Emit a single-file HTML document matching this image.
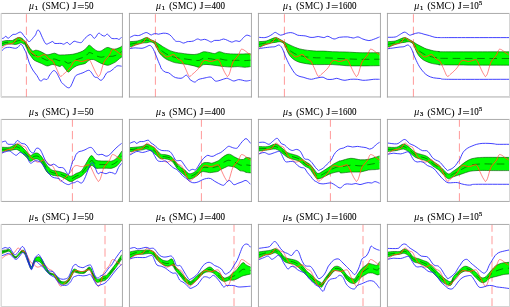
<!DOCTYPE html>
<html><head><meta charset="utf-8"><style>
html,body{margin:0;padding:0;background:#fff;width:510px;height:307px;overflow:hidden;}
svg{display:block;font-family:"Liberation Serif",serif;}
.t{filter:grayscale(1);}
</style></head><body>
<svg width="510" height="307" viewBox="0 0 510 307">
<rect width="510" height="307" fill="#fff"/>
<clipPath id="c00"><rect x="1.4" y="13.45" width="121.05" height="83.5"/></clipPath>
<g transform="translate(0,0)">
<g clip-path="url(#c00)">
<line x1="26.4" y1="14.2" x2="26.4" y2="97.95" stroke="#ff9a9a" stroke-width="1.0" stroke-dasharray="8.3 4.15"/>
<path d="M1,41.8 C1.68,41.62 3.85,40.92 5.1,40.7 C6.35,40.48 7.37,40.53 8.5,40.5 C9.63,40.47 11.15,40.55 11.9,40.5 C12.65,40.45 11.95,40.68 13,40.2 C14.05,39.72 16.78,37.95 18.2,37.6 C19.62,37.25 20.42,37.52 21.5,38.1 C22.58,38.68 23.73,40.07 24.7,41.1 C25.67,42.13 26.42,43.1 27.3,44.3 C28.18,45.5 29.12,47.2 30,48.3 C30.88,49.4 31.63,50.58 32.6,50.9 C33.57,51.22 34.72,50.2 35.8,50.2 C36.88,50.2 37.9,50.47 39.1,50.9 C40.3,51.33 41.7,52.15 43,52.8 C44.3,53.45 45.6,54.58 46.9,54.8 C48.2,55.02 49.5,54.37 50.8,54.1 C52.1,53.83 53.4,53.08 54.7,53.2 C56,53.32 57.38,54.52 58.6,54.8 C59.82,55.08 60.57,54.92 62,54.9 C63.43,54.88 65.47,54.8 67.2,54.7 C68.93,54.6 70.67,54.58 72.4,54.3 C74.13,54.02 75.87,53.55 77.6,53 C79.33,52.45 81.28,51.87 82.8,51 C84.32,50.13 85.62,48.77 86.7,47.8 C87.78,46.83 88.2,45.1 89.3,45.2 C90.4,45.3 91.98,47.43 93.3,48.4 C94.62,49.37 95.9,50.57 97.2,51 C98.5,51.43 99.8,51.43 101.1,51 C102.4,50.57 103.82,49 105,48.4 C106.18,47.8 106.9,47.28 108.2,47.4 C109.5,47.52 111.38,48.88 112.8,49.1 C114.22,49.32 115.4,49.03 116.7,48.7 C118,48.37 119.73,47.58 120.6,47.1 C121.47,46.62 121.68,46.02 121.9,45.8 L121.9,56.9 C121.47,57.22 120.38,57.93 119.3,58.8 C118.22,59.67 116.7,61.23 115.4,62.1 C114.1,62.97 112.7,63.47 111.5,64 C110.3,64.53 109.28,65.18 108.2,65.3 C107.12,65.42 106.18,65.02 105,64.7 C103.82,64.38 102.4,63.95 101.1,63.4 C99.8,62.85 98.5,62.05 97.2,61.4 C95.9,60.75 94.62,59.72 93.3,59.5 C91.98,59.28 90.62,59.45 89.3,60.1 C87.98,60.75 86.92,62.63 85.4,63.4 C83.88,64.17 81.72,64.27 80.2,64.7 C78.68,65.13 77.6,65.35 76.3,66 C75,66.65 73.48,67.73 72.4,68.6 C71.32,69.47 70.55,70.65 69.8,71.2 C69.05,71.75 68.77,72.43 67.9,71.9 C67.03,71.37 65.58,69.1 64.6,68 C63.62,66.9 62.78,65.55 62,65.3 C61.22,65.05 60.9,66.52 59.9,66.5 C58.9,66.48 57.3,65.53 56,65.2 C54.7,64.87 53.4,64.38 52.1,64.5 C50.8,64.62 49.28,65.73 48.2,65.9 C47.12,66.07 46.68,65.88 45.6,65.5 C44.52,65.12 43,64.2 41.7,63.6 C40.4,63 39.1,62.5 37.8,61.9 C36.5,61.3 34.98,60.87 33.9,60 C32.82,59.13 32.18,57.9 31.3,56.7 C30.42,55.5 29.37,54.2 28.6,52.8 C27.83,51.4 27.35,49.72 26.7,48.3 C26.05,46.88 25.2,45 24.7,44.3 C24.2,43.6 24.28,44.35 23.7,44.1 C23.12,43.85 22.05,42.87 21.2,42.8 C20.35,42.73 19.58,43.42 18.6,43.7 C17.62,43.98 16.42,44.43 15.3,44.5 C14.18,44.57 13.03,44.17 11.9,44.1 C10.77,44.03 9.63,44.03 8.5,44.1 C7.37,44.17 6.35,44.05 5.1,44.5 C3.85,44.95 1.68,46.42 1,46.8 Z" fill="#00ff00"/>
<path d="M1,41.8 C1.68,41.62 3.85,40.92 5.1,40.7 C6.35,40.48 7.37,40.53 8.5,40.5 C9.63,40.47 11.15,40.55 11.9,40.5 C12.65,40.45 11.95,40.68 13,40.2 C14.05,39.72 16.78,37.95 18.2,37.6 C19.62,37.25 20.42,37.52 21.5,38.1 C22.58,38.68 23.73,40.07 24.7,41.1 C25.67,42.13 26.42,43.1 27.3,44.3 C28.18,45.5 29.12,47.2 30,48.3 C30.88,49.4 31.63,50.58 32.6,50.9 C33.57,51.22 34.72,50.2 35.8,50.2 C36.88,50.2 37.9,50.47 39.1,50.9 C40.3,51.33 41.7,52.15 43,52.8 C44.3,53.45 45.6,54.58 46.9,54.8 C48.2,55.02 49.5,54.37 50.8,54.1 C52.1,53.83 53.4,53.08 54.7,53.2 C56,53.32 57.38,54.52 58.6,54.8 C59.82,55.08 60.57,54.92 62,54.9 C63.43,54.88 65.47,54.8 67.2,54.7 C68.93,54.6 70.67,54.58 72.4,54.3 C74.13,54.02 75.87,53.55 77.6,53 C79.33,52.45 81.28,51.87 82.8,51 C84.32,50.13 85.62,48.77 86.7,47.8 C87.78,46.83 88.2,45.1 89.3,45.2 C90.4,45.3 91.98,47.43 93.3,48.4 C94.62,49.37 95.9,50.57 97.2,51 C98.5,51.43 99.8,51.43 101.1,51 C102.4,50.57 103.82,49 105,48.4 C106.18,47.8 106.9,47.28 108.2,47.4 C109.5,47.52 111.38,48.88 112.8,49.1 C114.22,49.32 115.4,49.03 116.7,48.7 C118,48.37 119.73,47.58 120.6,47.1 C121.47,46.62 121.68,46.02 121.9,45.8" fill="none" stroke="#004f00" stroke-width="0.6"/>
<path d="M1,46.8 C1.68,46.42 3.85,44.95 5.1,44.5 C6.35,44.05 7.37,44.17 8.5,44.1 C9.63,44.03 10.77,44.03 11.9,44.1 C13.03,44.17 14.18,44.57 15.3,44.5 C16.42,44.43 17.62,43.98 18.6,43.7 C19.58,43.42 20.35,42.73 21.2,42.8 C22.05,42.87 23.12,43.85 23.7,44.1 C24.28,44.35 24.2,43.6 24.7,44.3 C25.2,45 26.05,46.88 26.7,48.3 C27.35,49.72 27.83,51.4 28.6,52.8 C29.37,54.2 30.42,55.5 31.3,56.7 C32.18,57.9 32.82,59.13 33.9,60 C34.98,60.87 36.5,61.3 37.8,61.9 C39.1,62.5 40.4,63 41.7,63.6 C43,64.2 44.52,65.12 45.6,65.5 C46.68,65.88 47.12,66.07 48.2,65.9 C49.28,65.73 50.8,64.62 52.1,64.5 C53.4,64.38 54.7,64.87 56,65.2 C57.3,65.53 58.9,66.48 59.9,66.5 C60.9,66.52 61.22,65.05 62,65.3 C62.78,65.55 63.62,66.9 64.6,68 C65.58,69.1 67.03,71.37 67.9,71.9 C68.77,72.43 69.05,71.75 69.8,71.2 C70.55,70.65 71.32,69.47 72.4,68.6 C73.48,67.73 75,66.65 76.3,66 C77.6,65.35 78.68,65.13 80.2,64.7 C81.72,64.27 83.88,64.17 85.4,63.4 C86.92,62.63 87.98,60.75 89.3,60.1 C90.62,59.45 91.98,59.28 93.3,59.5 C94.62,59.72 95.9,60.75 97.2,61.4 C98.5,62.05 99.8,62.85 101.1,63.4 C102.4,63.95 103.82,64.38 105,64.7 C106.18,65.02 107.12,65.42 108.2,65.3 C109.28,65.18 110.3,64.53 111.5,64 C112.7,63.47 114.1,62.97 115.4,62.1 C116.7,61.23 118.22,59.67 119.3,58.8 C120.38,57.93 121.47,57.22 121.9,56.9" fill="none" stroke="#004f00" stroke-width="0.6"/>
<path d="M1,44.3 C1.68,44.02 3.85,42.93 5.1,42.6 C6.35,42.27 7.37,42.35 8.5,42.3 C9.63,42.25 11.15,42.31 11.9,42.3 C12.65,42.29 12.43,42.3 13,42.21 C13.57,42.13 14.43,42.03 15.3,41.78 C16.17,41.52 17.65,40.88 18.2,40.7 C18.75,40.52 18.1,40.73 18.6,40.68 C19.1,40.64 20.72,40.45 21.2,40.43 C21.68,40.4 21.08,40.24 21.5,40.53 C21.92,40.81 23.17,41.77 23.7,42.13 C24.23,42.49 24.2,42.07 24.7,42.7 C25.2,43.33 26.27,45.21 26.7,45.93 C27.13,46.65 26.98,46.41 27.3,47.01 C27.62,47.61 28.15,48.75 28.6,49.51 C29.05,50.27 29.55,50.95 30,51.56 C30.45,52.17 30.87,52.64 31.3,53.15 C31.73,53.66 32.17,54.27 32.6,54.62 C33.03,54.98 33.37,55.15 33.9,55.31 C34.43,55.46 35.15,55.4 35.8,55.56 C36.45,55.72 37.25,56.08 37.8,56.26 C38.35,56.45 38.45,56.41 39.1,56.68 C39.75,56.95 41.05,57.58 41.7,57.88 C42.35,58.19 42.35,58.19 43,58.52 C43.65,58.84 44.95,59.53 45.6,59.82 C46.25,60.11 46.47,60.18 46.9,60.25 C47.33,60.32 47.55,60.35 48.2,60.23 C48.85,60.11 50.15,59.71 50.8,59.53 C51.45,59.35 51.45,59.23 52.1,59.15 C52.75,59.08 54.05,59.03 54.7,59.08 C55.35,59.14 55.35,59.24 56,59.47 C56.65,59.69 57.95,60.23 58.6,60.43 C59.25,60.63 59.33,60.72 59.9,60.67 C60.47,60.61 61.22,59.98 62,60.1 C62.78,60.22 63.73,60.94 64.6,61.4 C65.47,61.86 66.65,62.57 67.2,62.89 C67.75,63.2 67.47,63.28 67.9,63.27 C68.33,63.27 69.05,63.15 69.8,62.85 C70.55,62.55 71.32,61.98 72.4,61.45 C73.48,60.92 75.43,60.02 76.3,59.66 C77.17,59.3 76.95,59.5 77.6,59.28 C78.25,59.06 79.33,58.64 80.2,58.35 C81.07,58.06 81.93,57.89 82.8,57.52 C83.67,57.16 84.75,56.55 85.4,56.13 C86.05,55.72 86.05,55.63 86.7,55.05 C87.35,54.47 88.2,52.83 89.3,52.65 C90.4,52.47 91.98,53.36 93.3,53.95 C94.62,54.54 95.9,55.66 97.2,56.2 C98.5,56.74 99.8,57.14 101.1,57.2 C102.4,57.26 103.82,56.69 105,56.55 C106.18,56.41 107.12,56.39 108.2,56.35 C109.28,56.31 110.73,56.33 111.5,56.31 C112.27,56.29 112.15,56.37 112.8,56.23 C113.45,56.09 114.75,55.7 115.4,55.47 C116.05,55.24 116.05,55.23 116.7,54.85 C117.35,54.48 118.65,53.61 119.3,53.22 C119.95,52.82 120.17,52.79 120.6,52.48 C121.03,52.16 121.68,51.54 121.9,51.35" fill="none" stroke="#000000" stroke-width="0.55" stroke-dasharray="7.6 4.6" opacity="0.85"/>
<path d="M0.3,49.3 C0.53,49.13 0.9,48.95 1.7,48.3 C2.5,47.65 3.97,46.1 5.1,45.4 C6.23,44.7 7.37,44.4 8.5,44.1 C9.63,43.8 10.92,43.95 11.9,43.6 C12.88,43.25 13.57,42.83 14.4,42 C15.23,41.17 16.27,39.37 16.9,38.6 C17.53,37.83 17.63,37.33 18.2,37.4 C18.77,37.47 19.52,38.45 20.3,39 C21.08,39.55 22.05,40.27 22.9,40.7 C23.75,41.13 24.7,40.9 25.4,41.6 C26.1,42.3 26.47,43.63 27.1,44.9 C27.73,46.17 28.48,47.92 29.2,49.2 C29.92,50.48 30.68,51.82 31.4,52.6 C32.12,53.38 32.57,53.2 33.5,53.9 C34.43,54.6 35.85,56.42 37,56.8 C38.15,57.18 39.27,56.58 40.4,56.2 C41.53,55.82 42.85,54.6 43.8,54.5 C44.75,54.4 45.25,54.85 46.1,55.6 C46.95,56.35 47.87,58.18 48.9,59 C49.93,59.82 51.35,59.6 52.3,60.5 C53.25,61.4 53.75,62.72 54.6,64.4 C55.45,66.08 56.45,68.62 57.4,70.6 C58.35,72.58 59.25,75.73 60.3,76.3 C61.35,76.87 62.57,74.88 63.7,74 C64.83,73.12 65.97,72.13 67.1,71 C68.23,69.87 69.37,68.78 70.5,67.2 C71.63,65.62 72.77,62.63 73.9,61.5 C75.03,60.37 76.15,60.4 77.3,60.4 C78.45,60.4 79.65,61.4 80.8,61.5 C81.95,61.6 83.07,61.28 84.2,61 C85.33,60.72 86.65,59.9 87.6,59.8 C88.55,59.7 89.05,59.35 89.9,60.4 C90.75,61.45 91.75,64.12 92.7,66.1 C93.65,68.08 94.75,70.68 95.6,72.3 C96.45,73.92 97.3,75.1 97.8,75.8 C98.3,76.5 98.15,76.88 98.6,76.5 C99.05,76.12 99.67,75.75 100.5,73.5 C101.33,71.25 102.58,65.5 103.6,63 C104.62,60.5 105.62,59.83 106.6,58.5 C107.58,57.17 108.8,56.08 109.5,55 C110.2,53.92 110.33,52.95 110.8,52 C111.27,51.05 111.6,49.63 112.3,49.3 C113,48.97 113.97,49.43 115,50 C116.03,50.57 117.42,51.92 118.5,52.7 C119.58,53.48 121,54.37 121.5,54.7" fill="none" stroke="#ff2a2a" stroke-width="0.8" stroke-linejoin="round" opacity="0.7"/>
<clipPath id="bc00"><path d="M1,41.8 C1.68,41.62 3.85,40.92 5.1,40.7 C6.35,40.48 7.37,40.53 8.5,40.5 C9.63,40.47 11.15,40.55 11.9,40.5 C12.65,40.45 11.95,40.68 13,40.2 C14.05,39.72 16.78,37.95 18.2,37.6 C19.62,37.25 20.42,37.52 21.5,38.1 C22.58,38.68 23.73,40.07 24.7,41.1 C25.67,42.13 26.42,43.1 27.3,44.3 C28.18,45.5 29.12,47.2 30,48.3 C30.88,49.4 31.63,50.58 32.6,50.9 C33.57,51.22 34.72,50.2 35.8,50.2 C36.88,50.2 37.9,50.47 39.1,50.9 C40.3,51.33 41.7,52.15 43,52.8 C44.3,53.45 45.6,54.58 46.9,54.8 C48.2,55.02 49.5,54.37 50.8,54.1 C52.1,53.83 53.4,53.08 54.7,53.2 C56,53.32 57.38,54.52 58.6,54.8 C59.82,55.08 60.57,54.92 62,54.9 C63.43,54.88 65.47,54.8 67.2,54.7 C68.93,54.6 70.67,54.58 72.4,54.3 C74.13,54.02 75.87,53.55 77.6,53 C79.33,52.45 81.28,51.87 82.8,51 C84.32,50.13 85.62,48.77 86.7,47.8 C87.78,46.83 88.2,45.1 89.3,45.2 C90.4,45.3 91.98,47.43 93.3,48.4 C94.62,49.37 95.9,50.57 97.2,51 C98.5,51.43 99.8,51.43 101.1,51 C102.4,50.57 103.82,49 105,48.4 C106.18,47.8 106.9,47.28 108.2,47.4 C109.5,47.52 111.38,48.88 112.8,49.1 C114.22,49.32 115.4,49.03 116.7,48.7 C118,48.37 119.73,47.58 120.6,47.1 C121.47,46.62 121.68,46.02 121.9,45.8 L121.9,56.9 C121.47,57.22 120.38,57.93 119.3,58.8 C118.22,59.67 116.7,61.23 115.4,62.1 C114.1,62.97 112.7,63.47 111.5,64 C110.3,64.53 109.28,65.18 108.2,65.3 C107.12,65.42 106.18,65.02 105,64.7 C103.82,64.38 102.4,63.95 101.1,63.4 C99.8,62.85 98.5,62.05 97.2,61.4 C95.9,60.75 94.62,59.72 93.3,59.5 C91.98,59.28 90.62,59.45 89.3,60.1 C87.98,60.75 86.92,62.63 85.4,63.4 C83.88,64.17 81.72,64.27 80.2,64.7 C78.68,65.13 77.6,65.35 76.3,66 C75,66.65 73.48,67.73 72.4,68.6 C71.32,69.47 70.55,70.65 69.8,71.2 C69.05,71.75 68.77,72.43 67.9,71.9 C67.03,71.37 65.58,69.1 64.6,68 C63.62,66.9 62.78,65.55 62,65.3 C61.22,65.05 60.9,66.52 59.9,66.5 C58.9,66.48 57.3,65.53 56,65.2 C54.7,64.87 53.4,64.38 52.1,64.5 C50.8,64.62 49.28,65.73 48.2,65.9 C47.12,66.07 46.68,65.88 45.6,65.5 C44.52,65.12 43,64.2 41.7,63.6 C40.4,63 39.1,62.5 37.8,61.9 C36.5,61.3 34.98,60.87 33.9,60 C32.82,59.13 32.18,57.9 31.3,56.7 C30.42,55.5 29.37,54.2 28.6,52.8 C27.83,51.4 27.35,49.72 26.7,48.3 C26.05,46.88 25.2,45 24.7,44.3 C24.2,43.6 24.28,44.35 23.7,44.1 C23.12,43.85 22.05,42.87 21.2,42.8 C20.35,42.73 19.58,43.42 18.6,43.7 C17.62,43.98 16.42,44.43 15.3,44.5 C14.18,44.57 13.03,44.17 11.9,44.1 C10.77,44.03 9.63,44.03 8.5,44.1 C7.37,44.17 6.35,44.05 5.1,44.5 C3.85,44.95 1.68,46.42 1,46.8 Z"/></clipPath>
<path clip-path="url(#bc00)" d="M0.3,49.3 C0.53,49.13 0.9,48.95 1.7,48.3 C2.5,47.65 3.97,46.1 5.1,45.4 C6.23,44.7 7.37,44.4 8.5,44.1 C9.63,43.8 10.92,43.95 11.9,43.6 C12.88,43.25 13.57,42.83 14.4,42 C15.23,41.17 16.27,39.37 16.9,38.6 C17.53,37.83 17.63,37.33 18.2,37.4 C18.77,37.47 19.52,38.45 20.3,39 C21.08,39.55 22.05,40.27 22.9,40.7 C23.75,41.13 24.7,40.9 25.4,41.6 C26.1,42.3 26.47,43.63 27.1,44.9 C27.73,46.17 28.48,47.92 29.2,49.2 C29.92,50.48 30.68,51.82 31.4,52.6 C32.12,53.38 32.57,53.2 33.5,53.9 C34.43,54.6 35.85,56.42 37,56.8 C38.15,57.18 39.27,56.58 40.4,56.2 C41.53,55.82 42.85,54.6 43.8,54.5 C44.75,54.4 45.25,54.85 46.1,55.6 C46.95,56.35 47.87,58.18 48.9,59 C49.93,59.82 51.35,59.6 52.3,60.5 C53.25,61.4 53.75,62.72 54.6,64.4 C55.45,66.08 56.45,68.62 57.4,70.6 C58.35,72.58 59.25,75.73 60.3,76.3 C61.35,76.87 62.57,74.88 63.7,74 C64.83,73.12 65.97,72.13 67.1,71 C68.23,69.87 69.37,68.78 70.5,67.2 C71.63,65.62 72.77,62.63 73.9,61.5 C75.03,60.37 76.15,60.4 77.3,60.4 C78.45,60.4 79.65,61.4 80.8,61.5 C81.95,61.6 83.07,61.28 84.2,61 C85.33,60.72 86.65,59.9 87.6,59.8 C88.55,59.7 89.05,59.35 89.9,60.4 C90.75,61.45 91.75,64.12 92.7,66.1 C93.65,68.08 94.75,70.68 95.6,72.3 C96.45,73.92 97.3,75.1 97.8,75.8 C98.3,76.5 98.15,76.88 98.6,76.5 C99.05,76.12 99.67,75.75 100.5,73.5 C101.33,71.25 102.58,65.5 103.6,63 C104.62,60.5 105.62,59.83 106.6,58.5 C107.58,57.17 108.8,56.08 109.5,55 C110.2,53.92 110.33,52.95 110.8,52 C111.27,51.05 111.6,49.63 112.3,49.3 C113,48.97 113.97,49.43 115,50 C116.03,50.57 117.42,51.92 118.5,52.7 C119.58,53.48 121,54.37 121.5,54.7" fill="none" stroke="#ff6a00" stroke-width="0.9" stroke-linejoin="round" opacity="0.85"/>
<path d="M1,38.8 C1.47,38.67 2.98,38.43 3.8,38 C4.62,37.57 5.2,36.15 5.9,36.2 C6.6,36.25 7.15,38.33 8,38.3 C8.85,38.27 10.15,36.65 11,36 C11.85,35.35 12.38,34.67 13.1,34.4 C13.82,34.13 14.52,34.62 15.3,34.4 C16.08,34.18 17.03,33.48 17.8,33.1 C18.57,32.72 19.27,32.17 19.9,32.1 C20.53,32.03 20.97,32.12 21.6,32.7 C22.23,33.28 22.92,34.62 23.7,35.6 C24.48,36.58 25.45,37.6 26.3,38.6 C27.15,39.6 27.95,41.38 28.8,41.6 C29.65,41.82 30.62,40.62 31.4,39.9 C32.18,39.18 32.8,38.15 33.5,37.3 C34.2,36.45 34.97,35.93 35.6,34.8 C36.23,33.67 36.67,31.13 37.3,30.5 C37.93,29.87 38.55,29.82 39.4,31 C40.25,32.18 41.33,35.47 42.4,37.6 C43.47,39.73 44.67,42.88 45.8,43.8 C46.93,44.72 48.05,43.48 49.2,43.1 C50.35,42.72 51.78,41.45 52.7,41.5 C53.62,41.55 53.32,43.08 54.7,43.4 C56.08,43.72 59.5,43.27 61,43.4 C62.5,43.53 62.67,44.37 63.7,44.2 C64.73,44.03 66.17,42.35 67.2,42.4 C68.23,42.45 68.77,44.68 69.9,44.5 C71.03,44.32 72.75,41.7 74,41.3 C75.25,40.9 76.15,41.92 77.4,42.1 C78.65,42.28 80.23,43.03 81.5,42.4 C82.77,41.77 83.52,39.62 85,38.3 C86.48,36.98 88.82,34.5 90.4,34.5 C91.98,34.5 93.13,38.52 94.5,38.3 C95.87,38.08 97.35,33.7 98.6,33.2 C99.85,32.7 100.97,34.83 102,35.3 C103.03,35.77 103.88,36.18 104.8,36 C105.72,35.82 106.37,33.82 107.5,34.2 C108.63,34.58 110.02,37.57 111.6,38.3 C113.18,39.03 115.75,38.42 117,38.6 C118.25,38.78 118.33,39.63 119.1,39.4 C119.87,39.17 121.18,37.57 121.6,37.2" fill="none" stroke="#2020ff" stroke-width="0.85" stroke-linejoin="round"/>
<path d="M1,51.5 C1.47,51.05 2.98,49.43 3.8,48.8 C4.62,48.17 4.98,47.95 5.9,47.7 C6.82,47.45 8.17,47.27 9.3,47.3 C10.43,47.33 11.63,47.73 12.7,47.9 C13.77,48.07 14.78,48.43 15.7,48.3 C16.62,48.17 17.43,47.73 18.2,47.1 C18.97,46.47 19.67,44.85 20.3,44.5 C20.93,44.15 21.43,44.43 22,45 C22.57,45.57 23.13,46.85 23.7,47.9 C24.27,48.95 24.9,50.2 25.4,51.3 C25.9,52.4 26.03,52.52 26.7,54.5 C27.37,56.48 28.38,60.62 29.4,63.2 C30.42,65.78 31.55,67.95 32.8,70 C34.05,72.05 35.63,73.67 36.9,75.5 C38.17,77.33 39.25,80.42 40.4,81 C41.55,81.58 42.67,79.28 43.8,79 C44.93,78.72 46.18,80 47.2,79.3 C48.22,78.6 48.87,76.23 49.9,74.8 C50.93,73.37 52.37,71.15 53.4,70.7 C54.43,70.25 55.2,71.07 56.1,72.1 C57,73.13 57.88,75.17 58.8,76.9 C59.72,78.63 60.78,81.25 61.6,82.5 C62.42,83.75 62.77,83.58 63.7,84.4 C64.63,85.22 66.17,86.9 67.2,87.4 C68.23,87.9 69.1,88.02 69.9,87.4 C70.7,86.78 71.08,85.57 72,83.7 C72.92,81.83 74.27,77.78 75.4,76.2 C76.53,74.62 77.55,74.77 78.8,74.2 C80.05,73.63 81.3,73.45 82.9,72.8 C84.5,72.15 87.03,70.42 88.4,70.3 C89.77,70.18 90.08,71 91.1,72.1 C92.12,73.2 93.47,75.98 94.5,76.9 C95.53,77.82 96.27,77.03 97.3,77.6 C98.33,78.17 99.68,80.18 100.7,80.3 C101.72,80.42 102.38,79.55 103.4,78.3 C104.42,77.05 105.67,73.95 106.8,72.8 C107.93,71.65 109.05,72.08 110.2,71.4 C111.35,70.72 112.55,69.62 113.7,68.7 C114.85,67.78 115.78,66.32 117.1,65.9 C118.42,65.48 120.85,66.15 121.6,66.2" fill="none" stroke="#2020ff" stroke-width="0.85" stroke-linejoin="round"/>
</g>
<line x1="1.4" y1="13.45" x2="122.45" y2="13.45" stroke="#a0a0a0" stroke-width="0.9" stroke-linecap="square"/>
<line x1="1.4" y1="96.95" x2="122.45" y2="96.95" stroke="#a0a0a0" stroke-width="0.9" stroke-linecap="square"/>
<rect x="0" y="13.45" width="1" height="83.5" fill="#ececec"/>
<rect x="1" y="13.45" width="1" height="83.5" fill="#dcdcdc"/>
<line x1="122.45" y1="13.45" x2="122.45" y2="96.95" stroke="#a0a0a0" stroke-width="0.9" stroke-linecap="square"/>
</g>
<g class="t"><text x="29" y="8.75" font-family="Liberation Serif" font-size="10" font-style="italic" textLength="5.0" lengthAdjust="spacingAndGlyphs">&#956;</text>
<text x="34.7" y="9.85" font-family="Liberation Serif" font-size="6.6" stroke="#000" stroke-width="0.22">1</text>
<text x="42.1" y="9.45" font-family="Liberation Serif" font-size="11">(</text>
<text x="45.4" y="8.75" font-family="Liberation Serif" font-size="9.3" textLength="20.4" lengthAdjust="spacingAndGlyphs">SMC</text>
<text x="65.7" y="9.45" font-family="Liberation Serif" font-size="11">)</text>
<text x="72.7" y="8.75" font-family="Liberation Serif" font-size="9.3" stroke="#000" stroke-width="0.15">J</text>
<rect x="77.8" y="5" width="6.1" height="0.6" fill="#000"/>
<rect x="77.8" y="7.2" width="6.1" height="0.6" fill="#000"/>
<text x="84.6" y="8.75" font-family="Liberation Serif" font-size="9.3" stroke="#000" stroke-width="0.1" textLength="9" lengthAdjust="spacingAndGlyphs">50</text></g>
<clipPath id="c01"><rect x="0.45" y="13.45" width="122" height="83.5"/></clipPath>
<g transform="translate(129,0)">
<g clip-path="url(#c01)">
<line x1="26.4" y1="14.2" x2="26.4" y2="97.95" stroke="#ff9a9a" stroke-width="1.0" stroke-dasharray="8.3 4.15"/>
<path d="M0.6,41.7 C1.87,41.58 6.13,41.38 8.2,41 C10.27,40.62 11.43,39.97 13,39.4 C14.57,38.83 16.08,37.53 17.6,37.6 C19.12,37.67 20.7,39.15 22.1,39.8 C23.5,40.45 24.68,40.78 26,41.5 C27.32,42.22 28.68,43.23 30,44.1 C31.32,44.97 32.6,45.9 33.9,46.7 C35.2,47.5 36.5,48.2 37.8,48.9 C39.1,49.6 40.18,50.32 41.7,50.9 C43.22,51.48 45.17,52.02 46.9,52.4 C48.63,52.78 50.15,52.92 52.1,53.2 C54.05,53.48 56.42,53.88 58.6,54.1 C60.78,54.32 63.23,54.6 65.2,54.5 C67.17,54.4 68.82,53.97 70.4,53.5 C71.98,53.03 72.85,51.83 74.7,51.7 C76.55,51.57 79.68,52.38 81.5,52.7 C83.32,53.02 84.12,53.77 85.6,53.6 C87.08,53.43 88.57,51.73 90.4,51.7 C92.23,51.67 93.75,53.02 96.6,53.4 C99.45,53.78 103.33,53.93 107.5,54 C111.67,54.07 119.25,53.83 121.6,53.8 L121.6,66.6 C120.62,66.72 117.82,67.3 115.7,67.3 C113.58,67.3 111.18,66.65 108.9,66.6 C106.62,66.55 104.28,67 102,67 C99.72,67 97.47,66.82 95.2,66.6 C92.93,66.38 90.68,66 88.4,65.7 C86.12,65.4 83.78,64.98 81.5,64.8 C79.22,64.62 76.55,64.2 74.7,64.6 C72.85,65 71.98,66.98 70.4,67.2 C68.82,67.42 67.17,66.35 65.2,65.9 C63.23,65.45 60.78,64.88 58.6,64.5 C56.42,64.12 54.27,63.92 52.1,63.6 C49.93,63.28 47.55,63.1 45.6,62.6 C43.65,62.1 41.92,61.25 40.4,60.6 C38.88,59.95 37.8,59.57 36.5,58.7 C35.2,57.83 33.68,56.48 32.6,55.4 C31.52,54.32 30.77,53.38 30,52.2 C29.23,51.02 28.67,49.62 28,48.3 C27.33,46.98 26.98,45.35 26,44.3 C25.02,43.25 23.5,42.25 22.1,42 C20.7,41.75 19.12,42.63 17.6,42.8 C16.08,42.97 14.57,42.72 13,43 C11.43,43.28 10.27,43.83 8.2,44.5 C6.13,45.17 1.87,46.58 0.6,47 Z" fill="#00ff00"/>
<path d="M0.6,41.7 C1.87,41.58 6.13,41.38 8.2,41 C10.27,40.62 11.43,39.97 13,39.4 C14.57,38.83 16.08,37.53 17.6,37.6 C19.12,37.67 20.7,39.15 22.1,39.8 C23.5,40.45 24.68,40.78 26,41.5 C27.32,42.22 28.68,43.23 30,44.1 C31.32,44.97 32.6,45.9 33.9,46.7 C35.2,47.5 36.5,48.2 37.8,48.9 C39.1,49.6 40.18,50.32 41.7,50.9 C43.22,51.48 45.17,52.02 46.9,52.4 C48.63,52.78 50.15,52.92 52.1,53.2 C54.05,53.48 56.42,53.88 58.6,54.1 C60.78,54.32 63.23,54.6 65.2,54.5 C67.17,54.4 68.82,53.97 70.4,53.5 C71.98,53.03 72.85,51.83 74.7,51.7 C76.55,51.57 79.68,52.38 81.5,52.7 C83.32,53.02 84.12,53.77 85.6,53.6 C87.08,53.43 88.57,51.73 90.4,51.7 C92.23,51.67 93.75,53.02 96.6,53.4 C99.45,53.78 103.33,53.93 107.5,54 C111.67,54.07 119.25,53.83 121.6,53.8" fill="none" stroke="#004f00" stroke-width="0.6"/>
<path d="M0.6,47 C1.87,46.58 6.13,45.17 8.2,44.5 C10.27,43.83 11.43,43.28 13,43 C14.57,42.72 16.08,42.97 17.6,42.8 C19.12,42.63 20.7,41.75 22.1,42 C23.5,42.25 25.02,43.25 26,44.3 C26.98,45.35 27.33,46.98 28,48.3 C28.67,49.62 29.23,51.02 30,52.2 C30.77,53.38 31.52,54.32 32.6,55.4 C33.68,56.48 35.2,57.83 36.5,58.7 C37.8,59.57 38.88,59.95 40.4,60.6 C41.92,61.25 43.65,62.1 45.6,62.6 C47.55,63.1 49.93,63.28 52.1,63.6 C54.27,63.92 56.42,64.12 58.6,64.5 C60.78,64.88 63.23,65.45 65.2,65.9 C67.17,66.35 68.82,67.42 70.4,67.2 C71.98,66.98 72.85,65 74.7,64.6 C76.55,64.2 79.22,64.62 81.5,64.8 C83.78,64.98 86.12,65.4 88.4,65.7 C90.68,66 92.93,66.38 95.2,66.6 C97.47,66.82 99.72,67 102,67 C104.28,67 106.62,66.55 108.9,66.6 C111.18,66.65 113.58,67.3 115.7,67.3 C117.82,67.3 120.62,66.72 121.6,66.6" fill="none" stroke="#004f00" stroke-width="0.6"/>
<path d="M0.6,44.35 C1.87,44.08 6.13,43.27 8.2,42.75 C10.27,42.23 11.43,41.62 13,41.2 C14.57,40.78 16.08,40.25 17.6,40.2 C19.12,40.15 20.7,40.45 22.1,40.9 C23.5,41.35 25.02,42.12 26,42.9 C26.98,43.67 27.33,44.67 28,45.55 C28.67,46.42 29.23,47.31 30,48.15 C30.77,48.99 31.95,50.04 32.6,50.62 C33.25,51.19 33.25,51.13 33.9,51.6 C34.55,52.07 35.85,53.01 36.5,53.43 C37.15,53.85 37.15,53.79 37.8,54.12 C38.45,54.45 39.75,55.1 40.4,55.42 C41.05,55.73 40.83,55.68 41.7,56 C42.57,56.32 44.73,57.05 45.6,57.31 C46.47,57.58 45.82,57.42 46.9,57.6 C47.98,57.78 50.15,58.12 52.1,58.4 C54.05,58.68 56.42,59 58.6,59.3 C60.78,59.6 63.23,60.03 65.2,60.2 C67.17,60.38 68.82,60.69 70.4,60.35 C71.98,60.01 72.85,58.42 74.7,58.15 C76.55,57.88 79.68,58.53 81.5,58.75 C83.32,58.97 84.45,59.41 85.6,59.47 C86.75,59.53 87.6,59.2 88.4,59.1 C89.2,58.99 89.27,58.71 90.4,58.83 C91.53,58.95 94.17,59.61 95.2,59.81 C96.23,60.01 95.47,59.95 96.6,60.04 C97.73,60.13 100.18,60.3 102,60.35 C103.82,60.4 106.35,60.35 107.5,60.34 C108.65,60.33 107.53,60.25 108.9,60.29 C110.27,60.33 113.58,60.61 115.7,60.59 C117.82,60.58 120.62,60.27 121.6,60.2" fill="none" stroke="#000000" stroke-width="0.55" stroke-dasharray="7.6 4.6" opacity="0.85"/>
<path d="M0.3,49.3 C0.53,49.13 0.9,48.95 1.7,48.3 C2.5,47.65 3.97,46.1 5.1,45.4 C6.23,44.7 7.37,44.4 8.5,44.1 C9.63,43.8 10.92,43.95 11.9,43.6 C12.88,43.25 13.57,42.83 14.4,42 C15.23,41.17 16.27,39.37 16.9,38.6 C17.53,37.83 17.63,37.33 18.2,37.4 C18.77,37.47 19.52,38.45 20.3,39 C21.08,39.55 22.05,40.27 22.9,40.7 C23.75,41.13 24.7,40.9 25.4,41.6 C26.1,42.3 26.47,43.63 27.1,44.9 C27.73,46.17 28.48,47.92 29.2,49.2 C29.92,50.48 30.68,51.82 31.4,52.6 C32.12,53.38 32.57,53.2 33.5,53.9 C34.43,54.6 35.85,56.42 37,56.8 C38.15,57.18 39.27,56.58 40.4,56.2 C41.53,55.82 42.85,54.6 43.8,54.5 C44.75,54.4 45.25,54.85 46.1,55.6 C46.95,56.35 47.87,58.18 48.9,59 C49.93,59.82 51.35,59.6 52.3,60.5 C53.25,61.4 53.75,62.72 54.6,64.4 C55.45,66.08 56.45,68.62 57.4,70.6 C58.35,72.58 59.25,75.73 60.3,76.3 C61.35,76.87 62.57,74.88 63.7,74 C64.83,73.12 65.97,72.13 67.1,71 C68.23,69.87 69.37,68.78 70.5,67.2 C71.63,65.62 72.77,62.63 73.9,61.5 C75.03,60.37 76.15,60.4 77.3,60.4 C78.45,60.4 79.65,61.4 80.8,61.5 C81.95,61.6 83.07,61.28 84.2,61 C85.33,60.72 86.65,59.9 87.6,59.8 C88.55,59.7 89.05,59.35 89.9,60.4 C90.75,61.45 91.75,64.12 92.7,66.1 C93.65,68.08 94.75,70.68 95.6,72.3 C96.45,73.92 97.3,75.1 97.8,75.8 C98.3,76.5 98.15,76.88 98.6,76.5 C99.05,76.12 99.67,75.75 100.5,73.5 C101.33,71.25 102.58,65.5 103.6,63 C104.62,60.5 105.62,59.83 106.6,58.5 C107.58,57.17 108.8,56.08 109.5,55 C110.2,53.92 110.33,52.95 110.8,52 C111.27,51.05 111.6,49.63 112.3,49.3 C113,48.97 113.97,49.43 115,50 C116.03,50.57 117.42,51.92 118.5,52.7 C119.58,53.48 121,54.37 121.5,54.7" fill="none" stroke="#ff2a2a" stroke-width="0.8" stroke-linejoin="round" opacity="0.7"/>
<clipPath id="bc01"><path d="M0.6,41.7 C1.87,41.58 6.13,41.38 8.2,41 C10.27,40.62 11.43,39.97 13,39.4 C14.57,38.83 16.08,37.53 17.6,37.6 C19.12,37.67 20.7,39.15 22.1,39.8 C23.5,40.45 24.68,40.78 26,41.5 C27.32,42.22 28.68,43.23 30,44.1 C31.32,44.97 32.6,45.9 33.9,46.7 C35.2,47.5 36.5,48.2 37.8,48.9 C39.1,49.6 40.18,50.32 41.7,50.9 C43.22,51.48 45.17,52.02 46.9,52.4 C48.63,52.78 50.15,52.92 52.1,53.2 C54.05,53.48 56.42,53.88 58.6,54.1 C60.78,54.32 63.23,54.6 65.2,54.5 C67.17,54.4 68.82,53.97 70.4,53.5 C71.98,53.03 72.85,51.83 74.7,51.7 C76.55,51.57 79.68,52.38 81.5,52.7 C83.32,53.02 84.12,53.77 85.6,53.6 C87.08,53.43 88.57,51.73 90.4,51.7 C92.23,51.67 93.75,53.02 96.6,53.4 C99.45,53.78 103.33,53.93 107.5,54 C111.67,54.07 119.25,53.83 121.6,53.8 L121.6,66.6 C120.62,66.72 117.82,67.3 115.7,67.3 C113.58,67.3 111.18,66.65 108.9,66.6 C106.62,66.55 104.28,67 102,67 C99.72,67 97.47,66.82 95.2,66.6 C92.93,66.38 90.68,66 88.4,65.7 C86.12,65.4 83.78,64.98 81.5,64.8 C79.22,64.62 76.55,64.2 74.7,64.6 C72.85,65 71.98,66.98 70.4,67.2 C68.82,67.42 67.17,66.35 65.2,65.9 C63.23,65.45 60.78,64.88 58.6,64.5 C56.42,64.12 54.27,63.92 52.1,63.6 C49.93,63.28 47.55,63.1 45.6,62.6 C43.65,62.1 41.92,61.25 40.4,60.6 C38.88,59.95 37.8,59.57 36.5,58.7 C35.2,57.83 33.68,56.48 32.6,55.4 C31.52,54.32 30.77,53.38 30,52.2 C29.23,51.02 28.67,49.62 28,48.3 C27.33,46.98 26.98,45.35 26,44.3 C25.02,43.25 23.5,42.25 22.1,42 C20.7,41.75 19.12,42.63 17.6,42.8 C16.08,42.97 14.57,42.72 13,43 C11.43,43.28 10.27,43.83 8.2,44.5 C6.13,45.17 1.87,46.58 0.6,47 Z"/></clipPath>
<path clip-path="url(#bc01)" d="M0.3,49.3 C0.53,49.13 0.9,48.95 1.7,48.3 C2.5,47.65 3.97,46.1 5.1,45.4 C6.23,44.7 7.37,44.4 8.5,44.1 C9.63,43.8 10.92,43.95 11.9,43.6 C12.88,43.25 13.57,42.83 14.4,42 C15.23,41.17 16.27,39.37 16.9,38.6 C17.53,37.83 17.63,37.33 18.2,37.4 C18.77,37.47 19.52,38.45 20.3,39 C21.08,39.55 22.05,40.27 22.9,40.7 C23.75,41.13 24.7,40.9 25.4,41.6 C26.1,42.3 26.47,43.63 27.1,44.9 C27.73,46.17 28.48,47.92 29.2,49.2 C29.92,50.48 30.68,51.82 31.4,52.6 C32.12,53.38 32.57,53.2 33.5,53.9 C34.43,54.6 35.85,56.42 37,56.8 C38.15,57.18 39.27,56.58 40.4,56.2 C41.53,55.82 42.85,54.6 43.8,54.5 C44.75,54.4 45.25,54.85 46.1,55.6 C46.95,56.35 47.87,58.18 48.9,59 C49.93,59.82 51.35,59.6 52.3,60.5 C53.25,61.4 53.75,62.72 54.6,64.4 C55.45,66.08 56.45,68.62 57.4,70.6 C58.35,72.58 59.25,75.73 60.3,76.3 C61.35,76.87 62.57,74.88 63.7,74 C64.83,73.12 65.97,72.13 67.1,71 C68.23,69.87 69.37,68.78 70.5,67.2 C71.63,65.62 72.77,62.63 73.9,61.5 C75.03,60.37 76.15,60.4 77.3,60.4 C78.45,60.4 79.65,61.4 80.8,61.5 C81.95,61.6 83.07,61.28 84.2,61 C85.33,60.72 86.65,59.9 87.6,59.8 C88.55,59.7 89.05,59.35 89.9,60.4 C90.75,61.45 91.75,64.12 92.7,66.1 C93.65,68.08 94.75,70.68 95.6,72.3 C96.45,73.92 97.3,75.1 97.8,75.8 C98.3,76.5 98.15,76.88 98.6,76.5 C99.05,76.12 99.67,75.75 100.5,73.5 C101.33,71.25 102.58,65.5 103.6,63 C104.62,60.5 105.62,59.83 106.6,58.5 C107.58,57.17 108.8,56.08 109.5,55 C110.2,53.92 110.33,52.95 110.8,52 C111.27,51.05 111.6,49.63 112.3,49.3 C113,48.97 113.97,49.43 115,50 C116.03,50.57 117.42,51.92 118.5,52.7 C119.58,53.48 121,54.37 121.5,54.7" fill="none" stroke="#ff6a00" stroke-width="0.9" stroke-linejoin="round" opacity="0.85"/>
<path d="M0.6,37.6 C1.42,37.22 4.23,35.63 5.5,35.3 C6.77,34.97 7.28,35.62 8.2,35.6 C9.12,35.58 9.97,35.55 11,35.2 C12.03,34.85 13.27,33.93 14.4,33.5 C15.53,33.07 16.55,32.37 17.8,32.6 C19.05,32.83 20.88,34.63 21.9,34.9 C22.92,35.17 23.1,34.43 23.9,34.2 C24.7,33.97 25.78,33.5 26.7,33.5 C27.62,33.5 28.15,34.25 29.4,34.2 C30.65,34.15 32.6,33.27 34.2,33.2 C35.8,33.13 37.63,33.28 39,33.8 C40.37,34.32 41.15,35.1 42.4,36.3 C43.65,37.5 45.13,40.13 46.5,41 C47.87,41.87 49.23,41.15 50.6,41.5 C51.97,41.85 53.45,43.07 54.7,43.1 C55.95,43.13 57.05,41.97 58.1,41.7 C59.15,41.43 59.95,41.62 61,41.5 C62.05,41.38 63.15,41.42 64.4,41 C65.65,40.58 67.25,39.15 68.5,39 C69.75,38.85 70.75,40.05 71.9,40.1 C73.05,40.15 74.25,39.25 75.4,39.3 C76.55,39.35 77.67,39.95 78.8,40.4 C79.93,40.85 81.07,42 82.2,42 C83.33,42 84.23,40.67 85.6,40.4 C86.97,40.13 88.92,40.63 90.4,40.4 C91.88,40.17 93.13,39 94.5,39 C95.87,39 97.23,39.88 98.6,40.4 C99.97,40.92 101.33,42.03 102.7,42.1 C104.07,42.17 105.43,40.93 106.8,40.8 C108.17,40.67 109.63,41.83 110.9,41.3 C112.17,40.77 113.25,38.62 114.4,37.6 C115.55,36.58 116.6,35.42 117.8,35.2 C119,34.98 120.97,36.12 121.6,36.3" fill="none" stroke="#2020ff" stroke-width="0.85" stroke-linejoin="round"/>
<path d="M0.6,48.6 C1.53,48.48 4.13,47.95 6.2,47.9 C8.27,47.85 11.22,48.45 13,48.3 C14.78,48.15 15.6,47.48 16.9,47 C18.2,46.52 19.72,45.3 20.8,45.4 C21.88,45.5 22.63,46.58 23.4,47.6 C24.17,48.62 24.75,50.08 25.4,51.5 C26.05,52.92 26.65,54.47 27.3,56.1 C27.95,57.73 28.63,59.67 29.3,61.3 C29.97,62.93 30.75,64.6 31.3,65.9 C31.85,67.2 31.77,68.07 32.6,69.1 C33.43,70.13 35.12,71.48 36.3,72.1 C37.48,72.72 38.57,72.23 39.7,72.8 C40.83,73.37 41.97,74.7 43.1,75.5 C44.23,76.3 45.02,77.13 46.5,77.6 C47.98,78.07 50.63,78.42 52,78.3 C53.37,78.18 53.78,77.42 54.7,76.9 C55.62,76.38 56.58,74.97 57.5,75.2 C58.42,75.43 59.62,77.57 60.2,78.3 C60.78,79.03 60.07,78.97 61,79.6 C61.93,80.23 64.43,82.1 65.8,82.1 C67.17,82.1 67.95,80.2 69.2,79.6 C70.45,79 71.93,78.83 73.3,78.5 C74.67,78.17 75.92,77.82 77.4,77.6 C78.88,77.38 80.72,76.63 82.2,77.2 C83.68,77.77 84.82,80.48 86.3,81 C87.78,81.52 89.27,80.75 91.1,80.3 C92.93,79.85 95.7,78.47 97.3,78.3 C98.9,78.13 99.45,78.85 100.7,79.3 C101.95,79.75 103.32,80.95 104.8,81 C106.28,81.05 108.12,79.72 109.6,79.6 C111.08,79.48 112.45,80.07 113.7,80.3 C114.95,80.53 115.78,81 117.1,81 C118.42,81 120.85,80.42 121.6,80.3" fill="none" stroke="#2020ff" stroke-width="0.85" stroke-linejoin="round"/>
</g>
<line x1="0.45" y1="13.45" x2="122.45" y2="13.45" stroke="#a0a0a0" stroke-width="0.9" stroke-linecap="square"/>
<line x1="0.45" y1="96.95" x2="122.45" y2="96.95" stroke="#a0a0a0" stroke-width="0.9" stroke-linecap="square"/>
<line x1="0.45" y1="13.45" x2="0.45" y2="96.95" stroke="#a0a0a0" stroke-width="0.9" stroke-linecap="square"/>
<line x1="122.45" y1="13.45" x2="122.45" y2="96.95" stroke="#a0a0a0" stroke-width="0.9" stroke-linecap="square"/>
</g>
<g class="t"><text x="155.95" y="8.75" font-family="Liberation Serif" font-size="10" font-style="italic" textLength="5.0" lengthAdjust="spacingAndGlyphs">&#956;</text>
<text x="161.65" y="9.85" font-family="Liberation Serif" font-size="6.6" stroke="#000" stroke-width="0.22">1</text>
<text x="169.05" y="9.45" font-family="Liberation Serif" font-size="11">(</text>
<text x="172.35" y="8.75" font-family="Liberation Serif" font-size="9.3" textLength="20.4" lengthAdjust="spacingAndGlyphs">SMC</text>
<text x="192.65" y="9.45" font-family="Liberation Serif" font-size="11">)</text>
<text x="199.65" y="8.75" font-family="Liberation Serif" font-size="9.3" stroke="#000" stroke-width="0.15">J</text>
<rect x="204.75" y="5" width="6.1" height="0.6" fill="#000"/>
<rect x="204.75" y="7.2" width="6.1" height="0.6" fill="#000"/>
<text x="211.55" y="8.75" font-family="Liberation Serif" font-size="9.3" stroke="#000" stroke-width="0.1" textLength="13.5" lengthAdjust="spacingAndGlyphs">400</text></g>
<clipPath id="c02"><rect x="0.45" y="13.45" width="122" height="83.5"/></clipPath>
<g transform="translate(258,0)">
<g clip-path="url(#c02)">
<line x1="26.4" y1="14.2" x2="26.4" y2="97.95" stroke="#ff9a9a" stroke-width="1.0" stroke-dasharray="8.3 4.15"/>
<path d="M0.6,41.7 C1.87,41.58 6.13,41.43 8.2,41 C10.27,40.57 11.43,39.67 13,39.1 C14.57,38.53 16.08,37.55 17.6,37.6 C19.12,37.65 20.7,38.72 22.1,39.4 C23.5,40.08 24.68,40.92 26,41.7 C27.32,42.48 28.68,43.4 30,44.1 C31.32,44.8 32.6,45.32 33.9,45.9 C35.2,46.48 36.5,47.1 37.8,47.6 C39.1,48.1 40.18,48.52 41.7,48.9 C43.22,49.28 45.17,49.62 46.9,49.9 C48.63,50.18 50.15,50.4 52.1,50.6 C54.05,50.8 56.42,51.02 58.6,51.1 C60.78,51.18 62.52,51 65.2,51.1 C67.88,51.2 70.83,51.55 74.7,51.7 C78.57,51.85 83.85,51.83 88.4,52 C92.95,52.17 96.47,52.58 102,52.7 C107.53,52.82 118.33,52.7 121.6,52.7 L121.6,65.7 C118.33,65.73 107.53,65.9 102,65.9 C96.47,65.9 92.95,65.92 88.4,65.7 C83.85,65.48 79.67,64.78 74.7,64.6 C69.73,64.42 62.37,64.67 58.6,64.6 C54.83,64.53 54.27,64.43 52.1,64.2 C49.93,63.97 47.55,63.58 45.6,63.2 C43.65,62.82 41.92,62.43 40.4,61.9 C38.88,61.37 37.8,60.87 36.5,60 C35.2,59.13 33.68,57.9 32.6,56.7 C31.52,55.5 30.77,54.2 30,52.8 C29.23,51.4 28.67,49.82 28,48.3 C27.33,46.78 26.98,44.8 26,43.7 C25.02,42.6 23.5,41.92 22.1,41.7 C20.7,41.48 19.12,42.18 17.6,42.4 C16.08,42.62 14.57,42.65 13,43 C11.43,43.35 10.27,43.8 8.2,44.5 C6.13,45.2 1.87,46.75 0.6,47.2 Z" fill="#00ff00"/>
<path d="M0.6,41.7 C1.87,41.58 6.13,41.43 8.2,41 C10.27,40.57 11.43,39.67 13,39.1 C14.57,38.53 16.08,37.55 17.6,37.6 C19.12,37.65 20.7,38.72 22.1,39.4 C23.5,40.08 24.68,40.92 26,41.7 C27.32,42.48 28.68,43.4 30,44.1 C31.32,44.8 32.6,45.32 33.9,45.9 C35.2,46.48 36.5,47.1 37.8,47.6 C39.1,48.1 40.18,48.52 41.7,48.9 C43.22,49.28 45.17,49.62 46.9,49.9 C48.63,50.18 50.15,50.4 52.1,50.6 C54.05,50.8 56.42,51.02 58.6,51.1 C60.78,51.18 62.52,51 65.2,51.1 C67.88,51.2 70.83,51.55 74.7,51.7 C78.57,51.85 83.85,51.83 88.4,52 C92.95,52.17 96.47,52.58 102,52.7 C107.53,52.82 118.33,52.7 121.6,52.7" fill="none" stroke="#004f00" stroke-width="0.6"/>
<path d="M0.6,47.2 C1.87,46.75 6.13,45.2 8.2,44.5 C10.27,43.8 11.43,43.35 13,43 C14.57,42.65 16.08,42.62 17.6,42.4 C19.12,42.18 20.7,41.48 22.1,41.7 C23.5,41.92 25.02,42.6 26,43.7 C26.98,44.8 27.33,46.78 28,48.3 C28.67,49.82 29.23,51.4 30,52.8 C30.77,54.2 31.52,55.5 32.6,56.7 C33.68,57.9 35.2,59.13 36.5,60 C37.8,60.87 38.88,61.37 40.4,61.9 C41.92,62.43 43.65,62.82 45.6,63.2 C47.55,63.58 49.93,63.97 52.1,64.2 C54.27,64.43 54.83,64.53 58.6,64.6 C62.37,64.67 69.73,64.42 74.7,64.6 C79.67,64.78 83.85,65.48 88.4,65.7 C92.95,65.92 96.47,65.9 102,65.9 C107.53,65.9 118.33,65.73 121.6,65.7" fill="none" stroke="#004f00" stroke-width="0.6"/>
<path d="M0.6,44.45 C1.87,44.17 6.13,43.32 8.2,42.75 C10.27,42.18 11.43,41.51 13,41.05 C14.57,40.59 16.08,40.08 17.6,40 C19.12,39.92 20.7,40.1 22.1,40.55 C23.5,41 25.02,41.86 26,42.7 C26.98,43.54 27.33,44.64 28,45.6 C28.67,46.56 29.23,47.55 30,48.45 C30.77,49.35 31.95,50.43 32.6,51 C33.25,51.57 33.25,51.43 33.9,51.85 C34.55,52.27 35.85,53.14 36.5,53.52 C37.15,53.89 37.15,53.84 37.8,54.12 C38.45,54.39 39.75,54.94 40.4,55.18 C41.05,55.42 40.83,55.36 41.7,55.56 C42.57,55.77 44.73,56.24 45.6,56.42 C46.47,56.61 45.82,56.49 46.9,56.65 C47.98,56.81 50.15,57.2 52.1,57.4 C54.05,57.6 56.42,57.77 58.6,57.85 C60.78,57.92 62.52,57.8 65.2,57.85 C67.88,57.9 70.83,57.98 74.7,58.15 C78.57,58.32 83.85,58.66 88.4,58.85 C92.95,59.04 96.47,59.24 102,59.3 C107.53,59.36 118.33,59.22 121.6,59.2" fill="none" stroke="#000000" stroke-width="0.55" stroke-dasharray="7.6 4.6" opacity="0.85"/>
<path d="M0.3,49.3 C0.53,49.13 0.9,48.95 1.7,48.3 C2.5,47.65 3.97,46.1 5.1,45.4 C6.23,44.7 7.37,44.4 8.5,44.1 C9.63,43.8 10.92,43.95 11.9,43.6 C12.88,43.25 13.57,42.83 14.4,42 C15.23,41.17 16.27,39.37 16.9,38.6 C17.53,37.83 17.63,37.33 18.2,37.4 C18.77,37.47 19.52,38.45 20.3,39 C21.08,39.55 22.05,40.27 22.9,40.7 C23.75,41.13 24.7,40.9 25.4,41.6 C26.1,42.3 26.47,43.63 27.1,44.9 C27.73,46.17 28.48,47.92 29.2,49.2 C29.92,50.48 30.68,51.82 31.4,52.6 C32.12,53.38 32.57,53.2 33.5,53.9 C34.43,54.6 35.85,56.42 37,56.8 C38.15,57.18 39.27,56.58 40.4,56.2 C41.53,55.82 42.85,54.6 43.8,54.5 C44.75,54.4 45.25,54.85 46.1,55.6 C46.95,56.35 47.87,58.18 48.9,59 C49.93,59.82 51.35,59.6 52.3,60.5 C53.25,61.4 53.75,62.72 54.6,64.4 C55.45,66.08 56.45,68.62 57.4,70.6 C58.35,72.58 59.25,75.73 60.3,76.3 C61.35,76.87 62.57,74.88 63.7,74 C64.83,73.12 65.97,72.13 67.1,71 C68.23,69.87 69.37,68.78 70.5,67.2 C71.63,65.62 72.77,62.63 73.9,61.5 C75.03,60.37 76.15,60.4 77.3,60.4 C78.45,60.4 79.65,61.4 80.8,61.5 C81.95,61.6 83.07,61.28 84.2,61 C85.33,60.72 86.65,59.9 87.6,59.8 C88.55,59.7 89.05,59.35 89.9,60.4 C90.75,61.45 91.75,64.12 92.7,66.1 C93.65,68.08 94.75,70.68 95.6,72.3 C96.45,73.92 97.3,75.1 97.8,75.8 C98.3,76.5 98.15,76.88 98.6,76.5 C99.05,76.12 99.67,75.75 100.5,73.5 C101.33,71.25 102.58,65.5 103.6,63 C104.62,60.5 105.62,59.83 106.6,58.5 C107.58,57.17 108.8,56.08 109.5,55 C110.2,53.92 110.33,52.95 110.8,52 C111.27,51.05 111.6,49.63 112.3,49.3 C113,48.97 113.97,49.43 115,50 C116.03,50.57 117.42,51.92 118.5,52.7 C119.58,53.48 121,54.37 121.5,54.7" fill="none" stroke="#ff2a2a" stroke-width="0.8" stroke-linejoin="round" opacity="0.7"/>
<clipPath id="bc02"><path d="M0.6,41.7 C1.87,41.58 6.13,41.43 8.2,41 C10.27,40.57 11.43,39.67 13,39.1 C14.57,38.53 16.08,37.55 17.6,37.6 C19.12,37.65 20.7,38.72 22.1,39.4 C23.5,40.08 24.68,40.92 26,41.7 C27.32,42.48 28.68,43.4 30,44.1 C31.32,44.8 32.6,45.32 33.9,45.9 C35.2,46.48 36.5,47.1 37.8,47.6 C39.1,48.1 40.18,48.52 41.7,48.9 C43.22,49.28 45.17,49.62 46.9,49.9 C48.63,50.18 50.15,50.4 52.1,50.6 C54.05,50.8 56.42,51.02 58.6,51.1 C60.78,51.18 62.52,51 65.2,51.1 C67.88,51.2 70.83,51.55 74.7,51.7 C78.57,51.85 83.85,51.83 88.4,52 C92.95,52.17 96.47,52.58 102,52.7 C107.53,52.82 118.33,52.7 121.6,52.7 L121.6,65.7 C118.33,65.73 107.53,65.9 102,65.9 C96.47,65.9 92.95,65.92 88.4,65.7 C83.85,65.48 79.67,64.78 74.7,64.6 C69.73,64.42 62.37,64.67 58.6,64.6 C54.83,64.53 54.27,64.43 52.1,64.2 C49.93,63.97 47.55,63.58 45.6,63.2 C43.65,62.82 41.92,62.43 40.4,61.9 C38.88,61.37 37.8,60.87 36.5,60 C35.2,59.13 33.68,57.9 32.6,56.7 C31.52,55.5 30.77,54.2 30,52.8 C29.23,51.4 28.67,49.82 28,48.3 C27.33,46.78 26.98,44.8 26,43.7 C25.02,42.6 23.5,41.92 22.1,41.7 C20.7,41.48 19.12,42.18 17.6,42.4 C16.08,42.62 14.57,42.65 13,43 C11.43,43.35 10.27,43.8 8.2,44.5 C6.13,45.2 1.87,46.75 0.6,47.2 Z"/></clipPath>
<path clip-path="url(#bc02)" d="M0.3,49.3 C0.53,49.13 0.9,48.95 1.7,48.3 C2.5,47.65 3.97,46.1 5.1,45.4 C6.23,44.7 7.37,44.4 8.5,44.1 C9.63,43.8 10.92,43.95 11.9,43.6 C12.88,43.25 13.57,42.83 14.4,42 C15.23,41.17 16.27,39.37 16.9,38.6 C17.53,37.83 17.63,37.33 18.2,37.4 C18.77,37.47 19.52,38.45 20.3,39 C21.08,39.55 22.05,40.27 22.9,40.7 C23.75,41.13 24.7,40.9 25.4,41.6 C26.1,42.3 26.47,43.63 27.1,44.9 C27.73,46.17 28.48,47.92 29.2,49.2 C29.92,50.48 30.68,51.82 31.4,52.6 C32.12,53.38 32.57,53.2 33.5,53.9 C34.43,54.6 35.85,56.42 37,56.8 C38.15,57.18 39.27,56.58 40.4,56.2 C41.53,55.82 42.85,54.6 43.8,54.5 C44.75,54.4 45.25,54.85 46.1,55.6 C46.95,56.35 47.87,58.18 48.9,59 C49.93,59.82 51.35,59.6 52.3,60.5 C53.25,61.4 53.75,62.72 54.6,64.4 C55.45,66.08 56.45,68.62 57.4,70.6 C58.35,72.58 59.25,75.73 60.3,76.3 C61.35,76.87 62.57,74.88 63.7,74 C64.83,73.12 65.97,72.13 67.1,71 C68.23,69.87 69.37,68.78 70.5,67.2 C71.63,65.62 72.77,62.63 73.9,61.5 C75.03,60.37 76.15,60.4 77.3,60.4 C78.45,60.4 79.65,61.4 80.8,61.5 C81.95,61.6 83.07,61.28 84.2,61 C85.33,60.72 86.65,59.9 87.6,59.8 C88.55,59.7 89.05,59.35 89.9,60.4 C90.75,61.45 91.75,64.12 92.7,66.1 C93.65,68.08 94.75,70.68 95.6,72.3 C96.45,73.92 97.3,75.1 97.8,75.8 C98.3,76.5 98.15,76.88 98.6,76.5 C99.05,76.12 99.67,75.75 100.5,73.5 C101.33,71.25 102.58,65.5 103.6,63 C104.62,60.5 105.62,59.83 106.6,58.5 C107.58,57.17 108.8,56.08 109.5,55 C110.2,53.92 110.33,52.95 110.8,52 C111.27,51.05 111.6,49.63 112.3,49.3 C113,48.97 113.97,49.43 115,50 C116.03,50.57 117.42,51.92 118.5,52.7 C119.58,53.48 121,54.37 121.5,54.7" fill="none" stroke="#ff6a00" stroke-width="0.9" stroke-linejoin="round" opacity="0.85"/>
<path d="M0.6,37.3 C1.63,37.35 5.08,37.77 6.8,37.6 C8.52,37.43 9.63,36.87 10.9,36.3 C12.17,35.73 13.37,34.85 14.4,34.2 C15.43,33.55 16.2,32.47 17.1,32.4 C18,32.33 18.88,33.33 19.8,33.8 C20.72,34.27 21.57,35.13 22.6,35.2 C23.63,35.27 24.98,34.53 26,34.2 C27.02,33.87 27.57,33.47 28.7,33.2 C29.83,32.93 31.53,32.55 32.8,32.6 C34.07,32.65 35.15,33.07 36.3,33.5 C37.45,33.93 38.45,34.85 39.7,35.2 C40.95,35.55 42.43,35.47 43.8,35.6 C45.17,35.73 46.53,35.72 47.9,36 C49.27,36.28 50.63,37.08 52,37.3 C53.37,37.52 54.73,37.43 56.1,37.3 C57.47,37.17 58.58,36.45 60.2,36.5 C61.82,36.55 64.18,37.63 65.8,37.6 C67.42,37.57 68.2,36.07 69.9,36.3 C71.6,36.53 74.07,38.83 76,39 C77.93,39.17 79.22,37.65 81.5,37.3 C83.78,36.95 87.42,36.78 89.7,36.9 C91.98,37.02 93.48,38 95.2,38 C96.92,38 98.4,36.73 100,36.9 C101.6,37.07 102.98,38.38 104.8,39 C106.62,39.62 109.08,40.55 110.9,40.6 C112.72,40.65 113.92,39.92 115.7,39.3 C117.48,38.68 120.62,37.3 121.6,36.9" fill="none" stroke="#2020ff" stroke-width="0.85" stroke-linejoin="round"/>
<path d="M0.6,48.8 C1.42,48.65 3.43,48.2 5.5,47.9 C7.57,47.6 11.1,47.2 13,47 C14.9,46.8 15.6,47.03 16.9,46.7 C18.2,46.37 19.72,44.95 20.8,45 C21.88,45.05 22.63,46.02 23.4,47 C24.17,47.98 24.75,49.38 25.4,50.9 C26.05,52.42 26.65,54.48 27.3,56.1 C27.95,57.72 28.63,59.18 29.3,60.6 C29.97,62.02 30.65,63.4 31.3,64.6 C31.95,65.8 32.27,66.32 33.2,67.8 C34.13,69.28 35.6,72.1 36.9,73.5 C38.2,74.9 39.63,75.58 41,76.2 C42.37,76.82 43.73,76.82 45.1,77.2 C46.47,77.58 47.82,78.15 49.2,78.5 C50.58,78.85 52.02,79.33 53.4,79.3 C54.78,79.27 56.23,78.58 57.5,78.3 C58.77,78.02 59.73,77.78 61,77.6 C62.27,77.42 63.73,76.92 65.1,77.2 C66.47,77.48 67.6,78.95 69.2,79.3 C70.8,79.65 73.1,79.47 74.7,79.3 C76.3,79.13 77.43,78.25 78.8,78.3 C80.17,78.35 81.53,79.27 82.9,79.6 C84.27,79.93 85.4,80.35 87,80.3 C88.6,80.25 90.45,79.47 92.5,79.3 C94.55,79.13 97.25,79.13 99.3,79.3 C101.35,79.47 102.98,80.18 104.8,80.3 C106.62,80.42 108.38,80.17 110.2,80 C112.02,79.83 113.8,79.42 115.7,79.3 C117.6,79.18 120.62,79.3 121.6,79.3" fill="none" stroke="#2020ff" stroke-width="0.85" stroke-linejoin="round"/>
</g>
<line x1="0.45" y1="13.45" x2="122.45" y2="13.45" stroke="#a0a0a0" stroke-width="0.9" stroke-linecap="square"/>
<line x1="0.45" y1="96.95" x2="122.45" y2="96.95" stroke="#a0a0a0" stroke-width="0.9" stroke-linecap="square"/>
<line x1="0.45" y1="13.45" x2="0.45" y2="96.95" stroke="#a0a0a0" stroke-width="0.9" stroke-linecap="square"/>
<line x1="122.45" y1="13.45" x2="122.45" y2="96.95" stroke="#a0a0a0" stroke-width="0.9" stroke-linecap="square"/>
</g>
<g class="t"><text x="282.9" y="8.75" font-family="Liberation Serif" font-size="10" font-style="italic" textLength="5.0" lengthAdjust="spacingAndGlyphs">&#956;</text>
<text x="288.6" y="9.85" font-family="Liberation Serif" font-size="6.6" stroke="#000" stroke-width="0.22">1</text>
<text x="296" y="9.45" font-family="Liberation Serif" font-size="11">(</text>
<text x="299.3" y="8.75" font-family="Liberation Serif" font-size="9.3" textLength="20.4" lengthAdjust="spacingAndGlyphs">SMC</text>
<text x="319.6" y="9.45" font-family="Liberation Serif" font-size="11">)</text>
<text x="326.6" y="8.75" font-family="Liberation Serif" font-size="9.3" stroke="#000" stroke-width="0.15">J</text>
<rect x="331.7" y="5" width="6.1" height="0.6" fill="#000"/>
<rect x="331.7" y="7.2" width="6.1" height="0.6" fill="#000"/>
<text x="338.5" y="8.75" font-family="Liberation Serif" font-size="9.3" stroke="#000" stroke-width="0.1" textLength="18" lengthAdjust="spacingAndGlyphs">1600</text></g>
<clipPath id="c03"><rect x="0.45" y="13.45" width="122.05" height="83.5"/></clipPath>
<g transform="translate(387,0)">
<g clip-path="url(#c03)">
<line x1="26.4" y1="14.2" x2="26.4" y2="97.95" stroke="#ff9a9a" stroke-width="1.0" stroke-dasharray="8.3 4.15"/>
<path d="M0.6,41.7 C1.87,41.58 6.13,41.43 8.2,41 C10.27,40.57 11.43,39.67 13,39.1 C14.57,38.53 16.08,37.55 17.6,37.6 C19.12,37.65 20.7,38.72 22.1,39.4 C23.5,40.08 24.68,40.88 26,41.7 C27.32,42.52 28.68,43.53 30,44.3 C31.32,45.07 32.6,45.63 33.9,46.3 C35.2,46.97 36.5,47.75 37.8,48.3 C39.1,48.85 40.18,49.17 41.7,49.6 C43.22,50.03 45.17,50.58 46.9,50.9 C48.63,51.22 50.15,51.35 52.1,51.5 C54.05,51.65 46.95,51.75 58.6,51.8 C70.25,51.85 111.43,51.8 122,51.8 L122,65.2 C111.43,65.15 70.25,65 58.6,64.9 C46.95,64.8 54.27,64.82 52.1,64.6 C49.93,64.38 47.55,64.05 45.6,63.6 C43.65,63.15 41.92,62.5 40.4,61.9 C38.88,61.3 37.8,60.87 36.5,60 C35.2,59.13 33.68,57.9 32.6,56.7 C31.52,55.5 30.77,54.2 30,52.8 C29.23,51.4 28.67,49.82 28,48.3 C27.33,46.78 26.98,44.8 26,43.7 C25.02,42.6 23.5,41.92 22.1,41.7 C20.7,41.48 19.12,42.18 17.6,42.4 C16.08,42.62 14.57,42.65 13,43 C11.43,43.35 10.27,43.8 8.2,44.5 C6.13,45.2 1.87,46.75 0.6,47.2 Z" fill="#00ff00"/>
<path d="M0.6,41.7 C1.87,41.58 6.13,41.43 8.2,41 C10.27,40.57 11.43,39.67 13,39.1 C14.57,38.53 16.08,37.55 17.6,37.6 C19.12,37.65 20.7,38.72 22.1,39.4 C23.5,40.08 24.68,40.88 26,41.7 C27.32,42.52 28.68,43.53 30,44.3 C31.32,45.07 32.6,45.63 33.9,46.3 C35.2,46.97 36.5,47.75 37.8,48.3 C39.1,48.85 40.18,49.17 41.7,49.6 C43.22,50.03 45.17,50.58 46.9,50.9 C48.63,51.22 50.15,51.35 52.1,51.5 C54.05,51.65 46.95,51.75 58.6,51.8 C70.25,51.85 111.43,51.8 122,51.8" fill="none" stroke="#004f00" stroke-width="0.6"/>
<path d="M0.6,47.2 C1.87,46.75 6.13,45.2 8.2,44.5 C10.27,43.8 11.43,43.35 13,43 C14.57,42.65 16.08,42.62 17.6,42.4 C19.12,42.18 20.7,41.48 22.1,41.7 C23.5,41.92 25.02,42.6 26,43.7 C26.98,44.8 27.33,46.78 28,48.3 C28.67,49.82 29.23,51.4 30,52.8 C30.77,54.2 31.52,55.5 32.6,56.7 C33.68,57.9 35.2,59.13 36.5,60 C37.8,60.87 38.88,61.3 40.4,61.9 C41.92,62.5 43.65,63.15 45.6,63.6 C47.55,64.05 49.93,64.38 52.1,64.6 C54.27,64.82 46.95,64.8 58.6,64.9 C70.25,65 111.43,65.15 122,65.2" fill="none" stroke="#004f00" stroke-width="0.6"/>
<path d="M0.6,44.45 C1.87,44.17 6.13,43.32 8.2,42.75 C10.27,42.18 11.43,41.51 13,41.05 C14.57,40.59 16.08,40.08 17.6,40 C19.12,39.92 20.7,40.1 22.1,40.55 C23.5,41 25.02,41.85 26,42.7 C26.98,43.55 27.33,44.67 28,45.65 C28.67,46.62 29.23,47.63 30,48.55 C30.77,49.47 31.95,50.58 32.6,51.17 C33.25,51.75 33.25,51.61 33.9,52.05 C34.55,52.49 35.85,53.41 36.5,53.82 C37.15,54.22 37.15,54.18 37.8,54.47 C38.45,54.75 39.75,55.28 40.4,55.53 C41.05,55.78 40.83,55.7 41.7,55.96 C42.57,56.22 44.73,56.86 45.6,57.09 C46.47,57.32 45.82,57.19 46.9,57.35 C47.98,57.51 50.15,57.88 52.1,58.05 C54.05,58.22 46.95,58.27 58.6,58.35 C70.25,58.43 111.43,58.48 122,58.5" fill="none" stroke="#000000" stroke-width="0.55" stroke-dasharray="7.6 4.6" opacity="0.85"/>
<path d="M0.3,49.3 C0.53,49.13 0.9,48.95 1.7,48.3 C2.5,47.65 3.97,46.1 5.1,45.4 C6.23,44.7 7.37,44.4 8.5,44.1 C9.63,43.8 10.92,43.95 11.9,43.6 C12.88,43.25 13.57,42.83 14.4,42 C15.23,41.17 16.27,39.37 16.9,38.6 C17.53,37.83 17.63,37.33 18.2,37.4 C18.77,37.47 19.52,38.45 20.3,39 C21.08,39.55 22.05,40.27 22.9,40.7 C23.75,41.13 24.7,40.9 25.4,41.6 C26.1,42.3 26.47,43.63 27.1,44.9 C27.73,46.17 28.48,47.92 29.2,49.2 C29.92,50.48 30.68,51.82 31.4,52.6 C32.12,53.38 32.57,53.2 33.5,53.9 C34.43,54.6 35.85,56.42 37,56.8 C38.15,57.18 39.27,56.58 40.4,56.2 C41.53,55.82 42.85,54.6 43.8,54.5 C44.75,54.4 45.25,54.85 46.1,55.6 C46.95,56.35 47.87,58.18 48.9,59 C49.93,59.82 51.35,59.6 52.3,60.5 C53.25,61.4 53.75,62.72 54.6,64.4 C55.45,66.08 56.45,68.62 57.4,70.6 C58.35,72.58 59.25,75.73 60.3,76.3 C61.35,76.87 62.57,74.88 63.7,74 C64.83,73.12 65.97,72.13 67.1,71 C68.23,69.87 69.37,68.78 70.5,67.2 C71.63,65.62 72.77,62.63 73.9,61.5 C75.03,60.37 76.15,60.4 77.3,60.4 C78.45,60.4 79.65,61.4 80.8,61.5 C81.95,61.6 83.07,61.28 84.2,61 C85.33,60.72 86.65,59.9 87.6,59.8 C88.55,59.7 89.05,59.35 89.9,60.4 C90.75,61.45 91.75,64.12 92.7,66.1 C93.65,68.08 94.75,70.68 95.6,72.3 C96.45,73.92 97.3,75.1 97.8,75.8 C98.3,76.5 98.15,76.88 98.6,76.5 C99.05,76.12 99.67,75.75 100.5,73.5 C101.33,71.25 102.58,65.5 103.6,63 C104.62,60.5 105.62,59.83 106.6,58.5 C107.58,57.17 108.8,56.08 109.5,55 C110.2,53.92 110.33,52.95 110.8,52 C111.27,51.05 111.6,49.63 112.3,49.3 C113,48.97 113.97,49.43 115,50 C116.03,50.57 117.42,51.92 118.5,52.7 C119.58,53.48 121,54.37 121.5,54.7" fill="none" stroke="#ff2a2a" stroke-width="0.8" stroke-linejoin="round" opacity="0.7"/>
<clipPath id="bc03"><path d="M0.6,41.7 C1.87,41.58 6.13,41.43 8.2,41 C10.27,40.57 11.43,39.67 13,39.1 C14.57,38.53 16.08,37.55 17.6,37.6 C19.12,37.65 20.7,38.72 22.1,39.4 C23.5,40.08 24.68,40.88 26,41.7 C27.32,42.52 28.68,43.53 30,44.3 C31.32,45.07 32.6,45.63 33.9,46.3 C35.2,46.97 36.5,47.75 37.8,48.3 C39.1,48.85 40.18,49.17 41.7,49.6 C43.22,50.03 45.17,50.58 46.9,50.9 C48.63,51.22 50.15,51.35 52.1,51.5 C54.05,51.65 46.95,51.75 58.6,51.8 C70.25,51.85 111.43,51.8 122,51.8 L122,65.2 C111.43,65.15 70.25,65 58.6,64.9 C46.95,64.8 54.27,64.82 52.1,64.6 C49.93,64.38 47.55,64.05 45.6,63.6 C43.65,63.15 41.92,62.5 40.4,61.9 C38.88,61.3 37.8,60.87 36.5,60 C35.2,59.13 33.68,57.9 32.6,56.7 C31.52,55.5 30.77,54.2 30,52.8 C29.23,51.4 28.67,49.82 28,48.3 C27.33,46.78 26.98,44.8 26,43.7 C25.02,42.6 23.5,41.92 22.1,41.7 C20.7,41.48 19.12,42.18 17.6,42.4 C16.08,42.62 14.57,42.65 13,43 C11.43,43.35 10.27,43.8 8.2,44.5 C6.13,45.2 1.87,46.75 0.6,47.2 Z"/></clipPath>
<path clip-path="url(#bc03)" d="M0.3,49.3 C0.53,49.13 0.9,48.95 1.7,48.3 C2.5,47.65 3.97,46.1 5.1,45.4 C6.23,44.7 7.37,44.4 8.5,44.1 C9.63,43.8 10.92,43.95 11.9,43.6 C12.88,43.25 13.57,42.83 14.4,42 C15.23,41.17 16.27,39.37 16.9,38.6 C17.53,37.83 17.63,37.33 18.2,37.4 C18.77,37.47 19.52,38.45 20.3,39 C21.08,39.55 22.05,40.27 22.9,40.7 C23.75,41.13 24.7,40.9 25.4,41.6 C26.1,42.3 26.47,43.63 27.1,44.9 C27.73,46.17 28.48,47.92 29.2,49.2 C29.92,50.48 30.68,51.82 31.4,52.6 C32.12,53.38 32.57,53.2 33.5,53.9 C34.43,54.6 35.85,56.42 37,56.8 C38.15,57.18 39.27,56.58 40.4,56.2 C41.53,55.82 42.85,54.6 43.8,54.5 C44.75,54.4 45.25,54.85 46.1,55.6 C46.95,56.35 47.87,58.18 48.9,59 C49.93,59.82 51.35,59.6 52.3,60.5 C53.25,61.4 53.75,62.72 54.6,64.4 C55.45,66.08 56.45,68.62 57.4,70.6 C58.35,72.58 59.25,75.73 60.3,76.3 C61.35,76.87 62.57,74.88 63.7,74 C64.83,73.12 65.97,72.13 67.1,71 C68.23,69.87 69.37,68.78 70.5,67.2 C71.63,65.62 72.77,62.63 73.9,61.5 C75.03,60.37 76.15,60.4 77.3,60.4 C78.45,60.4 79.65,61.4 80.8,61.5 C81.95,61.6 83.07,61.28 84.2,61 C85.33,60.72 86.65,59.9 87.6,59.8 C88.55,59.7 89.05,59.35 89.9,60.4 C90.75,61.45 91.75,64.12 92.7,66.1 C93.65,68.08 94.75,70.68 95.6,72.3 C96.45,73.92 97.3,75.1 97.8,75.8 C98.3,76.5 98.15,76.88 98.6,76.5 C99.05,76.12 99.67,75.75 100.5,73.5 C101.33,71.25 102.58,65.5 103.6,63 C104.62,60.5 105.62,59.83 106.6,58.5 C107.58,57.17 108.8,56.08 109.5,55 C110.2,53.92 110.33,52.95 110.8,52 C111.27,51.05 111.6,49.63 112.3,49.3 C113,48.97 113.97,49.43 115,50 C116.03,50.57 117.42,51.92 118.5,52.7 C119.58,53.48 121,54.37 121.5,54.7" fill="none" stroke="#ff6a00" stroke-width="0.9" stroke-linejoin="round" opacity="0.85"/>
<path d="M0.6,37.3 C1.87,37.25 6.25,37.4 8.2,37 C10.15,36.6 10.82,35.7 12.3,34.9 C13.78,34.1 15.85,32.48 17.1,32.2 C18.35,31.92 18.88,32.7 19.8,33.2 C20.72,33.7 21.57,35.03 22.6,35.2 C23.63,35.37 24.52,34.6 26,34.2 C27.48,33.8 29.68,32.8 31.5,32.8 C33.32,32.8 35.08,33.73 36.9,34.2 C38.72,34.67 40.57,35.08 42.4,35.6 C44.23,36.12 46.07,36.97 47.9,37.3 C49.73,37.63 51.12,37.55 53.4,37.6 C55.68,37.65 50.17,37.6 61.6,37.6 C73.03,37.6 111.93,37.6 122,37.6" fill="none" stroke="#2020ff" stroke-width="0.85" stroke-linejoin="round"/>
<path d="M0.6,48.8 C1.63,48.65 4.73,48.2 6.8,47.9 C8.87,47.6 11.32,47.2 13,47 C14.68,46.8 15.6,47.03 16.9,46.7 C18.2,46.37 19.72,44.95 20.8,45 C21.88,45.05 22.63,46.02 23.4,47 C24.17,47.98 24.75,49.38 25.4,50.9 C26.05,52.42 26.65,54.48 27.3,56.1 C27.95,57.72 28.63,59.18 29.3,60.6 C29.97,62.02 30.65,63.4 31.3,64.6 C31.95,65.8 32.27,66.48 33.2,67.8 C34.13,69.12 35.6,71.17 36.9,72.5 C38.2,73.83 39.4,74.92 41,75.8 C42.6,76.68 44.43,77.35 46.5,77.8 C48.57,78.25 50.88,78.25 53.4,78.5 C55.92,78.75 50.17,79.17 61.6,79.3 C73.03,79.43 111.93,79.3 122,79.3" fill="none" stroke="#2020ff" stroke-width="0.85" stroke-linejoin="round"/>
</g>
<line x1="0.45" y1="13.45" x2="122.5" y2="13.45" stroke="#a0a0a0" stroke-width="0.9" stroke-linecap="square"/>
<line x1="0.45" y1="96.95" x2="122.5" y2="96.95" stroke="#a0a0a0" stroke-width="0.9" stroke-linecap="square"/>
<line x1="0.45" y1="13.45" x2="0.45" y2="96.95" stroke="#a0a0a0" stroke-width="0.9" stroke-linecap="square"/>
<rect x="122" y="13" width="1" height="84" fill="#d6d6d6"/>
</g>
<g class="t"><text x="414.2" y="8.75" font-family="Liberation Serif" font-size="10" font-style="italic" textLength="5.0" lengthAdjust="spacingAndGlyphs">&#956;</text>
<text x="419.9" y="9.85" font-family="Liberation Serif" font-size="6.6" stroke="#000" stroke-width="0.22">1</text>
<text x="427.3" y="9.45" font-family="Liberation Serif" font-size="11">(</text>
<text x="430.6" y="8.75" font-family="Liberation Serif" font-size="9.3" textLength="20.4" lengthAdjust="spacingAndGlyphs">SMC</text>
<text x="450.9" y="9.45" font-family="Liberation Serif" font-size="11">)</text>
<text x="457.9" y="8.75" font-family="Liberation Serif" font-size="9.3" stroke="#000" stroke-width="0.15">J</text>
<rect x="463" y="5" width="6.1" height="0.6" fill="#000"/>
<rect x="463" y="7.2" width="6.1" height="0.6" fill="#000"/>
<text x="469.8" y="8.75" font-family="Liberation Serif" font-size="9.3" stroke="#000" stroke-width="0.1" textLength="9" lengthAdjust="spacingAndGlyphs">10</text>
<text x="479.1" y="4.65" font-family="Liberation Serif" font-size="6.4" stroke="#000" stroke-width="0.2">5</text></g>
<clipPath id="c10"><rect x="1.4" y="119.45" width="121.05" height="82"/></clipPath>
<g transform="translate(0,0)">
<g clip-path="url(#c10)">
<line x1="72.4" y1="118.5" x2="72.4" y2="202.45" stroke="#ff9a9a" stroke-width="1.0" stroke-dasharray="8.3 4.15"/>
<path d="M1,147.2 C2.47,147.2 7.2,147.72 9.8,147.2 C12.4,146.68 14.65,144.2 16.6,144.1 C18.55,144 19.87,145.37 21.5,146.6 C23.13,147.83 24.93,150.03 26.4,151.5 C27.87,152.97 29,155.08 30.3,155.4 C31.6,155.72 32.9,153.73 34.2,153.4 C35.5,153.07 36.8,152.75 38.1,153.4 C39.4,154.05 40.53,155.33 42,157.3 C43.47,159.27 45.27,163.08 46.9,165.2 C48.53,167.32 50.18,169.03 51.8,170 C53.42,170.97 55.23,170.72 56.6,171 C57.97,171.28 58.53,171.28 60,171.7 C61.47,172.12 63.6,172.75 65.4,173.5 C67.2,174.25 69.02,176.2 70.8,176.2 C72.58,176.2 74.32,174.4 76.1,173.5 C77.88,172.6 79.7,172.73 81.5,170.8 C83.3,168.87 85.25,164.43 86.9,161.9 C88.55,159.37 89.92,155.9 91.4,155.6 C92.88,155.3 94.17,159.2 95.8,160.1 C97.43,161 99.4,160.85 101.2,161 C103,161.15 104.8,161 106.6,161 C108.4,161 110.22,161.6 112,161 C113.78,160.4 115.67,159.05 117.3,157.4 C118.93,155.75 121.05,152.15 121.8,151.1 L121.8,160.1 C121.05,161 118.93,164.15 117.3,165.5 C115.67,166.85 113.78,167.75 112,168.2 C110.22,168.65 108.4,168.2 106.6,168.2 C104.8,168.2 103,168.2 101.2,168.2 C99.4,168.2 97.43,168.65 95.8,168.2 C94.17,167.75 92.88,165.07 91.4,165.5 C89.92,165.93 88.55,169.02 86.9,170.8 C85.25,172.58 83.3,174.85 81.5,176.2 C79.7,177.55 77.88,178 76.1,178.9 C74.32,179.8 72.58,181.6 70.8,181.6 C69.02,181.6 67.2,179.8 65.4,178.9 C63.6,178 61.47,176.7 60,176.2 C58.53,175.7 57.97,176.12 56.6,175.9 C55.23,175.68 53.42,175.55 51.8,174.9 C50.18,174.25 48.53,173.95 46.9,172 C45.27,170.05 43.47,165.32 42,163.2 C40.53,161.08 39.4,159.95 38.1,159.3 C36.8,158.65 35.5,158.97 34.2,159.3 C32.9,159.63 31.6,161.63 30.3,161.3 C29,160.97 27.87,158.77 26.4,157.3 C24.93,155.83 23.13,153.8 21.5,152.5 C19.87,151.2 18.55,149.83 16.6,149.5 C14.65,149.17 12.4,150.17 9.8,150.5 C7.2,150.83 2.47,151.33 1,151.5 Z" fill="#00ff00"/>
<path d="M1,147.2 C2.47,147.2 7.2,147.72 9.8,147.2 C12.4,146.68 14.65,144.2 16.6,144.1 C18.55,144 19.87,145.37 21.5,146.6 C23.13,147.83 24.93,150.03 26.4,151.5 C27.87,152.97 29,155.08 30.3,155.4 C31.6,155.72 32.9,153.73 34.2,153.4 C35.5,153.07 36.8,152.75 38.1,153.4 C39.4,154.05 40.53,155.33 42,157.3 C43.47,159.27 45.27,163.08 46.9,165.2 C48.53,167.32 50.18,169.03 51.8,170 C53.42,170.97 55.23,170.72 56.6,171 C57.97,171.28 58.53,171.28 60,171.7 C61.47,172.12 63.6,172.75 65.4,173.5 C67.2,174.25 69.02,176.2 70.8,176.2 C72.58,176.2 74.32,174.4 76.1,173.5 C77.88,172.6 79.7,172.73 81.5,170.8 C83.3,168.87 85.25,164.43 86.9,161.9 C88.55,159.37 89.92,155.9 91.4,155.6 C92.88,155.3 94.17,159.2 95.8,160.1 C97.43,161 99.4,160.85 101.2,161 C103,161.15 104.8,161 106.6,161 C108.4,161 110.22,161.6 112,161 C113.78,160.4 115.67,159.05 117.3,157.4 C118.93,155.75 121.05,152.15 121.8,151.1" fill="none" stroke="#004f00" stroke-width="0.6"/>
<path d="M1,151.5 C2.47,151.33 7.2,150.83 9.8,150.5 C12.4,150.17 14.65,149.17 16.6,149.5 C18.55,149.83 19.87,151.2 21.5,152.5 C23.13,153.8 24.93,155.83 26.4,157.3 C27.87,158.77 29,160.97 30.3,161.3 C31.6,161.63 32.9,159.63 34.2,159.3 C35.5,158.97 36.8,158.65 38.1,159.3 C39.4,159.95 40.53,161.08 42,163.2 C43.47,165.32 45.27,170.05 46.9,172 C48.53,173.95 50.18,174.25 51.8,174.9 C53.42,175.55 55.23,175.68 56.6,175.9 C57.97,176.12 58.53,175.7 60,176.2 C61.47,176.7 63.6,178 65.4,178.9 C67.2,179.8 69.02,181.6 70.8,181.6 C72.58,181.6 74.32,179.8 76.1,178.9 C77.88,178 79.7,177.55 81.5,176.2 C83.3,174.85 85.25,172.58 86.9,170.8 C88.55,169.02 89.92,165.93 91.4,165.5 C92.88,165.07 94.17,167.75 95.8,168.2 C97.43,168.65 99.4,168.2 101.2,168.2 C103,168.2 104.8,168.2 106.6,168.2 C108.4,168.2 110.22,168.65 112,168.2 C113.78,167.75 115.67,166.85 117.3,165.5 C118.93,164.15 121.05,161 121.8,160.1" fill="none" stroke="#004f00" stroke-width="0.6"/>
<path d="M1,149.35 C2.47,149.27 7.2,149.27 9.8,148.85 C12.4,148.43 14.65,146.68 16.6,146.8 C18.55,146.92 19.87,148.28 21.5,149.55 C23.13,150.82 24.93,152.93 26.4,154.4 C27.87,155.87 29,158.03 30.3,158.35 C31.6,158.68 32.9,156.68 34.2,156.35 C35.5,156.02 36.8,155.7 38.1,156.35 C39.4,157 40.53,158.21 42,160.25 C43.47,162.29 45.27,166.57 46.9,168.6 C48.53,170.63 50.18,171.64 51.8,172.45 C53.42,173.26 55.23,173.2 56.6,173.45 C57.97,173.7 58.53,173.49 60,173.95 C61.47,174.41 63.6,175.38 65.4,176.2 C67.2,177.02 69.02,178.9 70.8,178.9 C72.58,178.9 74.32,177.1 76.1,176.2 C77.88,175.3 79.7,175.14 81.5,173.5 C83.3,171.86 85.25,168.51 86.9,166.35 C88.55,164.19 89.92,160.92 91.4,160.55 C92.88,160.18 94.17,163.47 95.8,164.15 C97.43,164.82 99.4,164.52 101.2,164.6 C103,164.68 104.8,164.6 106.6,164.6 C108.4,164.6 110.22,165.12 112,164.6 C113.78,164.07 115.67,162.95 117.3,161.45 C118.93,159.95 121.05,156.57 121.8,155.6" fill="none" stroke="#000000" stroke-width="0.55" stroke-dasharray="7.6 4.6" opacity="0.85"/>
<path d="M0.3,154.66 C0.53,154.49 0.9,154.31 1.7,153.67 C2.5,153.04 3.97,151.51 5.1,150.83 C6.23,150.14 7.37,149.84 8.5,149.55 C9.63,149.25 10.92,149.4 11.9,149.06 C12.88,148.71 13.57,148.31 14.4,147.49 C15.23,146.67 16.27,144.9 16.9,144.15 C17.53,143.4 17.63,142.9 18.2,142.97 C18.77,143.04 19.52,144 20.3,144.54 C21.08,145.08 22.05,145.78 22.9,146.21 C23.75,146.64 24.7,146.41 25.4,147.09 C26.1,147.78 26.47,149.09 27.1,150.34 C27.73,151.58 28.48,153.3 29.2,154.56 C29.92,155.82 30.68,157.13 31.4,157.9 C32.12,158.67 32.57,158.49 33.5,159.17 C34.43,159.86 35.85,161.64 37,162.02 C38.15,162.4 39.27,161.81 40.4,161.43 C41.53,161.06 42.85,159.86 43.8,159.76 C44.75,159.66 45.25,160.11 46.1,160.84 C46.95,161.58 47.87,163.38 48.9,164.18 C49.93,164.98 51.35,164.77 52.3,165.65 C53.25,166.54 53.75,167.83 54.6,169.48 C55.45,171.14 56.45,173.63 57.4,175.57 C58.35,177.52 59.25,180.61 60.3,181.17 C61.35,181.73 62.57,179.78 63.7,178.91 C64.83,178.04 65.97,177.08 67.1,175.97 C68.23,174.85 69.37,173.79 70.5,172.23 C71.63,170.68 72.77,167.75 73.9,166.64 C75.03,165.52 76.15,165.56 77.3,165.56 C78.45,165.56 79.65,166.54 80.8,166.64 C81.95,166.74 83.07,166.42 84.2,166.15 C85.33,165.87 86.65,165.07 87.6,164.97 C88.55,164.87 89.05,164.53 89.9,165.56 C90.75,166.59 91.75,169.21 92.7,171.15 C93.65,173.1 94.75,175.66 95.6,177.24 C96.45,178.83 97.3,179.99 97.8,180.68 C98.3,181.37 98.15,181.74 98.6,181.37 C99.05,180.99 99.67,180.63 100.5,178.42 C101.33,176.21 102.58,170.56 103.6,168.11 C104.62,165.65 105.62,165 106.6,163.69 C107.58,162.38 108.8,161.32 109.5,160.25 C110.2,159.19 110.33,158.24 110.8,157.31 C111.27,156.37 111.6,154.98 112.3,154.66 C113,154.33 113.97,154.79 115,155.34 C116.03,155.9 117.42,157.23 118.5,157.99 C119.58,158.76 121,159.63 121.5,159.96" fill="none" stroke="#ff2a2a" stroke-width="0.8" stroke-linejoin="round" opacity="0.7"/>
<clipPath id="bc10"><path d="M1,147.2 C2.47,147.2 7.2,147.72 9.8,147.2 C12.4,146.68 14.65,144.2 16.6,144.1 C18.55,144 19.87,145.37 21.5,146.6 C23.13,147.83 24.93,150.03 26.4,151.5 C27.87,152.97 29,155.08 30.3,155.4 C31.6,155.72 32.9,153.73 34.2,153.4 C35.5,153.07 36.8,152.75 38.1,153.4 C39.4,154.05 40.53,155.33 42,157.3 C43.47,159.27 45.27,163.08 46.9,165.2 C48.53,167.32 50.18,169.03 51.8,170 C53.42,170.97 55.23,170.72 56.6,171 C57.97,171.28 58.53,171.28 60,171.7 C61.47,172.12 63.6,172.75 65.4,173.5 C67.2,174.25 69.02,176.2 70.8,176.2 C72.58,176.2 74.32,174.4 76.1,173.5 C77.88,172.6 79.7,172.73 81.5,170.8 C83.3,168.87 85.25,164.43 86.9,161.9 C88.55,159.37 89.92,155.9 91.4,155.6 C92.88,155.3 94.17,159.2 95.8,160.1 C97.43,161 99.4,160.85 101.2,161 C103,161.15 104.8,161 106.6,161 C108.4,161 110.22,161.6 112,161 C113.78,160.4 115.67,159.05 117.3,157.4 C118.93,155.75 121.05,152.15 121.8,151.1 L121.8,160.1 C121.05,161 118.93,164.15 117.3,165.5 C115.67,166.85 113.78,167.75 112,168.2 C110.22,168.65 108.4,168.2 106.6,168.2 C104.8,168.2 103,168.2 101.2,168.2 C99.4,168.2 97.43,168.65 95.8,168.2 C94.17,167.75 92.88,165.07 91.4,165.5 C89.92,165.93 88.55,169.02 86.9,170.8 C85.25,172.58 83.3,174.85 81.5,176.2 C79.7,177.55 77.88,178 76.1,178.9 C74.32,179.8 72.58,181.6 70.8,181.6 C69.02,181.6 67.2,179.8 65.4,178.9 C63.6,178 61.47,176.7 60,176.2 C58.53,175.7 57.97,176.12 56.6,175.9 C55.23,175.68 53.42,175.55 51.8,174.9 C50.18,174.25 48.53,173.95 46.9,172 C45.27,170.05 43.47,165.32 42,163.2 C40.53,161.08 39.4,159.95 38.1,159.3 C36.8,158.65 35.5,158.97 34.2,159.3 C32.9,159.63 31.6,161.63 30.3,161.3 C29,160.97 27.87,158.77 26.4,157.3 C24.93,155.83 23.13,153.8 21.5,152.5 C19.87,151.2 18.55,149.83 16.6,149.5 C14.65,149.17 12.4,150.17 9.8,150.5 C7.2,150.83 2.47,151.33 1,151.5 Z"/></clipPath>
<path clip-path="url(#bc10)" d="M0.3,154.66 C0.53,154.49 0.9,154.31 1.7,153.67 C2.5,153.04 3.97,151.51 5.1,150.83 C6.23,150.14 7.37,149.84 8.5,149.55 C9.63,149.25 10.92,149.4 11.9,149.06 C12.88,148.71 13.57,148.31 14.4,147.49 C15.23,146.67 16.27,144.9 16.9,144.15 C17.53,143.4 17.63,142.9 18.2,142.97 C18.77,143.04 19.52,144 20.3,144.54 C21.08,145.08 22.05,145.78 22.9,146.21 C23.75,146.64 24.7,146.41 25.4,147.09 C26.1,147.78 26.47,149.09 27.1,150.34 C27.73,151.58 28.48,153.3 29.2,154.56 C29.92,155.82 30.68,157.13 31.4,157.9 C32.12,158.67 32.57,158.49 33.5,159.17 C34.43,159.86 35.85,161.64 37,162.02 C38.15,162.4 39.27,161.81 40.4,161.43 C41.53,161.06 42.85,159.86 43.8,159.76 C44.75,159.66 45.25,160.11 46.1,160.84 C46.95,161.58 47.87,163.38 48.9,164.18 C49.93,164.98 51.35,164.77 52.3,165.65 C53.25,166.54 53.75,167.83 54.6,169.48 C55.45,171.14 56.45,173.63 57.4,175.57 C58.35,177.52 59.25,180.61 60.3,181.17 C61.35,181.73 62.57,179.78 63.7,178.91 C64.83,178.04 65.97,177.08 67.1,175.97 C68.23,174.85 69.37,173.79 70.5,172.23 C71.63,170.68 72.77,167.75 73.9,166.64 C75.03,165.52 76.15,165.56 77.3,165.56 C78.45,165.56 79.65,166.54 80.8,166.64 C81.95,166.74 83.07,166.42 84.2,166.15 C85.33,165.87 86.65,165.07 87.6,164.97 C88.55,164.87 89.05,164.53 89.9,165.56 C90.75,166.59 91.75,169.21 92.7,171.15 C93.65,173.1 94.75,175.66 95.6,177.24 C96.45,178.83 97.3,179.99 97.8,180.68 C98.3,181.37 98.15,181.74 98.6,181.37 C99.05,180.99 99.67,180.63 100.5,178.42 C101.33,176.21 102.58,170.56 103.6,168.11 C104.62,165.65 105.62,165 106.6,163.69 C107.58,162.38 108.8,161.32 109.5,160.25 C110.2,159.19 110.33,158.24 110.8,157.31 C111.27,156.37 111.6,154.98 112.3,154.66 C113,154.33 113.97,154.79 115,155.34 C116.03,155.9 117.42,157.23 118.5,157.99 C119.58,158.76 121,159.63 121.5,159.96" fill="none" stroke="#ff6a00" stroke-width="0.9" stroke-linejoin="round" opacity="0.85"/>
<path d="M1,142.5 C1.75,142.28 4.42,140.95 5.5,141.2 C6.58,141.45 6.6,143.48 7.5,144 C8.4,144.52 9.75,144.3 10.9,144.3 C12.05,144.3 13.37,144.62 14.4,144 C15.43,143.38 16.3,141 17.1,140.6 C17.9,140.2 18.4,141.1 19.2,141.6 C20,142.1 21,143.22 21.9,143.6 C22.8,143.98 23.68,143.43 24.6,143.9 C25.52,144.37 26.48,145.2 27.4,146.4 C28.32,147.6 29.08,150.02 30.1,151.1 C31.12,152.18 32.47,153.35 33.5,152.9 C34.53,152.45 35.27,149.03 36.3,148.4 C37.33,147.77 38.68,148.18 39.7,149.1 C40.72,150.02 41.5,152.08 42.4,153.9 C43.3,155.72 44.18,158.3 45.1,160 C46.02,161.7 46.98,163.18 47.9,164.1 C48.82,165.02 49.68,165.5 50.6,165.5 C51.52,165.5 52.48,164.1 53.4,164.1 C54.32,164.1 55.2,164.93 56.1,165.5 C57,166.07 57.98,167.17 58.8,167.5 C59.62,167.83 60.18,167.38 61,167.5 C61.82,167.62 62.78,167.4 63.7,168.2 C64.62,169 65.7,171.27 66.5,172.3 C67.3,173.33 67.82,175.08 68.5,174.4 C69.18,173.72 69.92,170.37 70.6,168.2 C71.28,166.03 72.03,162.77 72.6,161.4 C73.17,160.03 73.43,161.13 74,160 C74.57,158.87 75.2,155.97 76,154.6 C76.8,153.23 77.88,152.38 78.8,151.8 C79.72,151.22 80.47,151.43 81.5,151.1 C82.53,150.77 83.63,150.4 85,149.8 C86.37,149.2 88.45,147.73 89.7,147.5 C90.95,147.27 91.47,147.45 92.5,148.4 C93.53,149.35 94.88,152.13 95.9,153.2 C96.92,154.27 97.58,154.62 98.6,154.8 C99.62,154.98 100.75,154.07 102,154.3 C103.25,154.53 104.83,156.12 106.1,156.2 C107.37,156.28 108.45,155.65 109.6,154.8 C110.75,153.95 111.75,152.4 113,151.1 C114.25,149.8 115.67,148.28 117.1,147 C118.53,145.72 120.85,144 121.6,143.4" fill="none" stroke="#2020ff" stroke-width="0.85" stroke-linejoin="round"/>
<path d="M1,153.2 C1.75,152.97 4.07,152.15 5.5,151.8 C6.93,151.45 8.23,150.75 9.6,151.1 C10.97,151.45 12.57,153.2 13.7,153.9 C14.83,154.6 15.38,155.53 16.4,155.3 C17.42,155.07 18.65,152.73 19.8,152.5 C20.95,152.27 22.03,153.22 23.3,153.9 C24.57,154.58 26.5,155.47 27.4,156.6 C28.3,157.73 28.13,159.57 28.7,160.7 C29.27,161.83 30.12,163.18 30.8,163.4 C31.48,163.62 32,162.45 32.8,162 C33.6,161.55 34.57,160.8 35.6,160.7 C36.63,160.6 37.98,160.95 39,161.4 C40.02,161.85 40.68,162.27 41.7,163.4 C42.72,164.53 43.95,166.6 45.1,168.2 C46.25,169.8 47.57,171.63 48.6,173 C49.63,174.37 50.28,175.6 51.3,176.4 C52.32,177.2 53.45,177.45 54.7,177.8 C55.95,178.15 57.75,178.05 58.8,178.5 C59.85,178.95 60.07,179.75 61,180.5 C61.93,181.25 63.15,182.32 64.4,183 C65.65,183.68 67.25,184.6 68.5,184.6 C69.75,184.6 70.87,183.33 71.9,183 C72.93,182.67 73.78,182.9 74.7,182.6 C75.62,182.3 76.38,181.13 77.4,181.2 C78.42,181.27 79.88,182.88 80.8,183 C81.72,183.12 82.1,183 82.9,181.9 C83.7,180.8 84.68,178.57 85.6,176.4 C86.52,174.23 87.48,171.07 88.4,168.9 C89.32,166.73 90.32,164.32 91.1,163.4 C91.88,162.48 92.3,162.37 93.1,163.4 C93.9,164.43 95.08,167.88 95.9,169.6 C96.72,171.32 97.2,173.25 98,173.7 C98.8,174.15 99.8,172.42 100.7,172.3 C101.6,172.18 102.5,172.77 103.4,173 C104.3,173.23 105.07,173.82 106.1,173.7 C107.13,173.58 108.45,172.42 109.6,172.3 C110.75,172.18 111.98,172.77 113,173 C114.02,173.23 114.78,174.62 115.7,173.7 C116.62,172.78 117.52,169.22 118.5,167.5 C119.48,165.78 121.08,164.08 121.6,163.4" fill="none" stroke="#2020ff" stroke-width="0.85" stroke-linejoin="round"/>
</g>
<line x1="1.4" y1="119.45" x2="122.45" y2="119.45" stroke="#a0a0a0" stroke-width="0.9" stroke-linecap="square"/>
<line x1="1.4" y1="201.45" x2="122.45" y2="201.45" stroke="#a0a0a0" stroke-width="0.9" stroke-linecap="square"/>
<rect x="0" y="119.45" width="1" height="82" fill="#ececec"/>
<rect x="1" y="119.45" width="1" height="82" fill="#dcdcdc"/>
<line x1="122.45" y1="119.45" x2="122.45" y2="201.45" stroke="#a0a0a0" stroke-width="0.9" stroke-linecap="square"/>
</g>
<g class="t"><text x="29" y="114.95" font-family="Liberation Serif" font-size="10" font-style="italic" textLength="5.0" lengthAdjust="spacingAndGlyphs">&#956;</text>
<text x="34.7" y="116.05" font-family="Liberation Serif" font-size="6.6" stroke="#000" stroke-width="0.22">3</text>
<text x="42.1" y="115.65" font-family="Liberation Serif" font-size="11">(</text>
<text x="45.4" y="114.95" font-family="Liberation Serif" font-size="9.3" textLength="20.4" lengthAdjust="spacingAndGlyphs">SMC</text>
<text x="65.7" y="115.65" font-family="Liberation Serif" font-size="11">)</text>
<text x="72.7" y="114.95" font-family="Liberation Serif" font-size="9.3" stroke="#000" stroke-width="0.15">J</text>
<rect x="77.8" y="111.2" width="6.1" height="0.6" fill="#000"/>
<rect x="77.8" y="113.4" width="6.1" height="0.6" fill="#000"/>
<text x="84.6" y="114.95" font-family="Liberation Serif" font-size="9.3" stroke="#000" stroke-width="0.1" textLength="9" lengthAdjust="spacingAndGlyphs">50</text></g>
<clipPath id="c11"><rect x="0.45" y="119.45" width="122" height="82"/></clipPath>
<g transform="translate(129,0)">
<g clip-path="url(#c11)">
<line x1="72.4" y1="118.5" x2="72.4" y2="202.45" stroke="#ff9a9a" stroke-width="1.0" stroke-dasharray="8.3 4.15"/>
<path d="M0.6,147.7 C1.87,147.58 6.02,147.25 8.2,147 C10.38,146.75 12.1,146.65 13.7,146.2 C15.3,145.75 16.2,144.27 17.8,144.3 C19.4,144.33 21.7,145.48 23.3,146.4 C24.9,147.32 26.03,148.55 27.4,149.8 C28.77,151.05 30.13,153.1 31.5,153.9 C32.87,154.7 34.02,154.27 35.6,154.6 C37.18,154.93 39.52,155.17 41,155.9 C42.48,156.63 43.35,157.75 44.5,159 C45.65,160.25 46.65,161.98 47.9,163.4 C49.15,164.82 50.63,166.35 52,167.5 C53.37,168.65 54.73,169.27 56.1,170.3 C57.47,171.33 58.55,173.47 60.2,173.7 C61.85,173.93 64.13,173.08 66,171.7 C67.87,170.32 69.9,166.9 71.4,165.4 C72.9,163.9 73.52,163.15 75,162.7 C76.48,162.25 78.97,162.62 80.3,162.7 C81.63,162.78 81.6,163.48 83,163.2 C84.4,162.92 87.37,161.63 88.7,161 C90.03,160.37 89.97,160.18 91,159.4 C92.03,158.62 93.6,157.15 94.9,156.3 C96.2,155.45 97.63,154.57 98.8,154.3 C99.97,154.03 100.85,154.3 101.9,154.7 C102.95,155.1 104.05,156.1 105.1,156.7 C106.15,157.3 107.17,157.85 108.2,158.3 C109.23,158.75 110.25,159.22 111.3,159.4 C112.35,159.58 113.52,159.72 114.5,159.4 C115.48,159.08 116,157.72 117.2,157.5 C118.4,157.28 120.95,158 121.7,158.1 L121.7,172.9 C120.95,172.82 118.4,172.68 117.2,172.4 C116,172.12 115.48,171.47 114.5,171.2 C113.52,170.93 112.22,171.13 111.3,170.8 C110.38,170.47 109.9,169.8 109,169.2 C108.1,168.6 106.95,167.65 105.9,167.2 C104.85,166.75 103.75,166.68 102.7,166.5 C101.65,166.32 100.5,166.03 99.6,166.1 C98.7,166.17 98.22,166.52 97.3,166.9 C96.38,167.28 95.15,167.88 94.1,168.4 C93.05,168.92 91.9,169.48 91,170 C90.1,170.52 90.03,171.1 88.7,171.5 C87.37,171.9 84.4,172.22 83,172.4 C81.6,172.58 81.93,172.72 80.3,172.6 C78.67,172.48 75.08,171.3 73.2,171.7 C71.32,172.1 70.2,174.12 69,175 C67.8,175.88 67.47,176.3 66,177 C64.53,177.7 61.85,179.42 60.2,179.2 C58.55,178.98 57.47,176.85 56.1,175.7 C54.73,174.55 53.37,173.55 52,172.3 C50.63,171.05 49.15,169.75 47.9,168.2 C46.65,166.65 45.65,164.37 44.5,163 C43.35,161.63 42.48,160.72 41,160 C39.52,159.28 37.18,158.92 35.6,158.7 C34.02,158.48 32.87,159.27 31.5,158.7 C30.13,158.13 28.77,156.45 27.4,155.3 C26.03,154.15 24.9,152.83 23.3,151.8 C21.7,150.77 19.4,149.43 17.8,149.1 C16.2,148.77 15.3,149.57 13.7,149.8 C12.1,150.03 10.38,150.17 8.2,150.5 C6.02,150.83 1.87,151.58 0.6,151.8 Z" fill="#00ff00"/>
<path d="M0.6,147.7 C1.87,147.58 6.02,147.25 8.2,147 C10.38,146.75 12.1,146.65 13.7,146.2 C15.3,145.75 16.2,144.27 17.8,144.3 C19.4,144.33 21.7,145.48 23.3,146.4 C24.9,147.32 26.03,148.55 27.4,149.8 C28.77,151.05 30.13,153.1 31.5,153.9 C32.87,154.7 34.02,154.27 35.6,154.6 C37.18,154.93 39.52,155.17 41,155.9 C42.48,156.63 43.35,157.75 44.5,159 C45.65,160.25 46.65,161.98 47.9,163.4 C49.15,164.82 50.63,166.35 52,167.5 C53.37,168.65 54.73,169.27 56.1,170.3 C57.47,171.33 58.55,173.47 60.2,173.7 C61.85,173.93 64.13,173.08 66,171.7 C67.87,170.32 69.9,166.9 71.4,165.4 C72.9,163.9 73.52,163.15 75,162.7 C76.48,162.25 78.97,162.62 80.3,162.7 C81.63,162.78 81.6,163.48 83,163.2 C84.4,162.92 87.37,161.63 88.7,161 C90.03,160.37 89.97,160.18 91,159.4 C92.03,158.62 93.6,157.15 94.9,156.3 C96.2,155.45 97.63,154.57 98.8,154.3 C99.97,154.03 100.85,154.3 101.9,154.7 C102.95,155.1 104.05,156.1 105.1,156.7 C106.15,157.3 107.17,157.85 108.2,158.3 C109.23,158.75 110.25,159.22 111.3,159.4 C112.35,159.58 113.52,159.72 114.5,159.4 C115.48,159.08 116,157.72 117.2,157.5 C118.4,157.28 120.95,158 121.7,158.1" fill="none" stroke="#004f00" stroke-width="0.6"/>
<path d="M0.6,151.8 C1.87,151.58 6.02,150.83 8.2,150.5 C10.38,150.17 12.1,150.03 13.7,149.8 C15.3,149.57 16.2,148.77 17.8,149.1 C19.4,149.43 21.7,150.77 23.3,151.8 C24.9,152.83 26.03,154.15 27.4,155.3 C28.77,156.45 30.13,158.13 31.5,158.7 C32.87,159.27 34.02,158.48 35.6,158.7 C37.18,158.92 39.52,159.28 41,160 C42.48,160.72 43.35,161.63 44.5,163 C45.65,164.37 46.65,166.65 47.9,168.2 C49.15,169.75 50.63,171.05 52,172.3 C53.37,173.55 54.73,174.55 56.1,175.7 C57.47,176.85 58.55,178.98 60.2,179.2 C61.85,179.42 64.53,177.7 66,177 C67.47,176.3 67.8,175.88 69,175 C70.2,174.12 71.32,172.1 73.2,171.7 C75.08,171.3 78.67,172.48 80.3,172.6 C81.93,172.72 81.6,172.58 83,172.4 C84.4,172.22 87.37,171.9 88.7,171.5 C90.03,171.1 90.1,170.52 91,170 C91.9,169.48 93.05,168.92 94.1,168.4 C95.15,167.88 96.38,167.28 97.3,166.9 C98.22,166.52 98.7,166.17 99.6,166.1 C100.5,166.03 101.65,166.32 102.7,166.5 C103.75,166.68 104.85,166.75 105.9,167.2 C106.95,167.65 108.1,168.6 109,169.2 C109.9,169.8 110.38,170.47 111.3,170.8 C112.22,171.13 113.52,170.93 114.5,171.2 C115.48,171.47 116,172.12 117.2,172.4 C118.4,172.68 120.95,172.82 121.7,172.9" fill="none" stroke="#004f00" stroke-width="0.6"/>
<path d="M0.6,149.75 C1.87,149.58 6.02,149.04 8.2,148.75 C10.38,148.46 12.1,148.34 13.7,148 C15.3,147.66 16.2,146.52 17.8,146.7 C19.4,146.88 21.7,148.13 23.3,149.1 C24.9,150.08 26.03,151.35 27.4,152.55 C28.77,153.75 30.13,155.62 31.5,156.3 C32.87,156.98 34.02,156.37 35.6,156.65 C37.18,156.92 39.52,157.22 41,157.95 C42.48,158.67 43.35,159.69 44.5,161 C45.65,162.31 46.65,164.32 47.9,165.8 C49.15,167.28 50.63,168.7 52,169.9 C53.37,171.1 54.73,171.91 56.1,173 C57.47,174.09 58.55,176.22 60.2,176.45 C61.85,176.67 64.53,175.16 66,174.35 C67.47,173.54 68.1,172.45 69,171.6 C69.9,170.75 70.7,169.88 71.4,169.26 C72.1,168.64 72.6,168.2 73.2,167.88 C73.8,167.55 73.82,167.35 75,167.31 C76.18,167.28 78.97,167.57 80.3,167.65 C81.63,167.73 81.6,168.03 83,167.8 C84.4,167.57 87.37,166.77 88.7,166.25 C90.03,165.73 90.1,165.3 91,164.7 C91.9,164.1 93.45,163.09 94.1,162.67 C94.75,162.25 94.37,162.44 94.9,162.16 C95.43,161.88 96.65,161.29 97.3,160.98 C97.95,160.68 98.42,160.46 98.8,160.34 C99.18,160.22 99.08,160.22 99.6,160.25 C100.12,160.29 101.38,160.45 101.9,160.55 C102.42,160.65 102.17,160.63 102.7,160.85 C103.23,161.07 104.57,161.64 105.1,161.86 C105.63,162.08 105.38,161.88 105.9,162.16 C106.42,162.43 107.68,163.2 108.2,163.49 C108.72,163.78 108.48,163.62 109,163.89 C109.52,164.16 110.38,164.87 111.3,165.1 C112.22,165.33 113.52,165.33 114.5,165.3 C115.48,165.28 116,164.92 117.2,164.95 C118.4,164.98 120.95,165.41 121.7,165.5" fill="none" stroke="#000000" stroke-width="0.55" stroke-dasharray="7.6 4.6" opacity="0.85"/>
<path d="M0.3,154.66 C0.53,154.49 0.9,154.31 1.7,153.67 C2.5,153.04 3.97,151.51 5.1,150.83 C6.23,150.14 7.37,149.84 8.5,149.55 C9.63,149.25 10.92,149.4 11.9,149.06 C12.88,148.71 13.57,148.31 14.4,147.49 C15.23,146.67 16.27,144.9 16.9,144.15 C17.53,143.4 17.63,142.9 18.2,142.97 C18.77,143.04 19.52,144 20.3,144.54 C21.08,145.08 22.05,145.78 22.9,146.21 C23.75,146.64 24.7,146.41 25.4,147.09 C26.1,147.78 26.47,149.09 27.1,150.34 C27.73,151.58 28.48,153.3 29.2,154.56 C29.92,155.82 30.68,157.13 31.4,157.9 C32.12,158.67 32.57,158.49 33.5,159.17 C34.43,159.86 35.85,161.64 37,162.02 C38.15,162.4 39.27,161.81 40.4,161.43 C41.53,161.06 42.85,159.86 43.8,159.76 C44.75,159.66 45.25,160.11 46.1,160.84 C46.95,161.58 47.87,163.38 48.9,164.18 C49.93,164.98 51.35,164.77 52.3,165.65 C53.25,166.54 53.75,167.83 54.6,169.48 C55.45,171.14 56.45,173.63 57.4,175.57 C58.35,177.52 59.25,180.61 60.3,181.17 C61.35,181.73 62.57,179.78 63.7,178.91 C64.83,178.04 65.97,177.08 67.1,175.97 C68.23,174.85 69.37,173.79 70.5,172.23 C71.63,170.68 72.77,167.75 73.9,166.64 C75.03,165.52 76.15,165.56 77.3,165.56 C78.45,165.56 79.65,166.54 80.8,166.64 C81.95,166.74 83.07,166.42 84.2,166.15 C85.33,165.87 86.65,165.07 87.6,164.97 C88.55,164.87 89.05,164.53 89.9,165.56 C90.75,166.59 91.75,169.21 92.7,171.15 C93.65,173.1 94.75,175.66 95.6,177.24 C96.45,178.83 97.3,179.99 97.8,180.68 C98.3,181.37 98.15,181.74 98.6,181.37 C99.05,180.99 99.67,180.63 100.5,178.42 C101.33,176.21 102.58,170.56 103.6,168.11 C104.62,165.65 105.62,165 106.6,163.69 C107.58,162.38 108.8,161.32 109.5,160.25 C110.2,159.19 110.33,158.24 110.8,157.31 C111.27,156.37 111.6,154.98 112.3,154.66 C113,154.33 113.97,154.79 115,155.34 C116.03,155.9 117.42,157.23 118.5,157.99 C119.58,158.76 121,159.63 121.5,159.96" fill="none" stroke="#ff2a2a" stroke-width="0.8" stroke-linejoin="round" opacity="0.7"/>
<clipPath id="bc11"><path d="M0.6,147.7 C1.87,147.58 6.02,147.25 8.2,147 C10.38,146.75 12.1,146.65 13.7,146.2 C15.3,145.75 16.2,144.27 17.8,144.3 C19.4,144.33 21.7,145.48 23.3,146.4 C24.9,147.32 26.03,148.55 27.4,149.8 C28.77,151.05 30.13,153.1 31.5,153.9 C32.87,154.7 34.02,154.27 35.6,154.6 C37.18,154.93 39.52,155.17 41,155.9 C42.48,156.63 43.35,157.75 44.5,159 C45.65,160.25 46.65,161.98 47.9,163.4 C49.15,164.82 50.63,166.35 52,167.5 C53.37,168.65 54.73,169.27 56.1,170.3 C57.47,171.33 58.55,173.47 60.2,173.7 C61.85,173.93 64.13,173.08 66,171.7 C67.87,170.32 69.9,166.9 71.4,165.4 C72.9,163.9 73.52,163.15 75,162.7 C76.48,162.25 78.97,162.62 80.3,162.7 C81.63,162.78 81.6,163.48 83,163.2 C84.4,162.92 87.37,161.63 88.7,161 C90.03,160.37 89.97,160.18 91,159.4 C92.03,158.62 93.6,157.15 94.9,156.3 C96.2,155.45 97.63,154.57 98.8,154.3 C99.97,154.03 100.85,154.3 101.9,154.7 C102.95,155.1 104.05,156.1 105.1,156.7 C106.15,157.3 107.17,157.85 108.2,158.3 C109.23,158.75 110.25,159.22 111.3,159.4 C112.35,159.58 113.52,159.72 114.5,159.4 C115.48,159.08 116,157.72 117.2,157.5 C118.4,157.28 120.95,158 121.7,158.1 L121.7,172.9 C120.95,172.82 118.4,172.68 117.2,172.4 C116,172.12 115.48,171.47 114.5,171.2 C113.52,170.93 112.22,171.13 111.3,170.8 C110.38,170.47 109.9,169.8 109,169.2 C108.1,168.6 106.95,167.65 105.9,167.2 C104.85,166.75 103.75,166.68 102.7,166.5 C101.65,166.32 100.5,166.03 99.6,166.1 C98.7,166.17 98.22,166.52 97.3,166.9 C96.38,167.28 95.15,167.88 94.1,168.4 C93.05,168.92 91.9,169.48 91,170 C90.1,170.52 90.03,171.1 88.7,171.5 C87.37,171.9 84.4,172.22 83,172.4 C81.6,172.58 81.93,172.72 80.3,172.6 C78.67,172.48 75.08,171.3 73.2,171.7 C71.32,172.1 70.2,174.12 69,175 C67.8,175.88 67.47,176.3 66,177 C64.53,177.7 61.85,179.42 60.2,179.2 C58.55,178.98 57.47,176.85 56.1,175.7 C54.73,174.55 53.37,173.55 52,172.3 C50.63,171.05 49.15,169.75 47.9,168.2 C46.65,166.65 45.65,164.37 44.5,163 C43.35,161.63 42.48,160.72 41,160 C39.52,159.28 37.18,158.92 35.6,158.7 C34.02,158.48 32.87,159.27 31.5,158.7 C30.13,158.13 28.77,156.45 27.4,155.3 C26.03,154.15 24.9,152.83 23.3,151.8 C21.7,150.77 19.4,149.43 17.8,149.1 C16.2,148.77 15.3,149.57 13.7,149.8 C12.1,150.03 10.38,150.17 8.2,150.5 C6.02,150.83 1.87,151.58 0.6,151.8 Z"/></clipPath>
<path clip-path="url(#bc11)" d="M0.3,154.66 C0.53,154.49 0.9,154.31 1.7,153.67 C2.5,153.04 3.97,151.51 5.1,150.83 C6.23,150.14 7.37,149.84 8.5,149.55 C9.63,149.25 10.92,149.4 11.9,149.06 C12.88,148.71 13.57,148.31 14.4,147.49 C15.23,146.67 16.27,144.9 16.9,144.15 C17.53,143.4 17.63,142.9 18.2,142.97 C18.77,143.04 19.52,144 20.3,144.54 C21.08,145.08 22.05,145.78 22.9,146.21 C23.75,146.64 24.7,146.41 25.4,147.09 C26.1,147.78 26.47,149.09 27.1,150.34 C27.73,151.58 28.48,153.3 29.2,154.56 C29.92,155.82 30.68,157.13 31.4,157.9 C32.12,158.67 32.57,158.49 33.5,159.17 C34.43,159.86 35.85,161.64 37,162.02 C38.15,162.4 39.27,161.81 40.4,161.43 C41.53,161.06 42.85,159.86 43.8,159.76 C44.75,159.66 45.25,160.11 46.1,160.84 C46.95,161.58 47.87,163.38 48.9,164.18 C49.93,164.98 51.35,164.77 52.3,165.65 C53.25,166.54 53.75,167.83 54.6,169.48 C55.45,171.14 56.45,173.63 57.4,175.57 C58.35,177.52 59.25,180.61 60.3,181.17 C61.35,181.73 62.57,179.78 63.7,178.91 C64.83,178.04 65.97,177.08 67.1,175.97 C68.23,174.85 69.37,173.79 70.5,172.23 C71.63,170.68 72.77,167.75 73.9,166.64 C75.03,165.52 76.15,165.56 77.3,165.56 C78.45,165.56 79.65,166.54 80.8,166.64 C81.95,166.74 83.07,166.42 84.2,166.15 C85.33,165.87 86.65,165.07 87.6,164.97 C88.55,164.87 89.05,164.53 89.9,165.56 C90.75,166.59 91.75,169.21 92.7,171.15 C93.65,173.1 94.75,175.66 95.6,177.24 C96.45,178.83 97.3,179.99 97.8,180.68 C98.3,181.37 98.15,181.74 98.6,181.37 C99.05,180.99 99.67,180.63 100.5,178.42 C101.33,176.21 102.58,170.56 103.6,168.11 C104.62,165.65 105.62,165 106.6,163.69 C107.58,162.38 108.8,161.32 109.5,160.25 C110.2,159.19 110.33,158.24 110.8,157.31 C111.27,156.37 111.6,154.98 112.3,154.66 C113,154.33 113.97,154.79 115,155.34 C116.03,155.9 117.42,157.23 118.5,157.99 C119.58,158.76 121,159.63 121.5,159.96" fill="none" stroke="#ff6a00" stroke-width="0.9" stroke-linejoin="round" opacity="0.85"/>
<path d="M0.6,143.4 C1.42,143.1 4.35,141.6 5.5,141.6 C6.65,141.6 6.6,143.4 7.5,143.4 C8.4,143.4 9.75,141.9 10.9,141.6 C12.05,141.3 13.02,141.83 14.4,141.6 C15.78,141.37 17.95,139.98 19.2,140.2 C20.45,140.42 20.88,142.1 21.9,142.9 C22.92,143.7 24.17,144.08 25.3,145 C26.43,145.92 27.45,147.48 28.7,148.4 C29.95,149.32 31.32,150.12 32.8,150.5 C34.28,150.88 36.23,150.52 37.6,150.7 C38.97,150.88 39.97,150.83 41,151.6 C42.03,152.37 42.88,153.9 43.8,155.3 C44.72,156.7 45.7,159.1 46.5,160 C47.3,160.9 47.68,160.58 48.6,160.7 C49.52,160.82 50.98,160.13 52,160.7 C53.02,161.27 53.78,162.85 54.7,164.1 C55.62,165.35 56.58,167.05 57.5,168.2 C58.42,169.35 59.62,170.65 60.2,171 C60.78,171.35 60.42,170.58 61,170.3 C61.58,170.02 62.78,169.38 63.7,169.3 C64.62,169.22 65.58,170.32 66.5,169.8 C67.42,169.28 68.4,167.38 69.2,166.2 C70,165.02 70.62,163.77 71.3,162.7 C71.98,161.63 72.52,160.75 73.3,159.8 C74.08,158.85 75.08,157.75 76,157 C76.92,156.25 77.88,155.43 78.8,155.3 C79.72,155.17 80.58,156.05 81.5,156.2 C82.42,156.35 83.27,156.52 84.3,156.2 C85.33,155.88 86.45,154.92 87.7,154.3 C88.95,153.68 90.55,153.25 91.8,152.5 C93.05,151.75 93.95,150.82 95.2,149.8 C96.45,148.78 98.17,146.87 99.3,146.4 C100.43,145.93 101.08,146.73 102,147 C102.92,147.27 103.77,147.83 104.8,148 C105.83,148.17 107.07,148.73 108.2,148 C109.33,147.27 110.47,144.97 111.6,143.6 C112.73,142.23 114.08,140.63 115,139.8 C115.92,138.97 116.42,138.53 117.1,138.6 C117.78,138.67 118.35,139.4 119.1,140.2 C119.85,141 121.18,142.87 121.6,143.4" fill="none" stroke="#2020ff" stroke-width="0.85" stroke-linejoin="round"/>
<path d="M0.6,155 C0.83,154.9 0.8,154.98 2,154.4 C3.2,153.82 5.85,151.82 7.8,151.5 C9.75,151.18 11.9,152.57 13.7,152.5 C15.5,152.43 17.13,151.43 18.6,151.1 C20.07,150.77 21.37,149.78 22.5,150.5 C23.63,151.22 24.43,153.77 25.4,155.4 C26.37,157.03 27.37,159.3 28.3,160.3 C29.23,161.3 30.02,161.23 31,161.4 C31.98,161.57 33.22,161.37 34.2,161.3 C35.18,161.23 36.08,160.68 36.9,161 C37.72,161.32 38.18,162.33 39.1,163.2 C40.02,164.07 41.43,165.38 42.4,166.2 C43.37,167.02 43.98,167.53 44.9,168.1 C45.82,168.67 46.92,168.87 47.9,169.6 C48.88,170.33 49.88,171.52 50.8,172.5 C51.72,173.48 52.43,174.6 53.4,175.5 C54.37,176.4 55.25,176.85 56.6,177.9 C57.95,178.95 60.08,180.98 61.5,181.8 C62.92,182.62 63.82,182.78 65.1,182.8 C66.38,182.82 67.83,182.4 69.2,181.9 C70.57,181.4 71.93,180.37 73.3,179.8 C74.67,179.23 76.03,178.72 77.4,178.5 C78.77,178.28 80.13,178.05 81.5,178.5 C82.87,178.95 84.23,180.37 85.6,181.2 C86.97,182.03 88.22,182.82 89.7,183.5 C91.18,184.18 93.23,185.45 94.5,185.3 C95.77,185.15 96.27,183.4 97.3,182.6 C98.33,181.8 99.45,180.17 100.7,180.5 C101.95,180.83 103.43,184.13 104.8,184.6 C106.17,185.07 107.53,183.75 108.9,183.3 C110.27,182.85 111.63,182.37 113,181.9 C114.37,181.43 115.67,180.1 117.1,180.5 C118.53,180.9 120.85,183.67 121.6,184.3" fill="none" stroke="#2020ff" stroke-width="0.85" stroke-linejoin="round"/>
</g>
<line x1="0.45" y1="119.45" x2="122.45" y2="119.45" stroke="#a0a0a0" stroke-width="0.9" stroke-linecap="square"/>
<line x1="0.45" y1="201.45" x2="122.45" y2="201.45" stroke="#a0a0a0" stroke-width="0.9" stroke-linecap="square"/>
<line x1="0.45" y1="119.45" x2="0.45" y2="201.45" stroke="#a0a0a0" stroke-width="0.9" stroke-linecap="square"/>
<line x1="122.45" y1="119.45" x2="122.45" y2="201.45" stroke="#a0a0a0" stroke-width="0.9" stroke-linecap="square"/>
</g>
<g class="t"><text x="155.95" y="114.95" font-family="Liberation Serif" font-size="10" font-style="italic" textLength="5.0" lengthAdjust="spacingAndGlyphs">&#956;</text>
<text x="161.65" y="116.05" font-family="Liberation Serif" font-size="6.6" stroke="#000" stroke-width="0.22">3</text>
<text x="169.05" y="115.65" font-family="Liberation Serif" font-size="11">(</text>
<text x="172.35" y="114.95" font-family="Liberation Serif" font-size="9.3" textLength="20.4" lengthAdjust="spacingAndGlyphs">SMC</text>
<text x="192.65" y="115.65" font-family="Liberation Serif" font-size="11">)</text>
<text x="199.65" y="114.95" font-family="Liberation Serif" font-size="9.3" stroke="#000" stroke-width="0.15">J</text>
<rect x="204.75" y="111.2" width="6.1" height="0.6" fill="#000"/>
<rect x="204.75" y="113.4" width="6.1" height="0.6" fill="#000"/>
<text x="211.55" y="114.95" font-family="Liberation Serif" font-size="9.3" stroke="#000" stroke-width="0.1" textLength="13.5" lengthAdjust="spacingAndGlyphs">400</text></g>
<clipPath id="c12"><rect x="0.45" y="119.45" width="122" height="82"/></clipPath>
<g transform="translate(258,0)">
<g clip-path="url(#c12)">
<line x1="72.4" y1="118.5" x2="72.4" y2="202.45" stroke="#ff9a9a" stroke-width="1.0" stroke-dasharray="8.3 4.15"/>
<path d="M0.6,146.6 C2.13,146.6 6.97,147.02 9.8,146.6 C12.63,146.18 15.33,143.93 17.6,144.1 C19.87,144.27 21.45,146.2 23.4,147.6 C25.35,149 27.33,151.37 29.3,152.5 C31.27,153.63 33.25,153.75 35.2,154.4 C37.15,155.05 39.05,155.25 41,156.4 C42.95,157.55 45.1,160 46.9,161.3 C48.7,162.6 50.18,162.75 51.8,164.2 C53.42,165.65 55.23,168.45 56.6,170 C57.97,171.55 58.53,173.37 60,173.5 C61.47,173.63 63.6,171.83 65.4,170.8 C67.2,169.77 69.02,168.48 70.8,167.3 C72.58,166.12 74.32,164.75 76.1,163.7 C77.88,162.65 80.35,161.48 81.5,161 C82.65,160.52 81.12,161.25 83,160.8 C84.88,160.35 89.53,158.47 92.8,158.3 C96.07,158.13 99.67,159.63 102.6,159.8 C105.53,159.97 107.97,159.72 110.4,159.3 C112.83,158.88 115.33,157.87 117.2,157.3 C119.07,156.73 120.87,156.13 121.6,155.9 L121.6,169.1 C120.87,169.18 119.07,169.45 117.2,169.6 C115.33,169.75 112.83,169.6 110.4,170 C107.97,170.4 105.53,171.67 102.6,172 C99.67,172.33 96.07,171.83 92.8,172 C89.53,172.17 84.88,173.05 83,173 C81.12,172.95 82.65,171.77 81.5,171.7 C80.35,171.63 77.88,172.15 76.1,172.6 C74.32,173.05 72.58,173.65 70.8,174.4 C69.02,175.15 67.2,176.35 65.4,177.1 C63.6,177.85 61.47,179.1 60,178.9 C58.53,178.7 57.97,177.53 56.6,175.9 C55.23,174.27 53.42,170.73 51.8,169.1 C50.18,167.47 48.7,167.4 46.9,166.1 C45.1,164.8 42.95,162.43 41,161.3 C39.05,160.17 37.15,159.97 35.2,159.3 C33.25,158.63 31.27,158.43 29.3,157.3 C27.33,156.17 25.35,153.87 23.4,152.5 C21.45,151.13 19.87,149.53 17.6,149.1 C15.33,148.67 12.63,149.57 9.8,149.9 C6.97,150.23 2.13,150.9 0.6,151.1 Z" fill="#00ff00"/>
<path d="M0.6,146.6 C2.13,146.6 6.97,147.02 9.8,146.6 C12.63,146.18 15.33,143.93 17.6,144.1 C19.87,144.27 21.45,146.2 23.4,147.6 C25.35,149 27.33,151.37 29.3,152.5 C31.27,153.63 33.25,153.75 35.2,154.4 C37.15,155.05 39.05,155.25 41,156.4 C42.95,157.55 45.1,160 46.9,161.3 C48.7,162.6 50.18,162.75 51.8,164.2 C53.42,165.65 55.23,168.45 56.6,170 C57.97,171.55 58.53,173.37 60,173.5 C61.47,173.63 63.6,171.83 65.4,170.8 C67.2,169.77 69.02,168.48 70.8,167.3 C72.58,166.12 74.32,164.75 76.1,163.7 C77.88,162.65 80.35,161.48 81.5,161 C82.65,160.52 81.12,161.25 83,160.8 C84.88,160.35 89.53,158.47 92.8,158.3 C96.07,158.13 99.67,159.63 102.6,159.8 C105.53,159.97 107.97,159.72 110.4,159.3 C112.83,158.88 115.33,157.87 117.2,157.3 C119.07,156.73 120.87,156.13 121.6,155.9" fill="none" stroke="#004f00" stroke-width="0.6"/>
<path d="M0.6,151.1 C2.13,150.9 6.97,150.23 9.8,149.9 C12.63,149.57 15.33,148.67 17.6,149.1 C19.87,149.53 21.45,151.13 23.4,152.5 C25.35,153.87 27.33,156.17 29.3,157.3 C31.27,158.43 33.25,158.63 35.2,159.3 C37.15,159.97 39.05,160.17 41,161.3 C42.95,162.43 45.1,164.8 46.9,166.1 C48.7,167.4 50.18,167.47 51.8,169.1 C53.42,170.73 55.23,174.27 56.6,175.9 C57.97,177.53 58.53,178.7 60,178.9 C61.47,179.1 63.6,177.85 65.4,177.1 C67.2,176.35 69.02,175.15 70.8,174.4 C72.58,173.65 74.32,173.05 76.1,172.6 C77.88,172.15 80.35,171.63 81.5,171.7 C82.65,171.77 81.12,172.95 83,173 C84.88,173.05 89.53,172.17 92.8,172 C96.07,171.83 99.67,172.33 102.6,172 C105.53,171.67 107.97,170.4 110.4,170 C112.83,169.6 115.33,169.75 117.2,169.6 C119.07,169.45 120.87,169.18 121.6,169.1" fill="none" stroke="#004f00" stroke-width="0.6"/>
<path d="M0.6,148.85 C2.13,148.75 6.97,148.62 9.8,148.25 C12.63,147.88 15.33,146.3 17.6,146.6 C19.87,146.9 21.45,148.67 23.4,150.05 C25.35,151.43 27.33,153.77 29.3,154.9 C31.27,156.03 33.25,156.19 35.2,156.85 C37.15,157.51 39.05,157.71 41,158.85 C42.95,159.99 45.1,162.4 46.9,163.7 C48.7,165 50.18,165.11 51.8,166.65 C53.42,168.19 55.23,171.36 56.6,172.95 C57.97,174.54 58.53,176.03 60,176.2 C61.47,176.37 63.6,174.84 65.4,173.95 C67.2,173.06 69.02,171.82 70.8,170.85 C72.58,169.88 74.32,168.9 76.1,168.15 C77.88,167.4 80.35,166.56 81.5,166.35 C82.65,166.14 81.12,167.1 83,166.9 C84.88,166.7 89.53,165.32 92.8,165.15 C96.07,164.98 99.67,165.98 102.6,165.9 C105.53,165.82 107.97,165.06 110.4,164.65 C112.83,164.24 115.33,163.81 117.2,163.45 C119.07,163.09 120.87,162.66 121.6,162.5" fill="none" stroke="#000000" stroke-width="0.55" stroke-dasharray="7.6 4.6" opacity="0.85"/>
<path d="M0.3,154.66 C0.53,154.49 0.9,154.31 1.7,153.67 C2.5,153.04 3.97,151.51 5.1,150.83 C6.23,150.14 7.37,149.84 8.5,149.55 C9.63,149.25 10.92,149.4 11.9,149.06 C12.88,148.71 13.57,148.31 14.4,147.49 C15.23,146.67 16.27,144.9 16.9,144.15 C17.53,143.4 17.63,142.9 18.2,142.97 C18.77,143.04 19.52,144 20.3,144.54 C21.08,145.08 22.05,145.78 22.9,146.21 C23.75,146.64 24.7,146.41 25.4,147.09 C26.1,147.78 26.47,149.09 27.1,150.34 C27.73,151.58 28.48,153.3 29.2,154.56 C29.92,155.82 30.68,157.13 31.4,157.9 C32.12,158.67 32.57,158.49 33.5,159.17 C34.43,159.86 35.85,161.64 37,162.02 C38.15,162.4 39.27,161.81 40.4,161.43 C41.53,161.06 42.85,159.86 43.8,159.76 C44.75,159.66 45.25,160.11 46.1,160.84 C46.95,161.58 47.87,163.38 48.9,164.18 C49.93,164.98 51.35,164.77 52.3,165.65 C53.25,166.54 53.75,167.83 54.6,169.48 C55.45,171.14 56.45,173.63 57.4,175.57 C58.35,177.52 59.25,180.61 60.3,181.17 C61.35,181.73 62.57,179.78 63.7,178.91 C64.83,178.04 65.97,177.08 67.1,175.97 C68.23,174.85 69.37,173.79 70.5,172.23 C71.63,170.68 72.77,167.75 73.9,166.64 C75.03,165.52 76.15,165.56 77.3,165.56 C78.45,165.56 79.65,166.54 80.8,166.64 C81.95,166.74 83.07,166.42 84.2,166.15 C85.33,165.87 86.65,165.07 87.6,164.97 C88.55,164.87 89.05,164.53 89.9,165.56 C90.75,166.59 91.75,169.21 92.7,171.15 C93.65,173.1 94.75,175.66 95.6,177.24 C96.45,178.83 97.3,179.99 97.8,180.68 C98.3,181.37 98.15,181.74 98.6,181.37 C99.05,180.99 99.67,180.63 100.5,178.42 C101.33,176.21 102.58,170.56 103.6,168.11 C104.62,165.65 105.62,165 106.6,163.69 C107.58,162.38 108.8,161.32 109.5,160.25 C110.2,159.19 110.33,158.24 110.8,157.31 C111.27,156.37 111.6,154.98 112.3,154.66 C113,154.33 113.97,154.79 115,155.34 C116.03,155.9 117.42,157.23 118.5,157.99 C119.58,158.76 121,159.63 121.5,159.96" fill="none" stroke="#ff2a2a" stroke-width="0.8" stroke-linejoin="round" opacity="0.7"/>
<clipPath id="bc12"><path d="M0.6,146.6 C2.13,146.6 6.97,147.02 9.8,146.6 C12.63,146.18 15.33,143.93 17.6,144.1 C19.87,144.27 21.45,146.2 23.4,147.6 C25.35,149 27.33,151.37 29.3,152.5 C31.27,153.63 33.25,153.75 35.2,154.4 C37.15,155.05 39.05,155.25 41,156.4 C42.95,157.55 45.1,160 46.9,161.3 C48.7,162.6 50.18,162.75 51.8,164.2 C53.42,165.65 55.23,168.45 56.6,170 C57.97,171.55 58.53,173.37 60,173.5 C61.47,173.63 63.6,171.83 65.4,170.8 C67.2,169.77 69.02,168.48 70.8,167.3 C72.58,166.12 74.32,164.75 76.1,163.7 C77.88,162.65 80.35,161.48 81.5,161 C82.65,160.52 81.12,161.25 83,160.8 C84.88,160.35 89.53,158.47 92.8,158.3 C96.07,158.13 99.67,159.63 102.6,159.8 C105.53,159.97 107.97,159.72 110.4,159.3 C112.83,158.88 115.33,157.87 117.2,157.3 C119.07,156.73 120.87,156.13 121.6,155.9 L121.6,169.1 C120.87,169.18 119.07,169.45 117.2,169.6 C115.33,169.75 112.83,169.6 110.4,170 C107.97,170.4 105.53,171.67 102.6,172 C99.67,172.33 96.07,171.83 92.8,172 C89.53,172.17 84.88,173.05 83,173 C81.12,172.95 82.65,171.77 81.5,171.7 C80.35,171.63 77.88,172.15 76.1,172.6 C74.32,173.05 72.58,173.65 70.8,174.4 C69.02,175.15 67.2,176.35 65.4,177.1 C63.6,177.85 61.47,179.1 60,178.9 C58.53,178.7 57.97,177.53 56.6,175.9 C55.23,174.27 53.42,170.73 51.8,169.1 C50.18,167.47 48.7,167.4 46.9,166.1 C45.1,164.8 42.95,162.43 41,161.3 C39.05,160.17 37.15,159.97 35.2,159.3 C33.25,158.63 31.27,158.43 29.3,157.3 C27.33,156.17 25.35,153.87 23.4,152.5 C21.45,151.13 19.87,149.53 17.6,149.1 C15.33,148.67 12.63,149.57 9.8,149.9 C6.97,150.23 2.13,150.9 0.6,151.1 Z"/></clipPath>
<path clip-path="url(#bc12)" d="M0.3,154.66 C0.53,154.49 0.9,154.31 1.7,153.67 C2.5,153.04 3.97,151.51 5.1,150.83 C6.23,150.14 7.37,149.84 8.5,149.55 C9.63,149.25 10.92,149.4 11.9,149.06 C12.88,148.71 13.57,148.31 14.4,147.49 C15.23,146.67 16.27,144.9 16.9,144.15 C17.53,143.4 17.63,142.9 18.2,142.97 C18.77,143.04 19.52,144 20.3,144.54 C21.08,145.08 22.05,145.78 22.9,146.21 C23.75,146.64 24.7,146.41 25.4,147.09 C26.1,147.78 26.47,149.09 27.1,150.34 C27.73,151.58 28.48,153.3 29.2,154.56 C29.92,155.82 30.68,157.13 31.4,157.9 C32.12,158.67 32.57,158.49 33.5,159.17 C34.43,159.86 35.85,161.64 37,162.02 C38.15,162.4 39.27,161.81 40.4,161.43 C41.53,161.06 42.85,159.86 43.8,159.76 C44.75,159.66 45.25,160.11 46.1,160.84 C46.95,161.58 47.87,163.38 48.9,164.18 C49.93,164.98 51.35,164.77 52.3,165.65 C53.25,166.54 53.75,167.83 54.6,169.48 C55.45,171.14 56.45,173.63 57.4,175.57 C58.35,177.52 59.25,180.61 60.3,181.17 C61.35,181.73 62.57,179.78 63.7,178.91 C64.83,178.04 65.97,177.08 67.1,175.97 C68.23,174.85 69.37,173.79 70.5,172.23 C71.63,170.68 72.77,167.75 73.9,166.64 C75.03,165.52 76.15,165.56 77.3,165.56 C78.45,165.56 79.65,166.54 80.8,166.64 C81.95,166.74 83.07,166.42 84.2,166.15 C85.33,165.87 86.65,165.07 87.6,164.97 C88.55,164.87 89.05,164.53 89.9,165.56 C90.75,166.59 91.75,169.21 92.7,171.15 C93.65,173.1 94.75,175.66 95.6,177.24 C96.45,178.83 97.3,179.99 97.8,180.68 C98.3,181.37 98.15,181.74 98.6,181.37 C99.05,180.99 99.67,180.63 100.5,178.42 C101.33,176.21 102.58,170.56 103.6,168.11 C104.62,165.65 105.62,165 106.6,163.69 C107.58,162.38 108.8,161.32 109.5,160.25 C110.2,159.19 110.33,158.24 110.8,157.31 C111.27,156.37 111.6,154.98 112.3,154.66 C113,154.33 113.97,154.79 115,155.34 C116.03,155.9 117.42,157.23 118.5,157.99 C119.58,158.76 121,159.63 121.5,159.96" fill="none" stroke="#ff6a00" stroke-width="0.9" stroke-linejoin="round" opacity="0.85"/>
<path d="M0.6,142.5 C1.53,142.47 4.48,142 6.2,142.3 C7.92,142.6 9.53,144.42 10.9,144.3 C12.27,144.18 13.13,142.58 14.4,141.6 C15.67,140.62 17.48,138.75 18.5,138.4 C19.52,138.05 19.7,138.63 20.5,139.5 C21.3,140.37 22.27,142.68 23.3,143.6 C24.33,144.52 25.57,144.2 26.7,145 C27.83,145.8 28.85,147.48 30.1,148.4 C31.35,149.32 32.83,150.33 34.2,150.5 C35.57,150.67 37.05,149.37 38.3,149.4 C39.55,149.43 40.78,149.95 41.7,150.7 C42.62,151.45 43,152.57 43.8,153.9 C44.6,155.23 45.48,157.78 46.5,158.7 C47.52,159.62 48.98,159.07 49.9,159.4 C50.82,159.73 51.32,160.15 52,160.7 C52.68,161.25 53.08,161.57 54,162.7 C54.92,163.83 56.47,166.23 57.5,167.5 C58.53,168.77 59.62,169.83 60.2,170.3 C60.78,170.77 60.18,170.65 61,170.3 C61.82,169.95 63.73,169.23 65.1,168.2 C66.47,167.17 68.07,165.23 69.2,164.1 C70.33,162.97 71.22,162.08 71.9,161.4 C72.58,160.72 72.62,161.13 73.3,160 C73.98,158.87 75.08,156.08 76,154.6 C76.92,153.12 77.77,152.07 78.8,151.1 C79.83,150.13 81.07,149.32 82.2,148.8 C83.33,148.28 84.35,148.45 85.6,148 C86.85,147.55 88.22,146.27 89.7,146.1 C91.18,145.93 92.9,146.95 94.5,147 C96.1,147.05 97.82,146.4 99.3,146.4 C100.78,146.4 101.92,146.78 103.4,147 C104.88,147.22 106.83,147.35 108.2,147.7 C109.57,148.05 110.47,149.1 111.6,149.1 C112.73,149.1 113.85,148.5 115,147.7 C116.15,146.9 117.4,145.2 118.5,144.3 C119.6,143.4 121.08,142.63 121.6,142.3" fill="none" stroke="#2020ff" stroke-width="0.85" stroke-linejoin="round"/>
<path d="M0.6,153.9 C1.53,153.67 4.48,152.43 6.2,152.5 C7.92,152.57 9.43,154.18 10.9,154.3 C12.37,154.42 13.4,153.68 15,153.2 C16.6,152.72 19.23,151.52 20.5,151.4 C21.77,151.28 21.92,151.63 22.6,152.5 C23.28,153.37 23.92,155.23 24.6,156.6 C25.28,157.97 26.02,159.8 26.7,160.7 C27.38,161.6 27.68,161.88 28.7,162 C29.72,162.12 31.53,161.4 32.8,161.4 C34.07,161.4 35.15,161.32 36.3,162 C37.45,162.68 38.57,164.58 39.7,165.5 C40.83,166.42 41.97,167.05 43.1,167.5 C44.23,167.95 45.48,167.4 46.5,168.2 C47.52,169 48.17,170.93 49.2,172.3 C50.23,173.67 51.55,175.03 52.7,176.4 C53.85,177.77 55.08,179.58 56.1,180.5 C57.12,181.42 57.98,181.43 58.8,181.9 C59.62,182.37 59.95,182.97 61,183.3 C62.05,183.63 63.73,183.9 65.1,183.9 C66.47,183.9 67.83,183.45 69.2,183.3 C70.57,183.15 71.93,182.67 73.3,183 C74.67,183.33 75.92,184.47 77.4,185.3 C78.88,186.13 80.72,188.12 82.2,188 C83.68,187.88 85.05,185.28 86.3,184.6 C87.55,183.92 88.45,183.95 89.7,183.9 C90.95,183.85 92.43,184.37 93.8,184.3 C95.17,184.23 96.53,183.45 97.9,183.5 C99.27,183.55 100.63,184.6 102,184.6 C103.37,184.6 104.73,183.83 106.1,183.5 C107.47,183.17 108.93,182.68 110.2,182.6 C111.47,182.52 112.55,183.17 113.7,183 C114.85,182.83 115.78,181.55 117.1,181.6 C118.42,181.65 120.85,183.02 121.6,183.3" fill="none" stroke="#2020ff" stroke-width="0.85" stroke-linejoin="round"/>
</g>
<line x1="0.45" y1="119.45" x2="122.45" y2="119.45" stroke="#a0a0a0" stroke-width="0.9" stroke-linecap="square"/>
<line x1="0.45" y1="201.45" x2="122.45" y2="201.45" stroke="#a0a0a0" stroke-width="0.9" stroke-linecap="square"/>
<line x1="0.45" y1="119.45" x2="0.45" y2="201.45" stroke="#a0a0a0" stroke-width="0.9" stroke-linecap="square"/>
<line x1="122.45" y1="119.45" x2="122.45" y2="201.45" stroke="#a0a0a0" stroke-width="0.9" stroke-linecap="square"/>
</g>
<g class="t"><text x="282.9" y="114.95" font-family="Liberation Serif" font-size="10" font-style="italic" textLength="5.0" lengthAdjust="spacingAndGlyphs">&#956;</text>
<text x="288.6" y="116.05" font-family="Liberation Serif" font-size="6.6" stroke="#000" stroke-width="0.22">3</text>
<text x="296" y="115.65" font-family="Liberation Serif" font-size="11">(</text>
<text x="299.3" y="114.95" font-family="Liberation Serif" font-size="9.3" textLength="20.4" lengthAdjust="spacingAndGlyphs">SMC</text>
<text x="319.6" y="115.65" font-family="Liberation Serif" font-size="11">)</text>
<text x="326.6" y="114.95" font-family="Liberation Serif" font-size="9.3" stroke="#000" stroke-width="0.15">J</text>
<rect x="331.7" y="111.2" width="6.1" height="0.6" fill="#000"/>
<rect x="331.7" y="113.4" width="6.1" height="0.6" fill="#000"/>
<text x="338.5" y="114.95" font-family="Liberation Serif" font-size="9.3" stroke="#000" stroke-width="0.1" textLength="18" lengthAdjust="spacingAndGlyphs">1600</text></g>
<clipPath id="c13"><rect x="0.45" y="119.45" width="122.05" height="82"/></clipPath>
<g transform="translate(387,0)">
<g clip-path="url(#c13)">
<line x1="72.4" y1="118.5" x2="72.4" y2="202.45" stroke="#ff9a9a" stroke-width="1.0" stroke-dasharray="8.3 4.15"/>
<path d="M0.6,147.2 C2.13,147.2 7.13,147.72 9.8,147.2 C12.47,146.68 14.48,144.03 16.6,144.1 C18.72,144.17 20.55,146.2 22.5,147.6 C24.45,149 26.35,151.37 28.3,152.5 C30.25,153.63 32.25,153.75 34.2,154.4 C36.15,155.05 38.05,155.25 40,156.4 C41.95,157.55 43.93,159.83 45.9,161.3 C47.87,162.77 50.02,163.75 51.8,165.2 C53.58,166.65 54.98,168.55 56.6,170 C58.22,171.45 60.03,173.62 61.5,173.9 C62.97,174.18 63.87,172.67 65.4,171.7 C66.93,170.73 68.92,169.45 70.7,168.1 C72.48,166.75 74.3,164.93 76.1,163.6 C77.9,162.27 79.72,160.98 81.5,160.1 C83.28,159.22 84.42,158.75 86.8,158.3 C89.18,157.85 89.93,157.55 95.8,157.4 C101.67,157.25 117.63,157.4 122,157.4 L122,170.6 C119.12,170.6 109.07,170.63 104.7,170.6 C100.33,170.57 98.78,170.37 95.8,170.4 C92.82,170.43 89.18,170.58 86.8,170.8 C84.42,171.02 83.28,171.25 81.5,171.7 C79.72,172.15 77.9,172.9 76.1,173.5 C74.3,174.1 72.48,174.7 70.7,175.3 C68.92,175.9 66.93,176.52 65.4,177.1 C63.87,177.68 62.97,179.17 61.5,178.8 C60.03,178.43 58.22,176.37 56.6,174.9 C54.98,173.43 53.58,171.47 51.8,170 C50.02,168.53 47.87,167.55 45.9,166.1 C43.93,164.65 41.95,162.43 40,161.3 C38.05,160.17 36.15,159.97 34.2,159.3 C32.25,158.63 30.25,158.43 28.3,157.3 C26.35,156.17 24.45,153.87 22.5,152.5 C20.55,151.13 18.72,149.43 16.6,149.1 C14.48,148.77 12.47,150.1 9.8,150.5 C7.13,150.9 2.13,151.33 0.6,151.5 Z" fill="#00ff00"/>
<path d="M0.6,147.2 C2.13,147.2 7.13,147.72 9.8,147.2 C12.47,146.68 14.48,144.03 16.6,144.1 C18.72,144.17 20.55,146.2 22.5,147.6 C24.45,149 26.35,151.37 28.3,152.5 C30.25,153.63 32.25,153.75 34.2,154.4 C36.15,155.05 38.05,155.25 40,156.4 C41.95,157.55 43.93,159.83 45.9,161.3 C47.87,162.77 50.02,163.75 51.8,165.2 C53.58,166.65 54.98,168.55 56.6,170 C58.22,171.45 60.03,173.62 61.5,173.9 C62.97,174.18 63.87,172.67 65.4,171.7 C66.93,170.73 68.92,169.45 70.7,168.1 C72.48,166.75 74.3,164.93 76.1,163.6 C77.9,162.27 79.72,160.98 81.5,160.1 C83.28,159.22 84.42,158.75 86.8,158.3 C89.18,157.85 89.93,157.55 95.8,157.4 C101.67,157.25 117.63,157.4 122,157.4" fill="none" stroke="#004f00" stroke-width="0.6"/>
<path d="M0.6,151.5 C2.13,151.33 7.13,150.9 9.8,150.5 C12.47,150.1 14.48,148.77 16.6,149.1 C18.72,149.43 20.55,151.13 22.5,152.5 C24.45,153.87 26.35,156.17 28.3,157.3 C30.25,158.43 32.25,158.63 34.2,159.3 C36.15,159.97 38.05,160.17 40,161.3 C41.95,162.43 43.93,164.65 45.9,166.1 C47.87,167.55 50.02,168.53 51.8,170 C53.58,171.47 54.98,173.43 56.6,174.9 C58.22,176.37 60.03,178.43 61.5,178.8 C62.97,179.17 63.87,177.68 65.4,177.1 C66.93,176.52 68.92,175.9 70.7,175.3 C72.48,174.7 74.3,174.1 76.1,173.5 C77.9,172.9 79.72,172.15 81.5,171.7 C83.28,171.25 84.42,171.02 86.8,170.8 C89.18,170.58 92.82,170.43 95.8,170.4 C98.78,170.37 100.33,170.57 104.7,170.6 C109.07,170.63 119.12,170.6 122,170.6" fill="none" stroke="#004f00" stroke-width="0.6"/>
<path d="M0.6,149.35 C2.13,149.27 7.13,149.31 9.8,148.85 C12.47,148.39 14.48,146.4 16.6,146.6 C18.72,146.8 20.55,148.67 22.5,150.05 C24.45,151.43 26.35,153.77 28.3,154.9 C30.25,156.03 32.25,156.19 34.2,156.85 C36.15,157.51 38.05,157.71 40,158.85 C41.95,159.99 43.93,162.24 45.9,163.7 C47.87,165.16 50.02,166.14 51.8,167.6 C53.58,169.06 54.98,170.99 56.6,172.45 C58.22,173.91 60.03,176.03 61.5,176.35 C62.97,176.68 63.87,175.17 65.4,174.4 C66.93,173.62 68.92,172.67 70.7,171.7 C72.48,170.72 74.3,169.52 76.1,168.55 C77.9,167.58 79.72,166.57 81.5,165.9 C83.28,165.23 84.42,164.88 86.8,164.55 C89.18,164.22 92.82,163.99 95.8,163.9 C98.78,163.81 100.33,163.98 104.7,164 C109.07,164.02 119.12,164 122,164" fill="none" stroke="#000000" stroke-width="0.55" stroke-dasharray="7.6 4.6" opacity="0.85"/>
<path d="M0.3,154.66 C0.53,154.49 0.9,154.31 1.7,153.67 C2.5,153.04 3.97,151.51 5.1,150.83 C6.23,150.14 7.37,149.84 8.5,149.55 C9.63,149.25 10.92,149.4 11.9,149.06 C12.88,148.71 13.57,148.31 14.4,147.49 C15.23,146.67 16.27,144.9 16.9,144.15 C17.53,143.4 17.63,142.9 18.2,142.97 C18.77,143.04 19.52,144 20.3,144.54 C21.08,145.08 22.05,145.78 22.9,146.21 C23.75,146.64 24.7,146.41 25.4,147.09 C26.1,147.78 26.47,149.09 27.1,150.34 C27.73,151.58 28.48,153.3 29.2,154.56 C29.92,155.82 30.68,157.13 31.4,157.9 C32.12,158.67 32.57,158.49 33.5,159.17 C34.43,159.86 35.85,161.64 37,162.02 C38.15,162.4 39.27,161.81 40.4,161.43 C41.53,161.06 42.85,159.86 43.8,159.76 C44.75,159.66 45.25,160.11 46.1,160.84 C46.95,161.58 47.87,163.38 48.9,164.18 C49.93,164.98 51.35,164.77 52.3,165.65 C53.25,166.54 53.75,167.83 54.6,169.48 C55.45,171.14 56.45,173.63 57.4,175.57 C58.35,177.52 59.25,180.61 60.3,181.17 C61.35,181.73 62.57,179.78 63.7,178.91 C64.83,178.04 65.97,177.08 67.1,175.97 C68.23,174.85 69.37,173.79 70.5,172.23 C71.63,170.68 72.77,167.75 73.9,166.64 C75.03,165.52 76.15,165.56 77.3,165.56 C78.45,165.56 79.65,166.54 80.8,166.64 C81.95,166.74 83.07,166.42 84.2,166.15 C85.33,165.87 86.65,165.07 87.6,164.97 C88.55,164.87 89.05,164.53 89.9,165.56 C90.75,166.59 91.75,169.21 92.7,171.15 C93.65,173.1 94.75,175.66 95.6,177.24 C96.45,178.83 97.3,179.99 97.8,180.68 C98.3,181.37 98.15,181.74 98.6,181.37 C99.05,180.99 99.67,180.63 100.5,178.42 C101.33,176.21 102.58,170.56 103.6,168.11 C104.62,165.65 105.62,165 106.6,163.69 C107.58,162.38 108.8,161.32 109.5,160.25 C110.2,159.19 110.33,158.24 110.8,157.31 C111.27,156.37 111.6,154.98 112.3,154.66 C113,154.33 113.97,154.79 115,155.34 C116.03,155.9 117.42,157.23 118.5,157.99 C119.58,158.76 121,159.63 121.5,159.96" fill="none" stroke="#ff2a2a" stroke-width="0.8" stroke-linejoin="round" opacity="0.7"/>
<clipPath id="bc13"><path d="M0.6,147.2 C2.13,147.2 7.13,147.72 9.8,147.2 C12.47,146.68 14.48,144.03 16.6,144.1 C18.72,144.17 20.55,146.2 22.5,147.6 C24.45,149 26.35,151.37 28.3,152.5 C30.25,153.63 32.25,153.75 34.2,154.4 C36.15,155.05 38.05,155.25 40,156.4 C41.95,157.55 43.93,159.83 45.9,161.3 C47.87,162.77 50.02,163.75 51.8,165.2 C53.58,166.65 54.98,168.55 56.6,170 C58.22,171.45 60.03,173.62 61.5,173.9 C62.97,174.18 63.87,172.67 65.4,171.7 C66.93,170.73 68.92,169.45 70.7,168.1 C72.48,166.75 74.3,164.93 76.1,163.6 C77.9,162.27 79.72,160.98 81.5,160.1 C83.28,159.22 84.42,158.75 86.8,158.3 C89.18,157.85 89.93,157.55 95.8,157.4 C101.67,157.25 117.63,157.4 122,157.4 L122,170.6 C119.12,170.6 109.07,170.63 104.7,170.6 C100.33,170.57 98.78,170.37 95.8,170.4 C92.82,170.43 89.18,170.58 86.8,170.8 C84.42,171.02 83.28,171.25 81.5,171.7 C79.72,172.15 77.9,172.9 76.1,173.5 C74.3,174.1 72.48,174.7 70.7,175.3 C68.92,175.9 66.93,176.52 65.4,177.1 C63.87,177.68 62.97,179.17 61.5,178.8 C60.03,178.43 58.22,176.37 56.6,174.9 C54.98,173.43 53.58,171.47 51.8,170 C50.02,168.53 47.87,167.55 45.9,166.1 C43.93,164.65 41.95,162.43 40,161.3 C38.05,160.17 36.15,159.97 34.2,159.3 C32.25,158.63 30.25,158.43 28.3,157.3 C26.35,156.17 24.45,153.87 22.5,152.5 C20.55,151.13 18.72,149.43 16.6,149.1 C14.48,148.77 12.47,150.1 9.8,150.5 C7.13,150.9 2.13,151.33 0.6,151.5 Z"/></clipPath>
<path clip-path="url(#bc13)" d="M0.3,154.66 C0.53,154.49 0.9,154.31 1.7,153.67 C2.5,153.04 3.97,151.51 5.1,150.83 C6.23,150.14 7.37,149.84 8.5,149.55 C9.63,149.25 10.92,149.4 11.9,149.06 C12.88,148.71 13.57,148.31 14.4,147.49 C15.23,146.67 16.27,144.9 16.9,144.15 C17.53,143.4 17.63,142.9 18.2,142.97 C18.77,143.04 19.52,144 20.3,144.54 C21.08,145.08 22.05,145.78 22.9,146.21 C23.75,146.64 24.7,146.41 25.4,147.09 C26.1,147.78 26.47,149.09 27.1,150.34 C27.73,151.58 28.48,153.3 29.2,154.56 C29.92,155.82 30.68,157.13 31.4,157.9 C32.12,158.67 32.57,158.49 33.5,159.17 C34.43,159.86 35.85,161.64 37,162.02 C38.15,162.4 39.27,161.81 40.4,161.43 C41.53,161.06 42.85,159.86 43.8,159.76 C44.75,159.66 45.25,160.11 46.1,160.84 C46.95,161.58 47.87,163.38 48.9,164.18 C49.93,164.98 51.35,164.77 52.3,165.65 C53.25,166.54 53.75,167.83 54.6,169.48 C55.45,171.14 56.45,173.63 57.4,175.57 C58.35,177.52 59.25,180.61 60.3,181.17 C61.35,181.73 62.57,179.78 63.7,178.91 C64.83,178.04 65.97,177.08 67.1,175.97 C68.23,174.85 69.37,173.79 70.5,172.23 C71.63,170.68 72.77,167.75 73.9,166.64 C75.03,165.52 76.15,165.56 77.3,165.56 C78.45,165.56 79.65,166.54 80.8,166.64 C81.95,166.74 83.07,166.42 84.2,166.15 C85.33,165.87 86.65,165.07 87.6,164.97 C88.55,164.87 89.05,164.53 89.9,165.56 C90.75,166.59 91.75,169.21 92.7,171.15 C93.65,173.1 94.75,175.66 95.6,177.24 C96.45,178.83 97.3,179.99 97.8,180.68 C98.3,181.37 98.15,181.74 98.6,181.37 C99.05,180.99 99.67,180.63 100.5,178.42 C101.33,176.21 102.58,170.56 103.6,168.11 C104.62,165.65 105.62,165 106.6,163.69 C107.58,162.38 108.8,161.32 109.5,160.25 C110.2,159.19 110.33,158.24 110.8,157.31 C111.27,156.37 111.6,154.98 112.3,154.66 C113,154.33 113.97,154.79 115,155.34 C116.03,155.9 117.42,157.23 118.5,157.99 C119.58,158.76 121,159.63 121.5,159.96" fill="none" stroke="#ff6a00" stroke-width="0.9" stroke-linejoin="round" opacity="0.85"/>
<path d="M0.6,143 C2.1,143.15 7.42,144.13 9.6,143.9 C11.78,143.67 12.45,142.33 13.7,141.6 C14.95,140.87 16.08,139.67 17.1,139.5 C18.12,139.33 18.88,139.92 19.8,140.6 C20.72,141.28 21.33,142.75 22.6,143.6 C23.87,144.45 25.92,144.9 27.4,145.7 C28.88,146.5 30.13,147.57 31.5,148.4 C32.87,149.23 34.23,150.32 35.6,150.7 C36.97,151.08 38.57,150.28 39.7,150.7 C40.83,151.12 41.5,152.1 42.4,153.2 C43.3,154.3 44.07,156.17 45.1,157.3 C46.13,158.43 47.45,159.32 48.6,160 C49.75,160.68 50.98,160.72 52,161.4 C53.02,162.08 53.78,163.08 54.7,164.1 C55.62,165.12 56.58,166.47 57.5,167.5 C58.42,168.53 59.62,169.83 60.2,170.3 C60.78,170.77 60.18,170.6 61,170.3 C61.82,170 63.85,169.3 65.1,168.5 C66.35,167.7 67.47,166.68 68.5,165.5 C69.53,164.32 70.62,162.32 71.3,161.4 C71.98,160.48 71.82,161.48 72.6,160 C73.38,158.52 74.73,154.43 76,152.5 C77.27,150.57 78.72,149.47 80.2,148.4 C81.68,147.33 83.32,146.78 84.9,146.1 C86.48,145.42 87.98,144.75 89.7,144.3 C91.42,143.85 93.15,143.55 95.2,143.4 C97.25,143.25 99.95,143.32 102,143.4 C104.05,143.48 106.13,143.75 107.5,143.9 C108.87,144.05 107.78,144.23 110.2,144.3 C112.62,144.37 120.03,144.3 122,144.3" fill="none" stroke="#2020ff" stroke-width="0.85" stroke-linejoin="round"/>
<path d="M0.6,154.3 C1.63,154.12 4.62,153.27 6.8,153.2 C8.98,153.13 11.42,154.13 13.7,153.9 C15.98,153.67 19.02,151.97 20.5,151.8 C21.98,151.63 21.92,152.1 22.6,152.9 C23.28,153.7 23.92,155.42 24.6,156.6 C25.28,157.78 26.23,159.32 26.7,160 C27.17,160.68 26.83,160.37 27.4,160.7 C27.97,161.03 29.08,161.85 30.1,162 C31.12,162.15 32.37,161.48 33.5,161.6 C34.63,161.72 35.75,162.05 36.9,162.7 C38.05,163.35 39.25,164.82 40.4,165.5 C41.55,166.18 42.67,166.23 43.8,166.8 C44.93,167.37 46.07,167.87 47.2,168.9 C48.33,169.93 49.47,171.63 50.6,173 C51.73,174.37 52.85,175.85 54,177.1 C55.15,178.35 56.33,179.55 57.5,180.5 C58.67,181.45 59.5,182.45 61,182.8 C62.5,183.15 64.9,182.63 66.5,182.6 C68.1,182.57 69.23,182.38 70.6,182.6 C71.97,182.82 73.1,183.5 74.7,183.9 C76.3,184.3 78.6,184.82 80.2,185 C81.8,185.18 82.93,185.12 84.3,185 C85.67,184.88 82.12,184.42 88.4,184.3 C94.68,184.18 116.4,184.3 122,184.3" fill="none" stroke="#2020ff" stroke-width="0.85" stroke-linejoin="round"/>
</g>
<line x1="0.45" y1="119.45" x2="122.5" y2="119.45" stroke="#a0a0a0" stroke-width="0.9" stroke-linecap="square"/>
<line x1="0.45" y1="201.45" x2="122.5" y2="201.45" stroke="#a0a0a0" stroke-width="0.9" stroke-linecap="square"/>
<line x1="0.45" y1="119.45" x2="0.45" y2="201.45" stroke="#a0a0a0" stroke-width="0.9" stroke-linecap="square"/>
<rect x="122" y="119" width="1" height="82.5" fill="#d6d6d6"/>
</g>
<g class="t"><text x="414.2" y="114.95" font-family="Liberation Serif" font-size="10" font-style="italic" textLength="5.0" lengthAdjust="spacingAndGlyphs">&#956;</text>
<text x="419.9" y="116.05" font-family="Liberation Serif" font-size="6.6" stroke="#000" stroke-width="0.22">3</text>
<text x="427.3" y="115.65" font-family="Liberation Serif" font-size="11">(</text>
<text x="430.6" y="114.95" font-family="Liberation Serif" font-size="9.3" textLength="20.4" lengthAdjust="spacingAndGlyphs">SMC</text>
<text x="450.9" y="115.65" font-family="Liberation Serif" font-size="11">)</text>
<text x="457.9" y="114.95" font-family="Liberation Serif" font-size="9.3" stroke="#000" stroke-width="0.15">J</text>
<rect x="463" y="111.2" width="6.1" height="0.6" fill="#000"/>
<rect x="463" y="113.4" width="6.1" height="0.6" fill="#000"/>
<text x="469.8" y="114.95" font-family="Liberation Serif" font-size="9.3" stroke="#000" stroke-width="0.1" textLength="9" lengthAdjust="spacingAndGlyphs">10</text>
<text x="479.1" y="110.85" font-family="Liberation Serif" font-size="6.4" stroke="#000" stroke-width="0.2">5</text></g>
<clipPath id="c20"><rect x="1.4" y="224.45" width="121.05" height="82"/></clipPath>
<g transform="translate(0,0)">
<g clip-path="url(#c20)">
<line x1="105" y1="223.5" x2="105" y2="307.45" stroke="#ff9a9a" stroke-width="1.0" stroke-dasharray="8.3 4.15"/>
<path d="M1,250.4 C1.18,250.4 1.22,250.48 2.1,250.4 C2.98,250.32 5.08,250.07 6.3,249.9 C7.52,249.73 8.37,248.8 9.4,249.4 C10.43,250 11.47,252.28 12.5,253.5 C13.53,254.72 14.55,256.7 15.6,256.7 C16.65,256.7 17.75,254.55 18.8,253.5 C19.85,252.45 20.87,250.73 21.9,250.4 C22.93,250.07 23.97,250.1 25,251.5 C26.03,252.9 27.05,256.28 28.1,258.8 C29.15,261.32 30.33,266.27 31.3,266.6 C32.27,266.93 33.12,262.3 33.9,260.8 C34.68,259.3 35.03,258.23 36,257.6 C36.97,256.97 38.57,256.48 39.7,257 C40.83,257.52 41.77,259.05 42.8,260.7 C43.83,262.35 44.77,264.95 45.9,266.9 C47.03,268.85 48.37,271.27 49.6,272.4 C50.83,273.53 52.07,272.97 53.3,273.7 C54.53,274.43 55.75,275.57 57,276.8 C58.25,278.03 59.55,280.28 60.8,281.1 C62.05,281.92 63.27,282.02 64.5,281.7 C65.73,281.38 67.07,280.65 68.2,279.2 C69.33,277.75 70.38,274.65 71.3,273 C72.22,271.35 72.92,269.88 73.7,269.3 C74.48,268.72 75.15,269.18 76,269.5 C76.85,269.82 77.42,270.92 78.8,271.2 C80.18,271.48 82.48,271.9 84.3,271.2 C86.12,270.5 88.12,266.43 89.7,267 C91.28,267.57 92.57,272.57 93.8,274.6 C95.03,276.63 96.02,278.57 97.1,279.2 C98.18,279.83 99.25,278.92 100.3,278.4 C101.35,277.88 102.37,276.62 103.4,276.1 C104.43,275.58 105.2,276.35 106.5,275.3 C107.8,274.25 109.63,271.75 111.2,269.8 C112.77,267.85 114.17,266.12 115.9,263.6 C117.63,261.08 120.65,256.18 121.6,254.7 L121.6,259.3 C120.65,260.67 117.63,265.1 115.9,267.5 C114.17,269.9 112.77,271.75 111.2,273.7 C109.63,275.65 107.8,278.02 106.5,279.2 C105.2,280.38 104.43,280.4 103.4,280.8 C102.37,281.2 101.35,281.35 100.3,281.6 C99.25,281.85 98.18,282.78 97.1,282.3 C96.02,281.82 95.03,280.78 93.8,278.7 C92.57,276.62 91.28,270.72 89.7,269.8 C88.12,268.88 86.12,272.63 84.3,273.2 C82.48,273.77 80.18,273.32 78.8,273.2 C77.42,273.08 76.85,272.63 76,272.5 C75.15,272.37 74.48,271.68 73.7,272.4 C72.92,273.12 72.22,275.15 71.3,276.8 C70.38,278.45 69.33,281.07 68.2,282.3 C67.07,283.53 65.73,283.98 64.5,284.2 C63.27,284.42 62.05,284.33 60.8,283.6 C59.55,282.87 58.25,281.15 57,279.8 C55.75,278.45 54.53,276.42 53.3,275.5 C52.07,274.58 50.83,275.12 49.6,274.3 C48.37,273.48 47.03,272.05 45.9,270.6 C44.77,269.15 43.83,267.05 42.8,265.6 C41.77,264.15 40.83,262.62 39.7,261.9 C38.57,261.18 36.97,261.05 36,261.3 C35.03,261.55 34.68,262.08 33.9,263.4 C33.12,264.72 32.27,269.37 31.3,269.2 C30.33,269.03 29.15,264.92 28.1,262.4 C27.05,259.88 26.03,255.75 25,254.1 C23.97,252.45 22.93,252.25 21.9,252.5 C20.87,252.75 19.85,254.65 18.8,255.6 C17.75,256.55 16.65,258.2 15.6,258.2 C14.55,258.2 13.53,256.72 12.5,255.6 C11.47,254.48 10.43,252.1 9.4,251.5 C8.37,250.9 7.52,251.67 6.3,252 C5.08,252.33 2.98,253.25 2.1,253.5 C1.22,253.75 1.18,253.5 1,253.5 Z" fill="#00ff00"/>
<path d="M1,250.4 C1.18,250.4 1.22,250.48 2.1,250.4 C2.98,250.32 5.08,250.07 6.3,249.9 C7.52,249.73 8.37,248.8 9.4,249.4 C10.43,250 11.47,252.28 12.5,253.5 C13.53,254.72 14.55,256.7 15.6,256.7 C16.65,256.7 17.75,254.55 18.8,253.5 C19.85,252.45 20.87,250.73 21.9,250.4 C22.93,250.07 23.97,250.1 25,251.5 C26.03,252.9 27.05,256.28 28.1,258.8 C29.15,261.32 30.33,266.27 31.3,266.6 C32.27,266.93 33.12,262.3 33.9,260.8 C34.68,259.3 35.03,258.23 36,257.6 C36.97,256.97 38.57,256.48 39.7,257 C40.83,257.52 41.77,259.05 42.8,260.7 C43.83,262.35 44.77,264.95 45.9,266.9 C47.03,268.85 48.37,271.27 49.6,272.4 C50.83,273.53 52.07,272.97 53.3,273.7 C54.53,274.43 55.75,275.57 57,276.8 C58.25,278.03 59.55,280.28 60.8,281.1 C62.05,281.92 63.27,282.02 64.5,281.7 C65.73,281.38 67.07,280.65 68.2,279.2 C69.33,277.75 70.38,274.65 71.3,273 C72.22,271.35 72.92,269.88 73.7,269.3 C74.48,268.72 75.15,269.18 76,269.5 C76.85,269.82 77.42,270.92 78.8,271.2 C80.18,271.48 82.48,271.9 84.3,271.2 C86.12,270.5 88.12,266.43 89.7,267 C91.28,267.57 92.57,272.57 93.8,274.6 C95.03,276.63 96.02,278.57 97.1,279.2 C98.18,279.83 99.25,278.92 100.3,278.4 C101.35,277.88 102.37,276.62 103.4,276.1 C104.43,275.58 105.2,276.35 106.5,275.3 C107.8,274.25 109.63,271.75 111.2,269.8 C112.77,267.85 114.17,266.12 115.9,263.6 C117.63,261.08 120.65,256.18 121.6,254.7" fill="none" stroke="#004f00" stroke-width="0.6"/>
<path d="M1,253.5 C1.18,253.5 1.22,253.75 2.1,253.5 C2.98,253.25 5.08,252.33 6.3,252 C7.52,251.67 8.37,250.9 9.4,251.5 C10.43,252.1 11.47,254.48 12.5,255.6 C13.53,256.72 14.55,258.2 15.6,258.2 C16.65,258.2 17.75,256.55 18.8,255.6 C19.85,254.65 20.87,252.75 21.9,252.5 C22.93,252.25 23.97,252.45 25,254.1 C26.03,255.75 27.05,259.88 28.1,262.4 C29.15,264.92 30.33,269.03 31.3,269.2 C32.27,269.37 33.12,264.72 33.9,263.4 C34.68,262.08 35.03,261.55 36,261.3 C36.97,261.05 38.57,261.18 39.7,261.9 C40.83,262.62 41.77,264.15 42.8,265.6 C43.83,267.05 44.77,269.15 45.9,270.6 C47.03,272.05 48.37,273.48 49.6,274.3 C50.83,275.12 52.07,274.58 53.3,275.5 C54.53,276.42 55.75,278.45 57,279.8 C58.25,281.15 59.55,282.87 60.8,283.6 C62.05,284.33 63.27,284.42 64.5,284.2 C65.73,283.98 67.07,283.53 68.2,282.3 C69.33,281.07 70.38,278.45 71.3,276.8 C72.22,275.15 72.92,273.12 73.7,272.4 C74.48,271.68 75.15,272.37 76,272.5 C76.85,272.63 77.42,273.08 78.8,273.2 C80.18,273.32 82.48,273.77 84.3,273.2 C86.12,272.63 88.12,268.88 89.7,269.8 C91.28,270.72 92.57,276.62 93.8,278.7 C95.03,280.78 96.02,281.82 97.1,282.3 C98.18,282.78 99.25,281.85 100.3,281.6 C101.35,281.35 102.37,281.2 103.4,280.8 C104.43,280.4 105.2,280.38 106.5,279.2 C107.8,278.02 109.63,275.65 111.2,273.7 C112.77,271.75 114.17,269.9 115.9,267.5 C117.63,265.1 120.65,260.67 121.6,259.3" fill="none" stroke="#004f00" stroke-width="0.6"/>
<path d="M1,251.95 C1.18,251.95 1.22,252.12 2.1,251.95 C2.98,251.78 5.08,251.2 6.3,250.95 C7.52,250.7 8.37,249.85 9.4,250.45 C10.43,251.05 11.47,253.38 12.5,254.55 C13.53,255.72 14.55,257.45 15.6,257.45 C16.65,257.45 17.75,255.55 18.8,254.55 C19.85,253.55 20.87,251.74 21.9,251.45 C22.93,251.16 23.97,251.28 25,252.8 C26.03,254.33 27.05,258.08 28.1,260.6 C29.15,263.12 30.33,267.65 31.3,267.9 C32.27,268.15 33.12,263.51 33.9,262.1 C34.68,260.69 35.03,259.89 36,259.45 C36.97,259.01 38.57,258.83 39.7,259.45 C40.83,260.07 41.77,261.6 42.8,263.15 C43.83,264.7 44.77,267.05 45.9,268.75 C47.03,270.45 48.37,272.38 49.6,273.35 C50.83,274.33 52.07,273.78 53.3,274.6 C54.53,275.43 55.75,277.01 57,278.3 C58.25,279.59 59.55,281.58 60.8,282.35 C62.05,283.12 63.27,283.22 64.5,282.95 C65.73,282.68 67.07,282.09 68.2,280.75 C69.33,279.41 70.38,276.55 71.3,274.9 C72.22,273.25 72.92,271.5 73.7,270.85 C74.48,270.2 75.15,270.77 76,271 C76.85,271.23 77.42,272 78.8,272.2 C80.18,272.4 82.48,272.83 84.3,272.2 C86.12,271.57 88.12,267.66 89.7,268.4 C91.28,269.14 92.57,274.59 93.8,276.65 C95.03,278.71 96.02,280.19 97.1,280.75 C98.18,281.31 99.25,280.38 100.3,280 C101.35,279.62 102.37,278.91 103.4,278.45 C104.43,277.99 105.2,278.37 106.5,277.25 C107.8,276.13 109.63,273.7 111.2,271.75 C112.77,269.8 114.17,268.01 115.9,265.55 C117.63,263.09 120.65,258.43 121.6,257" fill="none" stroke="#000000" stroke-width="0.55" stroke-dasharray="7.6 4.6" opacity="0.85"/>
<path d="M0.3,259.66 C0.53,259.49 0.9,259.31 1.7,258.67 C2.5,258.04 3.97,256.51 5.1,255.83 C6.23,255.14 7.37,254.84 8.5,254.55 C9.63,254.25 10.92,254.4 11.9,254.06 C12.88,253.71 13.57,253.31 14.4,252.49 C15.23,251.67 16.27,249.9 16.9,249.15 C17.53,248.4 17.63,247.9 18.2,247.97 C18.77,248.04 19.52,249 20.3,249.54 C21.08,250.08 22.05,250.78 22.9,251.21 C23.75,251.64 24.7,251.41 25.4,252.09 C26.1,252.78 26.47,254.09 27.1,255.34 C27.73,256.58 28.48,258.3 29.2,259.56 C29.92,260.82 30.68,262.13 31.4,262.9 C32.12,263.67 32.57,263.49 33.5,264.17 C34.43,264.86 35.85,266.64 37,267.02 C38.15,267.4 39.27,266.81 40.4,266.43 C41.53,266.06 42.85,264.86 43.8,264.76 C44.75,264.66 45.25,265.11 46.1,265.84 C46.95,266.58 47.87,268.38 48.9,269.18 C49.93,269.98 51.35,269.77 52.3,270.65 C53.25,271.54 53.75,272.83 54.6,274.48 C55.45,276.14 56.45,278.63 57.4,280.57 C58.35,282.52 59.25,285.61 60.3,286.17 C61.35,286.73 62.57,284.78 63.7,283.91 C64.83,283.04 65.97,282.08 67.1,280.97 C68.23,279.85 69.37,278.79 70.5,277.23 C71.63,275.68 72.77,272.75 73.9,271.64 C75.03,270.52 76.15,270.56 77.3,270.56 C78.45,270.56 79.65,271.54 80.8,271.64 C81.95,271.74 83.07,271.42 84.2,271.15 C85.33,270.87 86.65,270.07 87.6,269.97 C88.55,269.87 89.05,269.53 89.9,270.56 C90.75,271.59 91.75,274.21 92.7,276.15 C93.65,278.1 94.75,280.66 95.6,282.24 C96.45,283.83 97.3,284.99 97.8,285.68 C98.3,286.37 98.15,286.74 98.6,286.37 C99.05,285.99 99.67,285.63 100.5,283.42 C101.33,281.21 102.58,275.56 103.6,273.11 C104.62,270.65 105.62,270 106.6,268.69 C107.58,267.38 108.8,266.32 109.5,265.25 C110.2,264.19 110.33,263.24 110.8,262.31 C111.27,261.37 111.6,259.98 112.3,259.66 C113,259.33 113.97,259.79 115,260.34 C116.03,260.9 117.42,262.23 118.5,262.99 C119.58,263.76 121,264.63 121.5,264.96" fill="none" stroke="#ff2a2a" stroke-width="0.8" stroke-linejoin="round" opacity="0.7"/>
<clipPath id="bc20"><path d="M1,250.4 C1.18,250.4 1.22,250.48 2.1,250.4 C2.98,250.32 5.08,250.07 6.3,249.9 C7.52,249.73 8.37,248.8 9.4,249.4 C10.43,250 11.47,252.28 12.5,253.5 C13.53,254.72 14.55,256.7 15.6,256.7 C16.65,256.7 17.75,254.55 18.8,253.5 C19.85,252.45 20.87,250.73 21.9,250.4 C22.93,250.07 23.97,250.1 25,251.5 C26.03,252.9 27.05,256.28 28.1,258.8 C29.15,261.32 30.33,266.27 31.3,266.6 C32.27,266.93 33.12,262.3 33.9,260.8 C34.68,259.3 35.03,258.23 36,257.6 C36.97,256.97 38.57,256.48 39.7,257 C40.83,257.52 41.77,259.05 42.8,260.7 C43.83,262.35 44.77,264.95 45.9,266.9 C47.03,268.85 48.37,271.27 49.6,272.4 C50.83,273.53 52.07,272.97 53.3,273.7 C54.53,274.43 55.75,275.57 57,276.8 C58.25,278.03 59.55,280.28 60.8,281.1 C62.05,281.92 63.27,282.02 64.5,281.7 C65.73,281.38 67.07,280.65 68.2,279.2 C69.33,277.75 70.38,274.65 71.3,273 C72.22,271.35 72.92,269.88 73.7,269.3 C74.48,268.72 75.15,269.18 76,269.5 C76.85,269.82 77.42,270.92 78.8,271.2 C80.18,271.48 82.48,271.9 84.3,271.2 C86.12,270.5 88.12,266.43 89.7,267 C91.28,267.57 92.57,272.57 93.8,274.6 C95.03,276.63 96.02,278.57 97.1,279.2 C98.18,279.83 99.25,278.92 100.3,278.4 C101.35,277.88 102.37,276.62 103.4,276.1 C104.43,275.58 105.2,276.35 106.5,275.3 C107.8,274.25 109.63,271.75 111.2,269.8 C112.77,267.85 114.17,266.12 115.9,263.6 C117.63,261.08 120.65,256.18 121.6,254.7 L121.6,259.3 C120.65,260.67 117.63,265.1 115.9,267.5 C114.17,269.9 112.77,271.75 111.2,273.7 C109.63,275.65 107.8,278.02 106.5,279.2 C105.2,280.38 104.43,280.4 103.4,280.8 C102.37,281.2 101.35,281.35 100.3,281.6 C99.25,281.85 98.18,282.78 97.1,282.3 C96.02,281.82 95.03,280.78 93.8,278.7 C92.57,276.62 91.28,270.72 89.7,269.8 C88.12,268.88 86.12,272.63 84.3,273.2 C82.48,273.77 80.18,273.32 78.8,273.2 C77.42,273.08 76.85,272.63 76,272.5 C75.15,272.37 74.48,271.68 73.7,272.4 C72.92,273.12 72.22,275.15 71.3,276.8 C70.38,278.45 69.33,281.07 68.2,282.3 C67.07,283.53 65.73,283.98 64.5,284.2 C63.27,284.42 62.05,284.33 60.8,283.6 C59.55,282.87 58.25,281.15 57,279.8 C55.75,278.45 54.53,276.42 53.3,275.5 C52.07,274.58 50.83,275.12 49.6,274.3 C48.37,273.48 47.03,272.05 45.9,270.6 C44.77,269.15 43.83,267.05 42.8,265.6 C41.77,264.15 40.83,262.62 39.7,261.9 C38.57,261.18 36.97,261.05 36,261.3 C35.03,261.55 34.68,262.08 33.9,263.4 C33.12,264.72 32.27,269.37 31.3,269.2 C30.33,269.03 29.15,264.92 28.1,262.4 C27.05,259.88 26.03,255.75 25,254.1 C23.97,252.45 22.93,252.25 21.9,252.5 C20.87,252.75 19.85,254.65 18.8,255.6 C17.75,256.55 16.65,258.2 15.6,258.2 C14.55,258.2 13.53,256.72 12.5,255.6 C11.47,254.48 10.43,252.1 9.4,251.5 C8.37,250.9 7.52,251.67 6.3,252 C5.08,252.33 2.98,253.25 2.1,253.5 C1.22,253.75 1.18,253.5 1,253.5 Z"/></clipPath>
<path clip-path="url(#bc20)" d="M0.3,259.66 C0.53,259.49 0.9,259.31 1.7,258.67 C2.5,258.04 3.97,256.51 5.1,255.83 C6.23,255.14 7.37,254.84 8.5,254.55 C9.63,254.25 10.92,254.4 11.9,254.06 C12.88,253.71 13.57,253.31 14.4,252.49 C15.23,251.67 16.27,249.9 16.9,249.15 C17.53,248.4 17.63,247.9 18.2,247.97 C18.77,248.04 19.52,249 20.3,249.54 C21.08,250.08 22.05,250.78 22.9,251.21 C23.75,251.64 24.7,251.41 25.4,252.09 C26.1,252.78 26.47,254.09 27.1,255.34 C27.73,256.58 28.48,258.3 29.2,259.56 C29.92,260.82 30.68,262.13 31.4,262.9 C32.12,263.67 32.57,263.49 33.5,264.17 C34.43,264.86 35.85,266.64 37,267.02 C38.15,267.4 39.27,266.81 40.4,266.43 C41.53,266.06 42.85,264.86 43.8,264.76 C44.75,264.66 45.25,265.11 46.1,265.84 C46.95,266.58 47.87,268.38 48.9,269.18 C49.93,269.98 51.35,269.77 52.3,270.65 C53.25,271.54 53.75,272.83 54.6,274.48 C55.45,276.14 56.45,278.63 57.4,280.57 C58.35,282.52 59.25,285.61 60.3,286.17 C61.35,286.73 62.57,284.78 63.7,283.91 C64.83,283.04 65.97,282.08 67.1,280.97 C68.23,279.85 69.37,278.79 70.5,277.23 C71.63,275.68 72.77,272.75 73.9,271.64 C75.03,270.52 76.15,270.56 77.3,270.56 C78.45,270.56 79.65,271.54 80.8,271.64 C81.95,271.74 83.07,271.42 84.2,271.15 C85.33,270.87 86.65,270.07 87.6,269.97 C88.55,269.87 89.05,269.53 89.9,270.56 C90.75,271.59 91.75,274.21 92.7,276.15 C93.65,278.1 94.75,280.66 95.6,282.24 C96.45,283.83 97.3,284.99 97.8,285.68 C98.3,286.37 98.15,286.74 98.6,286.37 C99.05,285.99 99.67,285.63 100.5,283.42 C101.33,281.21 102.58,275.56 103.6,273.11 C104.62,270.65 105.62,270 106.6,268.69 C107.58,267.38 108.8,266.32 109.5,265.25 C110.2,264.19 110.33,263.24 110.8,262.31 C111.27,261.37 111.6,259.98 112.3,259.66 C113,259.33 113.97,259.79 115,260.34 C116.03,260.9 117.42,262.23 118.5,262.99 C119.58,263.76 121,264.63 121.5,264.96" fill="none" stroke="#ff6a00" stroke-width="0.9" stroke-linejoin="round" opacity="0.85"/>
<path d="M1,249.5 C1.18,249.4 1.4,249.23 2.1,248.9 C2.8,248.57 4.25,247.6 5.2,247.5 C6.15,247.4 7.02,248.3 7.8,248.3 C8.58,248.3 9.28,247.15 9.9,247.5 C10.52,247.85 10.9,249.4 11.5,250.4 C12.1,251.4 12.82,252.8 13.5,253.5 C14.18,254.2 14.82,254.85 15.6,254.6 C16.38,254.35 17.42,252.95 18.2,252 C18.98,251.05 19.6,249.82 20.3,248.9 C21,247.98 21.7,246.5 22.4,246.5 C23.1,246.5 23.8,247.55 24.5,248.9 C25.2,250.25 25.92,252.62 26.6,254.6 C27.28,256.58 27.92,258.72 28.6,260.8 C29.28,262.88 30.17,265.88 30.7,267.1 C31.23,268.32 31.37,268.88 31.8,268.1 C32.23,267.32 32.7,264.22 33.3,262.4 C33.9,260.58 34.95,258.1 35.4,257.2 C35.85,256.3 35.48,257.45 36,257 C36.52,256.55 37.67,254.4 38.5,254.5 C39.33,254.6 40.18,256.27 41,257.6 C41.82,258.93 42.58,260.95 43.4,262.5 C44.22,264.05 45.07,265.55 45.9,266.9 C46.73,268.25 47.57,269.88 48.4,270.6 C49.23,271.32 50.08,271 50.9,271.2 C51.72,271.4 52.48,271.18 53.3,271.8 C54.12,272.42 54.87,273.87 55.8,274.9 C56.73,275.93 57.87,277.28 58.9,278 C59.93,278.72 60.97,279.03 62,279.2 C63.03,279.37 64.07,279.3 65.1,279 C66.13,278.7 67.27,278.5 68.2,277.4 C69.13,276.3 69.88,274.27 70.7,272.4 C71.52,270.53 72.22,267.53 73.1,266.2 C73.98,264.87 75.18,264.37 76,264.4 C76.82,264.43 76.85,265.85 78,266.4 C79.15,266.95 81.63,267.7 82.9,267.7 C84.17,267.7 84.35,266.85 85.6,266.4 C86.85,265.95 89.25,264.55 90.4,265 C91.55,265.45 91.7,267.28 92.5,269.1 C93.3,270.92 94.28,274.42 95.2,275.9 C96.12,277.38 97.08,278 98,278 C98.92,278 99.8,276.47 100.7,275.9 C101.6,275.33 102.5,275.28 103.4,274.6 C104.3,273.92 105.18,272.95 106.1,271.8 C107.02,270.65 107.98,268.83 108.9,267.7 C109.82,266.57 110.47,266.58 111.6,265 C112.73,263.42 114.03,260.7 115.7,258.2 C117.37,255.7 120.62,251.37 121.6,250" fill="none" stroke="#2020ff" stroke-width="0.85" stroke-linejoin="round"/>
<path d="M1,256 C1.18,255.93 1.4,255.83 2.1,255.6 C2.8,255.37 4.17,254.98 5.2,254.6 C6.23,254.22 7.43,253.3 8.3,253.3 C9.17,253.3 9.7,254.03 10.4,254.6 C11.1,255.17 11.8,256 12.5,256.7 C13.2,257.4 13.9,258.37 14.6,258.8 C15.3,259.23 16,259.57 16.7,259.3 C17.4,259.03 18.12,257.98 18.8,257.2 C19.48,256.42 20.12,255.38 20.8,254.6 C21.48,253.82 22.2,252.5 22.9,252.5 C23.6,252.5 24.3,253.38 25,254.6 C25.7,255.82 26.4,258.07 27.1,259.8 C27.8,261.53 28.5,263.35 29.2,265 C29.9,266.65 30.7,269.35 31.3,269.7 C31.9,270.05 32.2,268.32 32.8,267.1 C33.4,265.88 34.37,263.37 34.9,262.4 C35.43,261.43 35.2,260.97 36,261.3 C36.8,261.63 38.47,263.37 39.7,264.4 C40.93,265.43 42.17,266.27 43.4,267.5 C44.63,268.73 46.07,270.67 47.1,271.8 C48.13,272.93 48.77,273.58 49.6,274.3 C50.43,275.02 51.27,275.58 52.1,276.1 C52.93,276.62 53.67,276.47 54.6,277.4 C55.53,278.33 56.67,280.47 57.7,281.7 C58.73,282.93 59.67,284.18 60.8,284.8 C61.93,285.42 63.37,285.4 64.5,285.4 C65.63,285.4 66.57,285.42 67.6,284.8 C68.63,284.18 69.78,282.93 70.7,281.7 C71.62,280.47 72.22,278.33 73.1,277.4 C73.98,276.47 75.05,276.45 76,276.1 C76.95,275.75 77.65,275.33 78.8,275.3 C79.95,275.27 81.53,275.9 82.9,275.9 C84.27,275.9 85.75,275.52 87,275.3 C88.25,275.08 89.27,273.82 90.4,274.6 C91.53,275.38 92.65,278.18 93.8,280 C94.95,281.82 96.15,284.7 97.3,285.5 C98.45,286.3 99.42,285.2 100.7,284.8 C101.98,284.4 103.63,284.03 105,283.1 C106.37,282.17 107.47,280.88 108.9,279.2 C110.33,277.52 112.03,274.95 113.6,273 C115.17,271.05 116.97,268.93 118.3,267.5 C119.63,266.07 121.05,264.92 121.6,264.4" fill="none" stroke="#2020ff" stroke-width="0.85" stroke-linejoin="round"/>
</g>
<line x1="1.4" y1="224.45" x2="122.45" y2="224.45" stroke="#a0a0a0" stroke-width="0.9" stroke-linecap="square"/>
<rect x="0.9" y="306" width="122.05" height="1" fill="#d4d4d4"/>
<rect x="0" y="224.45" width="1" height="82" fill="#ececec"/>
<rect x="1" y="224.45" width="1" height="82" fill="#dcdcdc"/>
<line x1="122.45" y1="224.45" x2="122.45" y2="306.45" stroke="#a0a0a0" stroke-width="0.9" stroke-linecap="square"/>
</g>
<g class="t"><text x="29" y="219.95" font-family="Liberation Serif" font-size="10" font-style="italic" textLength="5.0" lengthAdjust="spacingAndGlyphs">&#956;</text>
<text x="34.7" y="221.05" font-family="Liberation Serif" font-size="6.6" stroke="#000" stroke-width="0.22">5</text>
<text x="42.1" y="220.65" font-family="Liberation Serif" font-size="11">(</text>
<text x="45.4" y="219.95" font-family="Liberation Serif" font-size="9.3" textLength="20.4" lengthAdjust="spacingAndGlyphs">SMC</text>
<text x="65.7" y="220.65" font-family="Liberation Serif" font-size="11">)</text>
<text x="72.7" y="219.95" font-family="Liberation Serif" font-size="9.3" stroke="#000" stroke-width="0.15">J</text>
<rect x="77.8" y="216.2" width="6.1" height="0.6" fill="#000"/>
<rect x="77.8" y="218.4" width="6.1" height="0.6" fill="#000"/>
<text x="84.6" y="219.95" font-family="Liberation Serif" font-size="9.3" stroke="#000" stroke-width="0.1" textLength="9" lengthAdjust="spacingAndGlyphs">50</text></g>
<clipPath id="c21"><rect x="0.45" y="224.45" width="122" height="82"/></clipPath>
<g transform="translate(129,0)">
<g clip-path="url(#c21)">
<line x1="105" y1="223.5" x2="105" y2="307.45" stroke="#ff9a9a" stroke-width="1.0" stroke-dasharray="8.3 4.15"/>
<path d="M0.6,252 C1.67,251.78 4.75,250.98 7,250.7 C9.25,250.42 12.03,250.42 14.1,250.3 C16.17,250.18 17.78,249.85 19.4,250 C21.02,250.15 22.33,250.27 23.8,251.2 C25.27,252.13 26.58,254.13 28.2,255.6 C29.82,257.07 31.75,259.12 33.5,260 C35.25,260.88 37.1,261.05 38.7,260.9 C40.3,260.75 41.77,258.08 43.1,259.1 C44.43,260.12 45.37,264.93 46.7,267 C48.03,269.07 49.5,269.73 51.1,271.5 C52.7,273.27 54.7,276 56.3,277.6 C57.9,279.2 59.58,280.62 60.7,281.1 C61.82,281.58 61.82,281.35 63,280.5 C64.18,279.65 65.85,277.67 67.8,276 C69.75,274.33 72.53,272 74.7,270.5 C76.87,269 78.98,267 80.8,267 C82.62,267 84,269.47 85.6,270.5 C87.2,271.53 88.8,271.95 90.4,273.2 C92,274.45 93.48,277.53 95.2,278 C96.92,278.47 99.32,276.82 100.7,276 C102.08,275.18 102.43,274.02 103.5,273.1 C104.57,272.18 105.92,271.67 107.1,270.5 C108.28,269.33 109.43,267.42 110.6,266.1 C111.77,264.78 112.93,262.75 114.1,262.6 C115.27,262.45 116.35,264.47 117.6,265.2 C118.85,265.93 120.93,266.7 121.6,267 L121.6,274 C120.93,274.15 118.85,274.6 117.6,274.9 C116.35,275.2 115.27,275.37 114.1,275.8 C112.93,276.23 111.77,276.92 110.6,277.5 C109.43,278.08 108.28,278.85 107.1,279.3 C105.92,279.75 104.57,280.08 103.5,280.2 C102.43,280.32 102.08,279.8 100.7,280 C99.32,280.2 96.92,281.62 95.2,281.4 C93.48,281.18 92,279.95 90.4,278.7 C88.8,277.45 87.2,275.05 85.6,273.9 C84,272.75 82.62,271.92 80.8,271.8 C78.98,271.68 76.87,271.83 74.7,273.2 C72.53,274.57 69.75,278.17 67.8,280 C65.85,281.83 64.18,283.42 63,284.2 C61.82,284.98 61.82,285.07 60.7,284.7 C59.58,284.33 57.9,283.47 56.3,282 C54.7,280.53 52.7,277.8 51.1,275.9 C49.5,274 48.03,272.37 46.7,270.6 C45.37,268.83 44.43,266.03 43.1,265.3 C41.77,264.57 40.3,266.35 38.7,266.2 C37.1,266.05 35.25,265.43 33.5,264.4 C31.75,263.37 29.82,261.62 28.2,260 C26.58,258.38 25.27,255.78 23.8,254.7 C22.33,253.62 21.02,253.58 19.4,253.5 C17.78,253.42 16.17,254 14.1,254.2 C12.03,254.4 9.25,254.07 7,254.7 C4.75,255.33 1.67,257.45 0.6,258 Z" fill="#00ff00"/>
<path d="M0.6,252 C1.67,251.78 4.75,250.98 7,250.7 C9.25,250.42 12.03,250.42 14.1,250.3 C16.17,250.18 17.78,249.85 19.4,250 C21.02,250.15 22.33,250.27 23.8,251.2 C25.27,252.13 26.58,254.13 28.2,255.6 C29.82,257.07 31.75,259.12 33.5,260 C35.25,260.88 37.1,261.05 38.7,260.9 C40.3,260.75 41.77,258.08 43.1,259.1 C44.43,260.12 45.37,264.93 46.7,267 C48.03,269.07 49.5,269.73 51.1,271.5 C52.7,273.27 54.7,276 56.3,277.6 C57.9,279.2 59.58,280.62 60.7,281.1 C61.82,281.58 61.82,281.35 63,280.5 C64.18,279.65 65.85,277.67 67.8,276 C69.75,274.33 72.53,272 74.7,270.5 C76.87,269 78.98,267 80.8,267 C82.62,267 84,269.47 85.6,270.5 C87.2,271.53 88.8,271.95 90.4,273.2 C92,274.45 93.48,277.53 95.2,278 C96.92,278.47 99.32,276.82 100.7,276 C102.08,275.18 102.43,274.02 103.5,273.1 C104.57,272.18 105.92,271.67 107.1,270.5 C108.28,269.33 109.43,267.42 110.6,266.1 C111.77,264.78 112.93,262.75 114.1,262.6 C115.27,262.45 116.35,264.47 117.6,265.2 C118.85,265.93 120.93,266.7 121.6,267" fill="none" stroke="#004f00" stroke-width="0.6"/>
<path d="M0.6,258 C1.67,257.45 4.75,255.33 7,254.7 C9.25,254.07 12.03,254.4 14.1,254.2 C16.17,254 17.78,253.42 19.4,253.5 C21.02,253.58 22.33,253.62 23.8,254.7 C25.27,255.78 26.58,258.38 28.2,260 C29.82,261.62 31.75,263.37 33.5,264.4 C35.25,265.43 37.1,266.05 38.7,266.2 C40.3,266.35 41.77,264.57 43.1,265.3 C44.43,266.03 45.37,268.83 46.7,270.6 C48.03,272.37 49.5,274 51.1,275.9 C52.7,277.8 54.7,280.53 56.3,282 C57.9,283.47 59.58,284.33 60.7,284.7 C61.82,285.07 61.82,284.98 63,284.2 C64.18,283.42 65.85,281.83 67.8,280 C69.75,278.17 72.53,274.57 74.7,273.2 C76.87,271.83 78.98,271.68 80.8,271.8 C82.62,271.92 84,272.75 85.6,273.9 C87.2,275.05 88.8,277.45 90.4,278.7 C92,279.95 93.48,281.18 95.2,281.4 C96.92,281.62 99.32,280.2 100.7,280 C102.08,279.8 102.43,280.32 103.5,280.2 C104.57,280.08 105.92,279.75 107.1,279.3 C108.28,278.85 109.43,278.08 110.6,277.5 C111.77,276.92 112.93,276.23 114.1,275.8 C115.27,275.37 116.35,275.2 117.6,274.9 C118.85,274.6 120.93,274.15 121.6,274" fill="none" stroke="#004f00" stroke-width="0.6"/>
<path d="M0.6,255 C1.67,254.62 4.75,253.16 7,252.7 C9.25,252.24 12.03,252.41 14.1,252.25 C16.17,252.09 17.78,251.63 19.4,251.75 C21.02,251.87 22.33,251.94 23.8,252.95 C25.27,253.96 26.58,256.26 28.2,257.8 C29.82,259.34 31.75,261.24 33.5,262.2 C35.25,263.16 37.1,263.55 38.7,263.55 C40.3,263.55 41.77,261.33 43.1,262.2 C44.43,263.08 45.37,266.88 46.7,268.8 C48.03,270.72 49.5,271.87 51.1,273.7 C52.7,275.53 54.7,278.27 56.3,279.8 C57.9,281.33 59.58,282.47 60.7,282.9 C61.82,283.32 61.82,283.17 63,282.35 C64.18,281.53 65.85,279.75 67.8,278 C69.75,276.25 72.53,273.28 74.7,271.85 C76.87,270.42 78.98,269.34 80.8,269.4 C82.62,269.46 84,271.11 85.6,272.2 C87.2,273.29 88.8,274.7 90.4,275.95 C92,277.2 93.48,279.36 95.2,279.7 C96.92,280.04 99.32,278.51 100.7,278 C102.08,277.49 102.43,277.17 103.5,276.65 C104.57,276.13 105.92,275.71 107.1,274.9 C108.28,274.09 109.43,272.75 110.6,271.8 C111.77,270.85 112.93,269.49 114.1,269.2 C115.27,268.91 116.35,269.83 117.6,270.05 C118.85,270.27 120.93,270.43 121.6,270.5" fill="none" stroke="#000000" stroke-width="0.55" stroke-dasharray="7.6 4.6" opacity="0.85"/>
<path d="M0.3,259.66 C0.53,259.49 0.9,259.31 1.7,258.67 C2.5,258.04 3.97,256.51 5.1,255.83 C6.23,255.14 7.37,254.84 8.5,254.55 C9.63,254.25 10.92,254.4 11.9,254.06 C12.88,253.71 13.57,253.31 14.4,252.49 C15.23,251.67 16.27,249.9 16.9,249.15 C17.53,248.4 17.63,247.9 18.2,247.97 C18.77,248.04 19.52,249 20.3,249.54 C21.08,250.08 22.05,250.78 22.9,251.21 C23.75,251.64 24.7,251.41 25.4,252.09 C26.1,252.78 26.47,254.09 27.1,255.34 C27.73,256.58 28.48,258.3 29.2,259.56 C29.92,260.82 30.68,262.13 31.4,262.9 C32.12,263.67 32.57,263.49 33.5,264.17 C34.43,264.86 35.85,266.64 37,267.02 C38.15,267.4 39.27,266.81 40.4,266.43 C41.53,266.06 42.85,264.86 43.8,264.76 C44.75,264.66 45.25,265.11 46.1,265.84 C46.95,266.58 47.87,268.38 48.9,269.18 C49.93,269.98 51.35,269.77 52.3,270.65 C53.25,271.54 53.75,272.83 54.6,274.48 C55.45,276.14 56.45,278.63 57.4,280.57 C58.35,282.52 59.25,285.61 60.3,286.17 C61.35,286.73 62.57,284.78 63.7,283.91 C64.83,283.04 65.97,282.08 67.1,280.97 C68.23,279.85 69.37,278.79 70.5,277.23 C71.63,275.68 72.77,272.75 73.9,271.64 C75.03,270.52 76.15,270.56 77.3,270.56 C78.45,270.56 79.65,271.54 80.8,271.64 C81.95,271.74 83.07,271.42 84.2,271.15 C85.33,270.87 86.65,270.07 87.6,269.97 C88.55,269.87 89.05,269.53 89.9,270.56 C90.75,271.59 91.75,274.21 92.7,276.15 C93.65,278.1 94.75,280.66 95.6,282.24 C96.45,283.83 97.3,284.99 97.8,285.68 C98.3,286.37 98.15,286.74 98.6,286.37 C99.05,285.99 99.67,285.63 100.5,283.42 C101.33,281.21 102.58,275.56 103.6,273.11 C104.62,270.65 105.62,270 106.6,268.69 C107.58,267.38 108.8,266.32 109.5,265.25 C110.2,264.19 110.33,263.24 110.8,262.31 C111.27,261.37 111.6,259.98 112.3,259.66 C113,259.33 113.97,259.79 115,260.34 C116.03,260.9 117.42,262.23 118.5,262.99 C119.58,263.76 121,264.63 121.5,264.96" fill="none" stroke="#ff2a2a" stroke-width="0.8" stroke-linejoin="round" opacity="0.7"/>
<clipPath id="bc21"><path d="M0.6,252 C1.67,251.78 4.75,250.98 7,250.7 C9.25,250.42 12.03,250.42 14.1,250.3 C16.17,250.18 17.78,249.85 19.4,250 C21.02,250.15 22.33,250.27 23.8,251.2 C25.27,252.13 26.58,254.13 28.2,255.6 C29.82,257.07 31.75,259.12 33.5,260 C35.25,260.88 37.1,261.05 38.7,260.9 C40.3,260.75 41.77,258.08 43.1,259.1 C44.43,260.12 45.37,264.93 46.7,267 C48.03,269.07 49.5,269.73 51.1,271.5 C52.7,273.27 54.7,276 56.3,277.6 C57.9,279.2 59.58,280.62 60.7,281.1 C61.82,281.58 61.82,281.35 63,280.5 C64.18,279.65 65.85,277.67 67.8,276 C69.75,274.33 72.53,272 74.7,270.5 C76.87,269 78.98,267 80.8,267 C82.62,267 84,269.47 85.6,270.5 C87.2,271.53 88.8,271.95 90.4,273.2 C92,274.45 93.48,277.53 95.2,278 C96.92,278.47 99.32,276.82 100.7,276 C102.08,275.18 102.43,274.02 103.5,273.1 C104.57,272.18 105.92,271.67 107.1,270.5 C108.28,269.33 109.43,267.42 110.6,266.1 C111.77,264.78 112.93,262.75 114.1,262.6 C115.27,262.45 116.35,264.47 117.6,265.2 C118.85,265.93 120.93,266.7 121.6,267 L121.6,274 C120.93,274.15 118.85,274.6 117.6,274.9 C116.35,275.2 115.27,275.37 114.1,275.8 C112.93,276.23 111.77,276.92 110.6,277.5 C109.43,278.08 108.28,278.85 107.1,279.3 C105.92,279.75 104.57,280.08 103.5,280.2 C102.43,280.32 102.08,279.8 100.7,280 C99.32,280.2 96.92,281.62 95.2,281.4 C93.48,281.18 92,279.95 90.4,278.7 C88.8,277.45 87.2,275.05 85.6,273.9 C84,272.75 82.62,271.92 80.8,271.8 C78.98,271.68 76.87,271.83 74.7,273.2 C72.53,274.57 69.75,278.17 67.8,280 C65.85,281.83 64.18,283.42 63,284.2 C61.82,284.98 61.82,285.07 60.7,284.7 C59.58,284.33 57.9,283.47 56.3,282 C54.7,280.53 52.7,277.8 51.1,275.9 C49.5,274 48.03,272.37 46.7,270.6 C45.37,268.83 44.43,266.03 43.1,265.3 C41.77,264.57 40.3,266.35 38.7,266.2 C37.1,266.05 35.25,265.43 33.5,264.4 C31.75,263.37 29.82,261.62 28.2,260 C26.58,258.38 25.27,255.78 23.8,254.7 C22.33,253.62 21.02,253.58 19.4,253.5 C17.78,253.42 16.17,254 14.1,254.2 C12.03,254.4 9.25,254.07 7,254.7 C4.75,255.33 1.67,257.45 0.6,258 Z"/></clipPath>
<path clip-path="url(#bc21)" d="M0.3,259.66 C0.53,259.49 0.9,259.31 1.7,258.67 C2.5,258.04 3.97,256.51 5.1,255.83 C6.23,255.14 7.37,254.84 8.5,254.55 C9.63,254.25 10.92,254.4 11.9,254.06 C12.88,253.71 13.57,253.31 14.4,252.49 C15.23,251.67 16.27,249.9 16.9,249.15 C17.53,248.4 17.63,247.9 18.2,247.97 C18.77,248.04 19.52,249 20.3,249.54 C21.08,250.08 22.05,250.78 22.9,251.21 C23.75,251.64 24.7,251.41 25.4,252.09 C26.1,252.78 26.47,254.09 27.1,255.34 C27.73,256.58 28.48,258.3 29.2,259.56 C29.92,260.82 30.68,262.13 31.4,262.9 C32.12,263.67 32.57,263.49 33.5,264.17 C34.43,264.86 35.85,266.64 37,267.02 C38.15,267.4 39.27,266.81 40.4,266.43 C41.53,266.06 42.85,264.86 43.8,264.76 C44.75,264.66 45.25,265.11 46.1,265.84 C46.95,266.58 47.87,268.38 48.9,269.18 C49.93,269.98 51.35,269.77 52.3,270.65 C53.25,271.54 53.75,272.83 54.6,274.48 C55.45,276.14 56.45,278.63 57.4,280.57 C58.35,282.52 59.25,285.61 60.3,286.17 C61.35,286.73 62.57,284.78 63.7,283.91 C64.83,283.04 65.97,282.08 67.1,280.97 C68.23,279.85 69.37,278.79 70.5,277.23 C71.63,275.68 72.77,272.75 73.9,271.64 C75.03,270.52 76.15,270.56 77.3,270.56 C78.45,270.56 79.65,271.54 80.8,271.64 C81.95,271.74 83.07,271.42 84.2,271.15 C85.33,270.87 86.65,270.07 87.6,269.97 C88.55,269.87 89.05,269.53 89.9,270.56 C90.75,271.59 91.75,274.21 92.7,276.15 C93.65,278.1 94.75,280.66 95.6,282.24 C96.45,283.83 97.3,284.99 97.8,285.68 C98.3,286.37 98.15,286.74 98.6,286.37 C99.05,285.99 99.67,285.63 100.5,283.42 C101.33,281.21 102.58,275.56 103.6,273.11 C104.62,270.65 105.62,270 106.6,268.69 C107.58,267.38 108.8,266.32 109.5,265.25 C110.2,264.19 110.33,263.24 110.8,262.31 C111.27,261.37 111.6,259.98 112.3,259.66 C113,259.33 113.97,259.79 115,260.34 C116.03,260.9 117.42,262.23 118.5,262.99 C119.58,263.76 121,264.63 121.5,264.96" fill="none" stroke="#ff6a00" stroke-width="0.9" stroke-linejoin="round" opacity="0.85"/>
<path d="M0.6,248.6 C1.42,248.42 4.23,247.45 5.5,247.5 C6.77,247.55 7.07,248.75 8.2,248.9 C9.33,249.05 10.82,248.67 12.3,248.4 C13.78,248.13 15.73,247.3 17.1,247.3 C18.47,247.3 19.25,248.22 20.5,248.4 C21.75,248.58 23.45,247.9 24.6,248.4 C25.75,248.9 26.37,250.22 27.4,251.4 C28.43,252.58 29.55,254.55 30.8,255.5 C32.05,256.45 33.53,256.92 34.9,257.1 C36.27,257.28 37.75,256.77 39,256.6 C40.25,256.43 41.38,255.6 42.4,256.1 C43.42,256.6 44.3,258.12 45.1,259.6 C45.9,261.08 46.52,263.98 47.2,265 C47.88,266.02 48.52,265.58 49.2,265.7 C49.88,265.82 50.5,265.02 51.3,265.7 C52.1,266.38 53.08,268.32 54,269.8 C54.92,271.28 55.88,273.12 56.8,274.6 C57.72,276.08 58.8,277.9 59.5,278.7 C60.2,279.5 60.07,279.68 61,279.4 C61.93,279.12 63.85,277.92 65.1,277 C66.35,276.08 67.47,275.1 68.5,273.9 C69.53,272.7 70.38,271.17 71.3,269.8 C72.22,268.43 72.98,266.83 74,265.7 C75.02,264.57 76.37,263.57 77.4,263 C78.43,262.43 79.28,262.23 80.2,262.3 C81.12,262.37 82,262.87 82.9,263.4 C83.8,263.93 84.68,264.97 85.6,265.5 C86.52,266.03 87.25,266 88.4,266.6 C89.55,267.2 91.25,267.88 92.5,269.1 C93.75,270.32 94.88,273.22 95.9,273.9 C96.92,274.58 97.58,273.77 98.6,273.2 C99.62,272.63 100.97,271.75 102,270.5 C103.03,269.25 103.77,267.4 104.8,265.7 C105.83,264 107.18,262.35 108.2,260.3 C109.22,258.25 109.98,255.68 110.9,253.4 C111.82,251.12 112.78,248.13 113.7,246.6 C114.62,245.07 115.5,244.55 116.4,244.2 C117.3,243.85 118.23,243.98 119.1,244.5 C119.97,245.02 121.18,246.83 121.6,247.3" fill="none" stroke="#2020ff" stroke-width="0.85" stroke-linejoin="round"/>
<path d="M0.6,258.9 C1.53,258.67 4.48,257.73 6.2,257.5 C7.92,257.27 9.2,257.5 10.9,257.5 C12.6,257.5 14.92,257.73 16.4,257.5 C17.88,257.27 18.65,256.4 19.8,256.1 C20.95,255.8 22.38,255.12 23.3,255.7 C24.22,256.28 24.52,258.05 25.3,259.6 C26.08,261.15 26.75,263.87 28,265 C29.25,266.13 31.32,265.83 32.8,266.4 C34.28,266.97 35.63,267.6 36.9,268.4 C38.17,269.2 39.25,270.4 40.4,271.2 C41.55,272 42.67,272.82 43.8,273.2 C44.93,273.58 46.07,272.37 47.2,273.5 C48.33,274.63 49.47,278.57 50.6,280 C51.73,281.43 52.85,281.3 54,282.1 C55.15,282.9 56.33,283.77 57.5,284.8 C58.67,285.83 59.73,287.95 61,288.3 C62.27,288.65 63.85,287.48 65.1,286.9 C66.35,286.32 67.35,285.95 68.5,284.8 C69.65,283.65 70.97,281.3 72,280 C73.03,278.7 73.68,277.5 74.7,277 C75.72,276.5 77.08,276.83 78.1,277 C79.12,277.17 79.77,278.28 80.8,278 C81.83,277.72 83.15,275.3 84.3,275.3 C85.45,275.3 86.57,276.87 87.7,278 C88.83,279.13 89.97,280.62 91.1,282.1 C92.23,283.58 93.47,286.33 94.5,286.9 C95.53,287.47 96.27,285.73 97.3,285.5 C98.33,285.27 99.45,285.5 100.7,285.5 C101.95,285.5 103.43,285.27 104.8,285.5 C106.17,285.73 107.53,286.67 108.9,286.9 C110.27,287.13 111.63,286.95 113,286.9 C114.37,286.85 115.67,286.72 117.1,286.6 C118.53,286.48 120.85,286.27 121.6,286.2" fill="none" stroke="#2020ff" stroke-width="0.85" stroke-linejoin="round"/>
</g>
<line x1="0.45" y1="224.45" x2="122.45" y2="224.45" stroke="#a0a0a0" stroke-width="0.9" stroke-linecap="square"/>
<rect x="-0.05" y="306" width="123" height="1" fill="#d4d4d4"/>
<line x1="0.45" y1="224.45" x2="0.45" y2="306.45" stroke="#a0a0a0" stroke-width="0.9" stroke-linecap="square"/>
<line x1="122.45" y1="224.45" x2="122.45" y2="306.45" stroke="#a0a0a0" stroke-width="0.9" stroke-linecap="square"/>
</g>
<g class="t"><text x="155.95" y="219.95" font-family="Liberation Serif" font-size="10" font-style="italic" textLength="5.0" lengthAdjust="spacingAndGlyphs">&#956;</text>
<text x="161.65" y="221.05" font-family="Liberation Serif" font-size="6.6" stroke="#000" stroke-width="0.22">5</text>
<text x="169.05" y="220.65" font-family="Liberation Serif" font-size="11">(</text>
<text x="172.35" y="219.95" font-family="Liberation Serif" font-size="9.3" textLength="20.4" lengthAdjust="spacingAndGlyphs">SMC</text>
<text x="192.65" y="220.65" font-family="Liberation Serif" font-size="11">)</text>
<text x="199.65" y="219.95" font-family="Liberation Serif" font-size="9.3" stroke="#000" stroke-width="0.15">J</text>
<rect x="204.75" y="216.2" width="6.1" height="0.6" fill="#000"/>
<rect x="204.75" y="218.4" width="6.1" height="0.6" fill="#000"/>
<text x="211.55" y="219.95" font-family="Liberation Serif" font-size="9.3" stroke="#000" stroke-width="0.1" textLength="13.5" lengthAdjust="spacingAndGlyphs">400</text></g>
<clipPath id="c22"><rect x="0.45" y="224.45" width="122" height="82"/></clipPath>
<g transform="translate(258,0)">
<g clip-path="url(#c22)">
<line x1="105" y1="223.5" x2="105" y2="307.45" stroke="#ff9a9a" stroke-width="1.0" stroke-dasharray="8.3 4.15"/>
<path d="M0.6,252 C1.72,251.83 5.27,251.3 7.3,251 C9.33,250.7 11.13,250.57 12.8,250.2 C14.47,249.83 15.78,248.58 17.3,248.8 C18.82,249.02 20.38,250.13 21.9,251.5 C23.42,252.87 24.88,255.78 26.4,257 C27.92,258.22 29.47,258.35 31,258.8 C32.53,259.25 34.08,259.25 35.6,259.7 C37.12,260.15 38.58,260.43 40.1,261.5 C41.62,262.57 43.18,264.42 44.7,266.1 C46.22,267.78 47.68,270.08 49.2,271.6 C50.72,273.12 52.28,273.83 53.8,275.2 C55.32,276.57 56.78,278.58 58.3,279.8 C59.82,281.02 61.92,282 62.9,282.5 C63.88,283 63.38,283.67 64.2,282.8 C65.02,281.93 66.52,279.13 67.8,277.3 C69.08,275.47 70.53,273.52 71.9,271.8 C73.27,270.08 74.62,267.9 76,267 C77.38,266.1 78.82,266.05 80.2,266.4 C81.58,266.75 82.93,267.73 84.3,269.1 C85.67,270.47 87.03,273.12 88.4,274.6 C89.77,276.08 91.13,277.32 92.5,278 C93.87,278.68 95.52,279.17 96.6,278.7 C97.68,278.23 97.83,276.85 99,275.2 C100.17,273.55 102.08,270.47 103.6,268.8 C105.12,267.13 106.95,266.08 108.1,265.2 C109.25,264.32 109.38,263.63 110.5,263.5 C111.62,263.37 113.35,264.12 114.8,264.4 C116.25,264.68 118.07,265.68 119.2,265.2 C120.33,264.72 121.2,262.12 121.6,261.5 L121.6,274.2 C121.2,274.32 120.33,275.08 119.2,274.9 C118.07,274.72 116.25,273.4 114.8,273.1 C113.35,272.8 111.62,272.9 110.5,273.1 C109.38,273.3 109.25,273.65 108.1,274.3 C106.95,274.95 105.12,275.78 103.6,277 C102.08,278.22 100.17,280.52 99,281.6 C97.83,282.68 97.68,283.3 96.6,283.5 C95.52,283.7 93.87,283.48 92.5,282.8 C91.13,282.12 89.77,281 88.4,279.4 C87.03,277.8 85.67,274.68 84.3,273.2 C82.93,271.72 81.58,270.83 80.2,270.5 C78.82,270.17 77.38,270.28 76,271.2 C74.62,272.12 73.27,274.42 71.9,276 C70.53,277.58 69.08,278.93 67.8,280.7 C66.52,282.47 65.02,285.55 64.2,286.6 C63.38,287.65 63.88,287.38 62.9,287 C61.92,286.62 59.82,285.35 58.3,284.3 C56.78,283.25 55.32,282.07 53.8,280.7 C52.28,279.33 50.72,277.62 49.2,276.1 C47.68,274.58 46.22,273.12 44.7,271.6 C43.18,270.08 41.62,268.22 40.1,267 C38.58,265.78 37.12,264.92 35.6,264.3 C34.08,263.68 32.53,263.77 31,263.3 C29.47,262.83 27.92,262.7 26.4,261.5 C24.88,260.3 23.42,257.55 21.9,256.1 C20.38,254.65 18.82,253.12 17.3,252.8 C15.78,252.48 14.47,253.82 12.8,254.2 C11.13,254.58 9.33,254.47 7.3,255.1 C5.27,255.73 1.72,257.52 0.6,258 Z" fill="#00ff00"/>
<path d="M0.6,252 C1.72,251.83 5.27,251.3 7.3,251 C9.33,250.7 11.13,250.57 12.8,250.2 C14.47,249.83 15.78,248.58 17.3,248.8 C18.82,249.02 20.38,250.13 21.9,251.5 C23.42,252.87 24.88,255.78 26.4,257 C27.92,258.22 29.47,258.35 31,258.8 C32.53,259.25 34.08,259.25 35.6,259.7 C37.12,260.15 38.58,260.43 40.1,261.5 C41.62,262.57 43.18,264.42 44.7,266.1 C46.22,267.78 47.68,270.08 49.2,271.6 C50.72,273.12 52.28,273.83 53.8,275.2 C55.32,276.57 56.78,278.58 58.3,279.8 C59.82,281.02 61.92,282 62.9,282.5 C63.88,283 63.38,283.67 64.2,282.8 C65.02,281.93 66.52,279.13 67.8,277.3 C69.08,275.47 70.53,273.52 71.9,271.8 C73.27,270.08 74.62,267.9 76,267 C77.38,266.1 78.82,266.05 80.2,266.4 C81.58,266.75 82.93,267.73 84.3,269.1 C85.67,270.47 87.03,273.12 88.4,274.6 C89.77,276.08 91.13,277.32 92.5,278 C93.87,278.68 95.52,279.17 96.6,278.7 C97.68,278.23 97.83,276.85 99,275.2 C100.17,273.55 102.08,270.47 103.6,268.8 C105.12,267.13 106.95,266.08 108.1,265.2 C109.25,264.32 109.38,263.63 110.5,263.5 C111.62,263.37 113.35,264.12 114.8,264.4 C116.25,264.68 118.07,265.68 119.2,265.2 C120.33,264.72 121.2,262.12 121.6,261.5" fill="none" stroke="#004f00" stroke-width="0.6"/>
<path d="M0.6,258 C1.72,257.52 5.27,255.73 7.3,255.1 C9.33,254.47 11.13,254.58 12.8,254.2 C14.47,253.82 15.78,252.48 17.3,252.8 C18.82,253.12 20.38,254.65 21.9,256.1 C23.42,257.55 24.88,260.3 26.4,261.5 C27.92,262.7 29.47,262.83 31,263.3 C32.53,263.77 34.08,263.68 35.6,264.3 C37.12,264.92 38.58,265.78 40.1,267 C41.62,268.22 43.18,270.08 44.7,271.6 C46.22,273.12 47.68,274.58 49.2,276.1 C50.72,277.62 52.28,279.33 53.8,280.7 C55.32,282.07 56.78,283.25 58.3,284.3 C59.82,285.35 61.92,286.62 62.9,287 C63.88,287.38 63.38,287.65 64.2,286.6 C65.02,285.55 66.52,282.47 67.8,280.7 C69.08,278.93 70.53,277.58 71.9,276 C73.27,274.42 74.62,272.12 76,271.2 C77.38,270.28 78.82,270.17 80.2,270.5 C81.58,270.83 82.93,271.72 84.3,273.2 C85.67,274.68 87.03,277.8 88.4,279.4 C89.77,281 91.13,282.12 92.5,282.8 C93.87,283.48 95.52,283.7 96.6,283.5 C97.68,283.3 97.83,282.68 99,281.6 C100.17,280.52 102.08,278.22 103.6,277 C105.12,275.78 106.95,274.95 108.1,274.3 C109.25,273.65 109.38,273.3 110.5,273.1 C111.62,272.9 113.35,272.8 114.8,273.1 C116.25,273.4 118.07,274.72 119.2,274.9 C120.33,275.08 121.2,274.32 121.6,274.2" fill="none" stroke="#004f00" stroke-width="0.6"/>
<path d="M0.6,255 C1.72,254.68 5.27,253.52 7.3,253.05 C9.33,252.58 11.13,252.57 12.8,252.2 C14.47,251.82 15.78,250.53 17.3,250.8 C18.82,251.07 20.38,252.39 21.9,253.8 C23.42,255.21 24.88,258.04 26.4,259.25 C27.92,260.46 29.47,260.59 31,261.05 C32.53,261.51 34.08,261.47 35.6,262 C37.12,262.53 38.58,263.11 40.1,264.25 C41.62,265.39 43.18,267.25 44.7,268.85 C46.22,270.45 47.68,272.33 49.2,273.85 C50.72,275.37 52.28,276.58 53.8,277.95 C55.32,279.32 56.78,280.92 58.3,282.05 C59.82,283.18 61.92,284.31 62.9,284.75 C63.88,285.19 63.38,285.66 64.2,284.7 C65.02,283.74 66.52,280.8 67.8,279 C69.08,277.2 70.53,275.55 71.9,273.9 C73.27,272.25 74.62,270.01 76,269.1 C77.38,268.19 78.82,268.11 80.2,268.45 C81.58,268.79 82.93,269.72 84.3,271.15 C85.67,272.57 87.03,275.46 88.4,277 C89.77,278.54 91.13,279.72 92.5,280.4 C93.87,281.08 95.52,281.43 96.6,281.1 C97.68,280.77 97.83,279.77 99,278.4 C100.17,277.03 102.08,274.34 103.6,272.9 C105.12,271.46 106.95,270.52 108.1,269.75 C109.25,268.98 109.38,268.47 110.5,268.3 C111.62,268.13 113.35,268.46 114.8,268.75 C116.25,269.04 118.07,270.2 119.2,270.05 C120.33,269.9 121.2,268.22 121.6,267.85" fill="none" stroke="#000000" stroke-width="0.55" stroke-dasharray="7.6 4.6" opacity="0.85"/>
<path d="M0.3,259.66 C0.53,259.49 0.9,259.31 1.7,258.67 C2.5,258.04 3.97,256.51 5.1,255.83 C6.23,255.14 7.37,254.84 8.5,254.55 C9.63,254.25 10.92,254.4 11.9,254.06 C12.88,253.71 13.57,253.31 14.4,252.49 C15.23,251.67 16.27,249.9 16.9,249.15 C17.53,248.4 17.63,247.9 18.2,247.97 C18.77,248.04 19.52,249 20.3,249.54 C21.08,250.08 22.05,250.78 22.9,251.21 C23.75,251.64 24.7,251.41 25.4,252.09 C26.1,252.78 26.47,254.09 27.1,255.34 C27.73,256.58 28.48,258.3 29.2,259.56 C29.92,260.82 30.68,262.13 31.4,262.9 C32.12,263.67 32.57,263.49 33.5,264.17 C34.43,264.86 35.85,266.64 37,267.02 C38.15,267.4 39.27,266.81 40.4,266.43 C41.53,266.06 42.85,264.86 43.8,264.76 C44.75,264.66 45.25,265.11 46.1,265.84 C46.95,266.58 47.87,268.38 48.9,269.18 C49.93,269.98 51.35,269.77 52.3,270.65 C53.25,271.54 53.75,272.83 54.6,274.48 C55.45,276.14 56.45,278.63 57.4,280.57 C58.35,282.52 59.25,285.61 60.3,286.17 C61.35,286.73 62.57,284.78 63.7,283.91 C64.83,283.04 65.97,282.08 67.1,280.97 C68.23,279.85 69.37,278.79 70.5,277.23 C71.63,275.68 72.77,272.75 73.9,271.64 C75.03,270.52 76.15,270.56 77.3,270.56 C78.45,270.56 79.65,271.54 80.8,271.64 C81.95,271.74 83.07,271.42 84.2,271.15 C85.33,270.87 86.65,270.07 87.6,269.97 C88.55,269.87 89.05,269.53 89.9,270.56 C90.75,271.59 91.75,274.21 92.7,276.15 C93.65,278.1 94.75,280.66 95.6,282.24 C96.45,283.83 97.3,284.99 97.8,285.68 C98.3,286.37 98.15,286.74 98.6,286.37 C99.05,285.99 99.67,285.63 100.5,283.42 C101.33,281.21 102.58,275.56 103.6,273.11 C104.62,270.65 105.62,270 106.6,268.69 C107.58,267.38 108.8,266.32 109.5,265.25 C110.2,264.19 110.33,263.24 110.8,262.31 C111.27,261.37 111.6,259.98 112.3,259.66 C113,259.33 113.97,259.79 115,260.34 C116.03,260.9 117.42,262.23 118.5,262.99 C119.58,263.76 121,264.63 121.5,264.96" fill="none" stroke="#ff2a2a" stroke-width="0.8" stroke-linejoin="round" opacity="0.7"/>
<clipPath id="bc22"><path d="M0.6,252 C1.72,251.83 5.27,251.3 7.3,251 C9.33,250.7 11.13,250.57 12.8,250.2 C14.47,249.83 15.78,248.58 17.3,248.8 C18.82,249.02 20.38,250.13 21.9,251.5 C23.42,252.87 24.88,255.78 26.4,257 C27.92,258.22 29.47,258.35 31,258.8 C32.53,259.25 34.08,259.25 35.6,259.7 C37.12,260.15 38.58,260.43 40.1,261.5 C41.62,262.57 43.18,264.42 44.7,266.1 C46.22,267.78 47.68,270.08 49.2,271.6 C50.72,273.12 52.28,273.83 53.8,275.2 C55.32,276.57 56.78,278.58 58.3,279.8 C59.82,281.02 61.92,282 62.9,282.5 C63.88,283 63.38,283.67 64.2,282.8 C65.02,281.93 66.52,279.13 67.8,277.3 C69.08,275.47 70.53,273.52 71.9,271.8 C73.27,270.08 74.62,267.9 76,267 C77.38,266.1 78.82,266.05 80.2,266.4 C81.58,266.75 82.93,267.73 84.3,269.1 C85.67,270.47 87.03,273.12 88.4,274.6 C89.77,276.08 91.13,277.32 92.5,278 C93.87,278.68 95.52,279.17 96.6,278.7 C97.68,278.23 97.83,276.85 99,275.2 C100.17,273.55 102.08,270.47 103.6,268.8 C105.12,267.13 106.95,266.08 108.1,265.2 C109.25,264.32 109.38,263.63 110.5,263.5 C111.62,263.37 113.35,264.12 114.8,264.4 C116.25,264.68 118.07,265.68 119.2,265.2 C120.33,264.72 121.2,262.12 121.6,261.5 L121.6,274.2 C121.2,274.32 120.33,275.08 119.2,274.9 C118.07,274.72 116.25,273.4 114.8,273.1 C113.35,272.8 111.62,272.9 110.5,273.1 C109.38,273.3 109.25,273.65 108.1,274.3 C106.95,274.95 105.12,275.78 103.6,277 C102.08,278.22 100.17,280.52 99,281.6 C97.83,282.68 97.68,283.3 96.6,283.5 C95.52,283.7 93.87,283.48 92.5,282.8 C91.13,282.12 89.77,281 88.4,279.4 C87.03,277.8 85.67,274.68 84.3,273.2 C82.93,271.72 81.58,270.83 80.2,270.5 C78.82,270.17 77.38,270.28 76,271.2 C74.62,272.12 73.27,274.42 71.9,276 C70.53,277.58 69.08,278.93 67.8,280.7 C66.52,282.47 65.02,285.55 64.2,286.6 C63.38,287.65 63.88,287.38 62.9,287 C61.92,286.62 59.82,285.35 58.3,284.3 C56.78,283.25 55.32,282.07 53.8,280.7 C52.28,279.33 50.72,277.62 49.2,276.1 C47.68,274.58 46.22,273.12 44.7,271.6 C43.18,270.08 41.62,268.22 40.1,267 C38.58,265.78 37.12,264.92 35.6,264.3 C34.08,263.68 32.53,263.77 31,263.3 C29.47,262.83 27.92,262.7 26.4,261.5 C24.88,260.3 23.42,257.55 21.9,256.1 C20.38,254.65 18.82,253.12 17.3,252.8 C15.78,252.48 14.47,253.82 12.8,254.2 C11.13,254.58 9.33,254.47 7.3,255.1 C5.27,255.73 1.72,257.52 0.6,258 Z"/></clipPath>
<path clip-path="url(#bc22)" d="M0.3,259.66 C0.53,259.49 0.9,259.31 1.7,258.67 C2.5,258.04 3.97,256.51 5.1,255.83 C6.23,255.14 7.37,254.84 8.5,254.55 C9.63,254.25 10.92,254.4 11.9,254.06 C12.88,253.71 13.57,253.31 14.4,252.49 C15.23,251.67 16.27,249.9 16.9,249.15 C17.53,248.4 17.63,247.9 18.2,247.97 C18.77,248.04 19.52,249 20.3,249.54 C21.08,250.08 22.05,250.78 22.9,251.21 C23.75,251.64 24.7,251.41 25.4,252.09 C26.1,252.78 26.47,254.09 27.1,255.34 C27.73,256.58 28.48,258.3 29.2,259.56 C29.92,260.82 30.68,262.13 31.4,262.9 C32.12,263.67 32.57,263.49 33.5,264.17 C34.43,264.86 35.85,266.64 37,267.02 C38.15,267.4 39.27,266.81 40.4,266.43 C41.53,266.06 42.85,264.86 43.8,264.76 C44.75,264.66 45.25,265.11 46.1,265.84 C46.95,266.58 47.87,268.38 48.9,269.18 C49.93,269.98 51.35,269.77 52.3,270.65 C53.25,271.54 53.75,272.83 54.6,274.48 C55.45,276.14 56.45,278.63 57.4,280.57 C58.35,282.52 59.25,285.61 60.3,286.17 C61.35,286.73 62.57,284.78 63.7,283.91 C64.83,283.04 65.97,282.08 67.1,280.97 C68.23,279.85 69.37,278.79 70.5,277.23 C71.63,275.68 72.77,272.75 73.9,271.64 C75.03,270.52 76.15,270.56 77.3,270.56 C78.45,270.56 79.65,271.54 80.8,271.64 C81.95,271.74 83.07,271.42 84.2,271.15 C85.33,270.87 86.65,270.07 87.6,269.97 C88.55,269.87 89.05,269.53 89.9,270.56 C90.75,271.59 91.75,274.21 92.7,276.15 C93.65,278.1 94.75,280.66 95.6,282.24 C96.45,283.83 97.3,284.99 97.8,285.68 C98.3,286.37 98.15,286.74 98.6,286.37 C99.05,285.99 99.67,285.63 100.5,283.42 C101.33,281.21 102.58,275.56 103.6,273.11 C104.62,270.65 105.62,270 106.6,268.69 C107.58,267.38 108.8,266.32 109.5,265.25 C110.2,264.19 110.33,263.24 110.8,262.31 C111.27,261.37 111.6,259.98 112.3,259.66 C113,259.33 113.97,259.79 115,260.34 C116.03,260.9 117.42,262.23 118.5,262.99 C119.58,263.76 121,264.63 121.5,264.96" fill="none" stroke="#ff6a00" stroke-width="0.9" stroke-linejoin="round" opacity="0.85"/>
<path d="M0.6,248.4 C1.63,248.25 4.97,247.8 6.8,247.5 C8.63,247.2 10.33,247.32 11.6,246.6 C12.87,245.88 13.48,244.05 14.4,243.2 C15.32,242.35 16.2,241.28 17.1,241.5 C18,241.72 18.88,243.32 19.8,244.5 C20.72,245.68 21.57,247.35 22.6,248.6 C23.63,249.85 24.87,251.2 26,252 C27.13,252.8 28.15,252.82 29.4,253.4 C30.65,253.98 32.35,255.73 33.5,255.5 C34.65,255.27 35.38,252.87 36.3,252 C37.22,251.13 38.22,250.18 39,250.3 C39.78,250.42 40.2,251.03 41,252.7 C41.8,254.37 42.88,258.25 43.8,260.3 C44.72,262.35 45.7,264.03 46.5,265 C47.3,265.97 47.57,265.83 48.6,266.1 C49.63,266.37 51.45,265.75 52.7,266.6 C53.95,267.45 55.08,269.63 56.1,271.2 C57.12,272.77 57.98,274.75 58.8,276 C59.62,277.25 59.95,278.72 61,278.7 C62.05,278.68 63.97,277.05 65.1,275.9 C66.23,274.75 67,273.28 67.8,271.8 C68.6,270.32 69.32,268.13 69.9,267 C70.48,265.87 70.38,266.12 71.3,265 C72.22,263.88 73.92,261.32 75.4,260.3 C76.88,259.28 78.83,258.68 80.2,258.9 C81.57,259.12 82.47,260.58 83.6,261.6 C84.73,262.62 85.98,263.98 87,265 C88.02,266.02 88.57,266.57 89.7,267.7 C90.83,268.83 92.65,270.65 93.8,271.8 C94.95,272.95 95.68,274.7 96.6,274.6 C97.52,274.5 98.5,272.57 99.3,271.2 C100.1,269.83 100.6,268.45 101.4,266.4 C102.2,264.35 102.97,260.62 104.1,258.9 C105.23,257.18 107.07,257.35 108.2,256.1 C109.33,254.85 110.1,253.05 110.9,251.4 C111.7,249.75 112.2,246.78 113,246.2 C113.8,245.62 114.78,247.38 115.7,247.9 C116.62,248.42 117.52,248.9 118.5,249.3 C119.48,249.7 121.08,250.13 121.6,250.3" fill="none" stroke="#2020ff" stroke-width="0.85" stroke-linejoin="round"/>
<path d="M0.6,259.8 C1.53,259.42 4.58,258.12 6.2,257.5 C7.82,256.88 9.05,255.8 10.3,256.1 C11.55,256.4 12.57,259.07 13.7,259.3 C14.83,259.53 15.97,258.18 17.1,257.5 C18.23,256.82 19.47,255.08 20.5,255.2 C21.53,255.32 22.5,257.02 23.3,258.2 C24.1,259.38 24.62,261.05 25.3,262.3 C25.98,263.55 26.6,264.57 27.4,265.7 C28.2,266.83 29.2,268.95 30.1,269.1 C31,269.25 31.77,266.95 32.8,266.6 C33.83,266.25 35.15,266.47 36.3,267 C37.45,267.53 38.45,269 39.7,269.8 C40.95,270.6 42.55,271.23 43.8,271.8 C45.05,272.37 46.07,272.17 47.2,273.2 C48.33,274.23 49.47,276.63 50.6,278 C51.73,279.37 52.85,280.27 54,281.4 C55.15,282.53 56.33,283.88 57.5,284.8 C58.67,285.72 59.73,285.82 61,286.9 C62.27,287.98 63.97,291.53 65.1,291.3 C66.23,291.07 66.77,287.38 67.8,285.5 C68.83,283.62 70.15,281.13 71.3,280 C72.45,278.87 73.57,279.03 74.7,278.7 C75.83,278.37 76.97,278.57 78.1,278 C79.23,277.43 80.35,275.42 81.5,275.3 C82.65,275.18 83.85,275.82 85,277.3 C86.15,278.78 87.15,282.42 88.4,284.2 C89.65,285.98 91.13,287.22 92.5,288 C93.87,288.78 95.47,289.32 96.6,288.9 C97.73,288.48 98.17,286.33 99.3,285.5 C100.43,284.67 102.03,284.47 103.4,283.9 C104.77,283.33 106.13,282.63 107.5,282.1 C108.87,281.57 110.23,280.82 111.6,280.7 C112.97,280.58 114.55,280.82 115.7,281.4 C116.85,281.98 117.52,283.05 118.5,284.2 C119.48,285.35 121.08,287.62 121.6,288.3" fill="none" stroke="#2020ff" stroke-width="0.85" stroke-linejoin="round"/>
</g>
<line x1="0.45" y1="224.45" x2="122.45" y2="224.45" stroke="#a0a0a0" stroke-width="0.9" stroke-linecap="square"/>
<rect x="-0.05" y="306" width="123" height="1" fill="#d4d4d4"/>
<line x1="0.45" y1="224.45" x2="0.45" y2="306.45" stroke="#a0a0a0" stroke-width="0.9" stroke-linecap="square"/>
<line x1="122.45" y1="224.45" x2="122.45" y2="306.45" stroke="#a0a0a0" stroke-width="0.9" stroke-linecap="square"/>
</g>
<g class="t"><text x="282.9" y="219.95" font-family="Liberation Serif" font-size="10" font-style="italic" textLength="5.0" lengthAdjust="spacingAndGlyphs">&#956;</text>
<text x="288.6" y="221.05" font-family="Liberation Serif" font-size="6.6" stroke="#000" stroke-width="0.22">5</text>
<text x="296" y="220.65" font-family="Liberation Serif" font-size="11">(</text>
<text x="299.3" y="219.95" font-family="Liberation Serif" font-size="9.3" textLength="20.4" lengthAdjust="spacingAndGlyphs">SMC</text>
<text x="319.6" y="220.65" font-family="Liberation Serif" font-size="11">)</text>
<text x="326.6" y="219.95" font-family="Liberation Serif" font-size="9.3" stroke="#000" stroke-width="0.15">J</text>
<rect x="331.7" y="216.2" width="6.1" height="0.6" fill="#000"/>
<rect x="331.7" y="218.4" width="6.1" height="0.6" fill="#000"/>
<text x="338.5" y="219.95" font-family="Liberation Serif" font-size="9.3" stroke="#000" stroke-width="0.1" textLength="18" lengthAdjust="spacingAndGlyphs">1600</text></g>
<clipPath id="c23"><rect x="0.45" y="224.45" width="122.05" height="82"/></clipPath>
<g transform="translate(387,0)">
<g clip-path="url(#c23)">
<line x1="105" y1="223.5" x2="105" y2="307.45" stroke="#ff9a9a" stroke-width="1.0" stroke-dasharray="8.3 4.15"/>
<path d="M0.6,252 C1.72,251.92 5.27,251.58 7.3,251.5 C9.33,251.42 11.13,251.9 12.8,251.5 C14.47,251.1 15.78,249.1 17.3,249.1 C18.82,249.1 20.38,250.18 21.9,251.5 C23.42,252.82 24.73,255.78 26.4,257 C28.07,258.22 30.22,258.2 31.9,258.8 C33.58,259.4 34.98,260 36.5,260.6 C38.02,261.2 39.48,261.33 41,262.4 C42.52,263.47 44.08,265.47 45.6,267 C47.12,268.53 48.58,270.08 50.1,271.6 C51.62,273.12 53.17,274.73 54.7,276.1 C56.23,277.47 57.78,278.88 59.3,279.8 C60.82,280.72 62.6,282.13 63.8,281.6 C65,281.07 65.13,278.45 66.5,276.6 C67.87,274.75 70.18,272.2 72,270.5 C73.82,268.8 75.58,266.87 77.4,266.4 C79.22,265.93 81.07,266.8 82.9,267.7 C84.73,268.6 86.58,270.2 88.4,271.8 C90.22,273.4 92.2,276.38 93.8,277.3 C95.4,278.22 96.63,277.98 98,277.3 C99.37,276.62 100.83,274.48 102,273.2 C103.17,271.92 103.85,270.85 105,269.6 C106.15,268.35 107.6,266.67 108.9,265.7 C110.2,264.73 111.5,264.28 112.8,263.8 C114.1,263.32 115.17,263.05 116.7,262.8 C118.23,262.55 121.12,262.38 122,262.3 L122,274 C121.12,274.08 118.23,274.25 116.7,274.5 C115.17,274.75 114.1,275.17 112.8,275.5 C111.5,275.83 110.2,276.17 108.9,276.5 C107.6,276.83 106.15,277.13 105,277.5 C103.85,277.87 103.17,277.93 102,278.7 C100.83,279.47 99.37,281.53 98,282.1 C96.63,282.67 95.4,282.9 93.8,282.1 C92.2,281.3 90.22,279.02 88.4,277.3 C86.58,275.58 84.73,272.82 82.9,271.8 C81.07,270.78 79.22,270.73 77.4,271.2 C75.58,271.67 73.82,273.02 72,274.6 C70.18,276.18 67.87,278.93 66.5,280.7 C65.13,282.47 65,284.6 63.8,285.2 C62.6,285.8 60.82,284.9 59.3,284.3 C57.78,283.7 56.23,282.82 54.7,281.6 C53.17,280.38 51.62,278.52 50.1,277 C48.58,275.48 47.12,274.02 45.6,272.5 C44.08,270.98 42.52,269.12 41,267.9 C39.48,266.68 38.02,265.97 36.5,265.2 C34.98,264.43 33.58,263.92 31.9,263.3 C30.22,262.68 28.07,262.7 26.4,261.5 C24.73,260.3 23.42,257.47 21.9,256.1 C20.38,254.73 18.82,253.62 17.3,253.3 C15.78,252.98 14.47,253.9 12.8,254.2 C11.13,254.5 9.33,254.63 7.3,255.1 C5.27,255.57 1.72,256.68 0.6,257 Z" fill="#00ff00"/>
<path d="M0.6,252 C1.72,251.92 5.27,251.58 7.3,251.5 C9.33,251.42 11.13,251.9 12.8,251.5 C14.47,251.1 15.78,249.1 17.3,249.1 C18.82,249.1 20.38,250.18 21.9,251.5 C23.42,252.82 24.73,255.78 26.4,257 C28.07,258.22 30.22,258.2 31.9,258.8 C33.58,259.4 34.98,260 36.5,260.6 C38.02,261.2 39.48,261.33 41,262.4 C42.52,263.47 44.08,265.47 45.6,267 C47.12,268.53 48.58,270.08 50.1,271.6 C51.62,273.12 53.17,274.73 54.7,276.1 C56.23,277.47 57.78,278.88 59.3,279.8 C60.82,280.72 62.6,282.13 63.8,281.6 C65,281.07 65.13,278.45 66.5,276.6 C67.87,274.75 70.18,272.2 72,270.5 C73.82,268.8 75.58,266.87 77.4,266.4 C79.22,265.93 81.07,266.8 82.9,267.7 C84.73,268.6 86.58,270.2 88.4,271.8 C90.22,273.4 92.2,276.38 93.8,277.3 C95.4,278.22 96.63,277.98 98,277.3 C99.37,276.62 100.83,274.48 102,273.2 C103.17,271.92 103.85,270.85 105,269.6 C106.15,268.35 107.6,266.67 108.9,265.7 C110.2,264.73 111.5,264.28 112.8,263.8 C114.1,263.32 115.17,263.05 116.7,262.8 C118.23,262.55 121.12,262.38 122,262.3" fill="none" stroke="#004f00" stroke-width="0.6"/>
<path d="M0.6,257 C1.72,256.68 5.27,255.57 7.3,255.1 C9.33,254.63 11.13,254.5 12.8,254.2 C14.47,253.9 15.78,252.98 17.3,253.3 C18.82,253.62 20.38,254.73 21.9,256.1 C23.42,257.47 24.73,260.3 26.4,261.5 C28.07,262.7 30.22,262.68 31.9,263.3 C33.58,263.92 34.98,264.43 36.5,265.2 C38.02,265.97 39.48,266.68 41,267.9 C42.52,269.12 44.08,270.98 45.6,272.5 C47.12,274.02 48.58,275.48 50.1,277 C51.62,278.52 53.17,280.38 54.7,281.6 C56.23,282.82 57.78,283.7 59.3,284.3 C60.82,284.9 62.6,285.8 63.8,285.2 C65,284.6 65.13,282.47 66.5,280.7 C67.87,278.93 70.18,276.18 72,274.6 C73.82,273.02 75.58,271.67 77.4,271.2 C79.22,270.73 81.07,270.78 82.9,271.8 C84.73,272.82 86.58,275.58 88.4,277.3 C90.22,279.02 92.2,281.3 93.8,282.1 C95.4,282.9 96.63,282.67 98,282.1 C99.37,281.53 100.83,279.47 102,278.7 C103.17,277.93 103.85,277.87 105,277.5 C106.15,277.13 107.6,276.83 108.9,276.5 C110.2,276.17 111.5,275.83 112.8,275.5 C114.1,275.17 115.17,274.75 116.7,274.5 C118.23,274.25 121.12,274.08 122,274" fill="none" stroke="#004f00" stroke-width="0.6"/>
<path d="M0.6,254.5 C1.72,254.3 5.27,253.58 7.3,253.3 C9.33,253.03 11.13,253.2 12.8,252.85 C14.47,252.5 15.78,251.04 17.3,251.2 C18.82,251.36 20.38,252.46 21.9,253.8 C23.42,255.14 24.73,258.04 26.4,259.25 C28.07,260.46 30.22,260.44 31.9,261.05 C33.58,261.66 34.98,262.22 36.5,262.9 C38.02,263.58 39.48,264.01 41,265.15 C42.52,266.29 44.08,268.23 45.6,269.75 C47.12,271.27 48.58,272.78 50.1,274.3 C51.62,275.82 53.17,277.56 54.7,278.85 C56.23,280.14 57.78,281.29 59.3,282.05 C60.82,282.81 62.6,283.97 63.8,283.4 C65,282.83 65.13,280.46 66.5,278.65 C67.87,276.84 70.18,274.19 72,272.55 C73.82,270.91 75.58,269.27 77.4,268.8 C79.22,268.33 81.07,268.79 82.9,269.75 C84.73,270.71 86.58,272.89 88.4,274.55 C90.22,276.21 92.2,278.84 93.8,279.7 C95.4,280.56 96.63,280.33 98,279.7 C99.37,279.08 100.83,276.98 102,275.95 C103.17,274.92 103.85,274.36 105,273.55 C106.15,272.74 107.6,271.75 108.9,271.1 C110.2,270.45 111.5,270.06 112.8,269.65 C114.1,269.24 115.17,268.9 116.7,268.65 C118.23,268.4 121.12,268.23 122,268.15" fill="none" stroke="#000000" stroke-width="0.55" stroke-dasharray="7.6 4.6" opacity="0.85"/>
<path d="M0.3,259.66 C0.53,259.49 0.9,259.31 1.7,258.67 C2.5,258.04 3.97,256.51 5.1,255.83 C6.23,255.14 7.37,254.84 8.5,254.55 C9.63,254.25 10.92,254.4 11.9,254.06 C12.88,253.71 13.57,253.31 14.4,252.49 C15.23,251.67 16.27,249.9 16.9,249.15 C17.53,248.4 17.63,247.9 18.2,247.97 C18.77,248.04 19.52,249 20.3,249.54 C21.08,250.08 22.05,250.78 22.9,251.21 C23.75,251.64 24.7,251.41 25.4,252.09 C26.1,252.78 26.47,254.09 27.1,255.34 C27.73,256.58 28.48,258.3 29.2,259.56 C29.92,260.82 30.68,262.13 31.4,262.9 C32.12,263.67 32.57,263.49 33.5,264.17 C34.43,264.86 35.85,266.64 37,267.02 C38.15,267.4 39.27,266.81 40.4,266.43 C41.53,266.06 42.85,264.86 43.8,264.76 C44.75,264.66 45.25,265.11 46.1,265.84 C46.95,266.58 47.87,268.38 48.9,269.18 C49.93,269.98 51.35,269.77 52.3,270.65 C53.25,271.54 53.75,272.83 54.6,274.48 C55.45,276.14 56.45,278.63 57.4,280.57 C58.35,282.52 59.25,285.61 60.3,286.17 C61.35,286.73 62.57,284.78 63.7,283.91 C64.83,283.04 65.97,282.08 67.1,280.97 C68.23,279.85 69.37,278.79 70.5,277.23 C71.63,275.68 72.77,272.75 73.9,271.64 C75.03,270.52 76.15,270.56 77.3,270.56 C78.45,270.56 79.65,271.54 80.8,271.64 C81.95,271.74 83.07,271.42 84.2,271.15 C85.33,270.87 86.65,270.07 87.6,269.97 C88.55,269.87 89.05,269.53 89.9,270.56 C90.75,271.59 91.75,274.21 92.7,276.15 C93.65,278.1 94.75,280.66 95.6,282.24 C96.45,283.83 97.3,284.99 97.8,285.68 C98.3,286.37 98.15,286.74 98.6,286.37 C99.05,285.99 99.67,285.63 100.5,283.42 C101.33,281.21 102.58,275.56 103.6,273.11 C104.62,270.65 105.62,270 106.6,268.69 C107.58,267.38 108.8,266.32 109.5,265.25 C110.2,264.19 110.33,263.24 110.8,262.31 C111.27,261.37 111.6,259.98 112.3,259.66 C113,259.33 113.97,259.79 115,260.34 C116.03,260.9 117.42,262.23 118.5,262.99 C119.58,263.76 121,264.63 121.5,264.96" fill="none" stroke="#ff2a2a" stroke-width="0.8" stroke-linejoin="round" opacity="0.7"/>
<clipPath id="bc23"><path d="M0.6,252 C1.72,251.92 5.27,251.58 7.3,251.5 C9.33,251.42 11.13,251.9 12.8,251.5 C14.47,251.1 15.78,249.1 17.3,249.1 C18.82,249.1 20.38,250.18 21.9,251.5 C23.42,252.82 24.73,255.78 26.4,257 C28.07,258.22 30.22,258.2 31.9,258.8 C33.58,259.4 34.98,260 36.5,260.6 C38.02,261.2 39.48,261.33 41,262.4 C42.52,263.47 44.08,265.47 45.6,267 C47.12,268.53 48.58,270.08 50.1,271.6 C51.62,273.12 53.17,274.73 54.7,276.1 C56.23,277.47 57.78,278.88 59.3,279.8 C60.82,280.72 62.6,282.13 63.8,281.6 C65,281.07 65.13,278.45 66.5,276.6 C67.87,274.75 70.18,272.2 72,270.5 C73.82,268.8 75.58,266.87 77.4,266.4 C79.22,265.93 81.07,266.8 82.9,267.7 C84.73,268.6 86.58,270.2 88.4,271.8 C90.22,273.4 92.2,276.38 93.8,277.3 C95.4,278.22 96.63,277.98 98,277.3 C99.37,276.62 100.83,274.48 102,273.2 C103.17,271.92 103.85,270.85 105,269.6 C106.15,268.35 107.6,266.67 108.9,265.7 C110.2,264.73 111.5,264.28 112.8,263.8 C114.1,263.32 115.17,263.05 116.7,262.8 C118.23,262.55 121.12,262.38 122,262.3 L122,274 C121.12,274.08 118.23,274.25 116.7,274.5 C115.17,274.75 114.1,275.17 112.8,275.5 C111.5,275.83 110.2,276.17 108.9,276.5 C107.6,276.83 106.15,277.13 105,277.5 C103.85,277.87 103.17,277.93 102,278.7 C100.83,279.47 99.37,281.53 98,282.1 C96.63,282.67 95.4,282.9 93.8,282.1 C92.2,281.3 90.22,279.02 88.4,277.3 C86.58,275.58 84.73,272.82 82.9,271.8 C81.07,270.78 79.22,270.73 77.4,271.2 C75.58,271.67 73.82,273.02 72,274.6 C70.18,276.18 67.87,278.93 66.5,280.7 C65.13,282.47 65,284.6 63.8,285.2 C62.6,285.8 60.82,284.9 59.3,284.3 C57.78,283.7 56.23,282.82 54.7,281.6 C53.17,280.38 51.62,278.52 50.1,277 C48.58,275.48 47.12,274.02 45.6,272.5 C44.08,270.98 42.52,269.12 41,267.9 C39.48,266.68 38.02,265.97 36.5,265.2 C34.98,264.43 33.58,263.92 31.9,263.3 C30.22,262.68 28.07,262.7 26.4,261.5 C24.73,260.3 23.42,257.47 21.9,256.1 C20.38,254.73 18.82,253.62 17.3,253.3 C15.78,252.98 14.47,253.9 12.8,254.2 C11.13,254.5 9.33,254.63 7.3,255.1 C5.27,255.57 1.72,256.68 0.6,257 Z"/></clipPath>
<path clip-path="url(#bc23)" d="M0.3,259.66 C0.53,259.49 0.9,259.31 1.7,258.67 C2.5,258.04 3.97,256.51 5.1,255.83 C6.23,255.14 7.37,254.84 8.5,254.55 C9.63,254.25 10.92,254.4 11.9,254.06 C12.88,253.71 13.57,253.31 14.4,252.49 C15.23,251.67 16.27,249.9 16.9,249.15 C17.53,248.4 17.63,247.9 18.2,247.97 C18.77,248.04 19.52,249 20.3,249.54 C21.08,250.08 22.05,250.78 22.9,251.21 C23.75,251.64 24.7,251.41 25.4,252.09 C26.1,252.78 26.47,254.09 27.1,255.34 C27.73,256.58 28.48,258.3 29.2,259.56 C29.92,260.82 30.68,262.13 31.4,262.9 C32.12,263.67 32.57,263.49 33.5,264.17 C34.43,264.86 35.85,266.64 37,267.02 C38.15,267.4 39.27,266.81 40.4,266.43 C41.53,266.06 42.85,264.86 43.8,264.76 C44.75,264.66 45.25,265.11 46.1,265.84 C46.95,266.58 47.87,268.38 48.9,269.18 C49.93,269.98 51.35,269.77 52.3,270.65 C53.25,271.54 53.75,272.83 54.6,274.48 C55.45,276.14 56.45,278.63 57.4,280.57 C58.35,282.52 59.25,285.61 60.3,286.17 C61.35,286.73 62.57,284.78 63.7,283.91 C64.83,283.04 65.97,282.08 67.1,280.97 C68.23,279.85 69.37,278.79 70.5,277.23 C71.63,275.68 72.77,272.75 73.9,271.64 C75.03,270.52 76.15,270.56 77.3,270.56 C78.45,270.56 79.65,271.54 80.8,271.64 C81.95,271.74 83.07,271.42 84.2,271.15 C85.33,270.87 86.65,270.07 87.6,269.97 C88.55,269.87 89.05,269.53 89.9,270.56 C90.75,271.59 91.75,274.21 92.7,276.15 C93.65,278.1 94.75,280.66 95.6,282.24 C96.45,283.83 97.3,284.99 97.8,285.68 C98.3,286.37 98.15,286.74 98.6,286.37 C99.05,285.99 99.67,285.63 100.5,283.42 C101.33,281.21 102.58,275.56 103.6,273.11 C104.62,270.65 105.62,270 106.6,268.69 C107.58,267.38 108.8,266.32 109.5,265.25 C110.2,264.19 110.33,263.24 110.8,262.31 C111.27,261.37 111.6,259.98 112.3,259.66 C113,259.33 113.97,259.79 115,260.34 C116.03,260.9 117.42,262.23 118.5,262.99 C119.58,263.76 121,264.63 121.5,264.96" fill="none" stroke="#ff6a00" stroke-width="0.9" stroke-linejoin="round" opacity="0.85"/>
<path d="M0.6,248.4 C2.32,248.4 8.72,248.82 10.9,248.4 C13.08,247.98 12.78,246.62 13.7,245.9 C14.62,245.18 15.48,244.33 16.4,244.1 C17.32,243.87 18.28,243.97 19.2,244.5 C20.12,245.03 20.77,246.38 21.9,247.3 C23.03,248.22 24.63,249.1 26,250 C27.37,250.9 28.73,251.68 30.1,252.7 C31.47,253.72 32.6,255.45 34.2,256.1 C35.8,256.75 38.33,256.13 39.7,256.6 C41.07,257.07 41.5,257.83 42.4,258.9 C43.3,259.97 44.18,261.9 45.1,263 C46.02,264.1 46.87,264.98 47.9,265.5 C48.93,266.02 50.17,265.38 51.3,266.1 C52.43,266.82 53.67,268.38 54.7,269.8 C55.73,271.22 56.58,273.23 57.5,274.6 C58.42,275.97 59.62,277.32 60.2,278 C60.78,278.68 60.18,279.05 61,278.7 C61.82,278.35 63.85,276.93 65.1,275.9 C66.35,274.87 67.47,273.87 68.5,272.5 C69.53,271.13 70.5,268.95 71.3,267.7 C72.1,266.45 72.52,266.13 73.3,265 C74.08,263.87 74.97,261.85 76,260.9 C77.03,259.95 78.47,259.25 79.5,259.3 C80.53,259.35 81.3,260.42 82.2,261.2 C83.1,261.98 84.22,263.37 84.9,264 C85.58,264.63 85.38,264.27 86.3,265 C87.22,265.73 89.03,267.27 90.4,268.4 C91.77,269.53 93.35,271 94.5,271.8 C95.65,272.6 96.38,273.42 97.3,273.2 C98.22,272.98 99.22,271.75 100,270.5 C100.78,269.25 101.2,267.3 102,265.7 C102.8,264.1 103.77,262.6 104.8,260.9 C105.83,259.2 107.07,256.87 108.2,255.5 C109.33,254.13 110.35,253.38 111.6,252.7 C112.85,252.02 113.97,251.85 115.7,251.4 C117.43,250.95 120.95,250.23 122,250" fill="none" stroke="#2020ff" stroke-width="0.85" stroke-linejoin="round"/>
<path d="M0.6,259.3 C1.63,259.12 4.62,258.33 6.8,258.2 C8.98,258.07 11.42,258.8 13.7,258.5 C15.98,258.2 19.02,256.57 20.5,256.4 C21.98,256.23 21.8,256.63 22.6,257.5 C23.4,258.37 24.4,260.23 25.3,261.6 C26.2,262.97 27.08,264.8 28,265.7 C28.92,266.6 29.77,266.85 30.8,267 C31.83,267.15 33.07,266.37 34.2,266.6 C35.33,266.83 36.47,267.63 37.6,268.4 C38.73,269.17 39.85,270.58 41,271.2 C42.15,271.82 43.47,271.77 44.5,272.1 C45.53,272.43 46.18,272.33 47.2,273.2 C48.22,274.07 49.47,275.82 50.6,277.3 C51.73,278.78 52.85,280.78 54,282.1 C55.15,283.42 56.33,284.17 57.5,285.2 C58.67,286.23 59.73,287.68 61,288.3 C62.27,288.92 63.85,289.37 65.1,288.9 C66.35,288.43 67.35,286.87 68.5,285.5 C69.65,284.13 70.75,282.07 72,280.7 C73.25,279.33 74.63,278.1 76,277.3 C77.37,276.5 78.82,276.13 80.2,275.9 C81.58,275.67 83.05,275.1 84.3,275.9 C85.55,276.7 86.45,278.87 87.7,280.7 C88.95,282.53 90.43,285.82 91.8,286.9 C93.17,287.98 94.53,287.38 95.9,287.2 C97.27,287.02 98.52,286.08 100,285.8 C101.48,285.52 103.2,285.32 104.8,285.5 C106.4,285.68 107.78,286.55 109.6,286.9 C111.42,287.25 113.63,287.33 115.7,287.6 C117.77,287.87 120.95,288.35 122,288.5" fill="none" stroke="#2020ff" stroke-width="0.85" stroke-linejoin="round"/>
</g>
<line x1="0.45" y1="224.45" x2="122.5" y2="224.45" stroke="#a0a0a0" stroke-width="0.9" stroke-linecap="square"/>
<rect x="-0.05" y="306" width="123.05" height="1" fill="#d4d4d4"/>
<line x1="0.45" y1="224.45" x2="0.45" y2="306.45" stroke="#a0a0a0" stroke-width="0.9" stroke-linecap="square"/>
<rect x="122" y="224" width="1" height="82.5" fill="#d6d6d6"/>
</g>
<g class="t"><text x="414.2" y="219.95" font-family="Liberation Serif" font-size="10" font-style="italic" textLength="5.0" lengthAdjust="spacingAndGlyphs">&#956;</text>
<text x="419.9" y="221.05" font-family="Liberation Serif" font-size="6.6" stroke="#000" stroke-width="0.22">5</text>
<text x="427.3" y="220.65" font-family="Liberation Serif" font-size="11">(</text>
<text x="430.6" y="219.95" font-family="Liberation Serif" font-size="9.3" textLength="20.4" lengthAdjust="spacingAndGlyphs">SMC</text>
<text x="450.9" y="220.65" font-family="Liberation Serif" font-size="11">)</text>
<text x="457.9" y="219.95" font-family="Liberation Serif" font-size="9.3" stroke="#000" stroke-width="0.15">J</text>
<rect x="463" y="216.2" width="6.1" height="0.6" fill="#000"/>
<rect x="463" y="218.4" width="6.1" height="0.6" fill="#000"/>
<text x="469.8" y="219.95" font-family="Liberation Serif" font-size="9.3" stroke="#000" stroke-width="0.1" textLength="9" lengthAdjust="spacingAndGlyphs">10</text>
<text x="479.1" y="215.85" font-family="Liberation Serif" font-size="6.4" stroke="#000" stroke-width="0.2">5</text></g>
</svg>
</body></html>
